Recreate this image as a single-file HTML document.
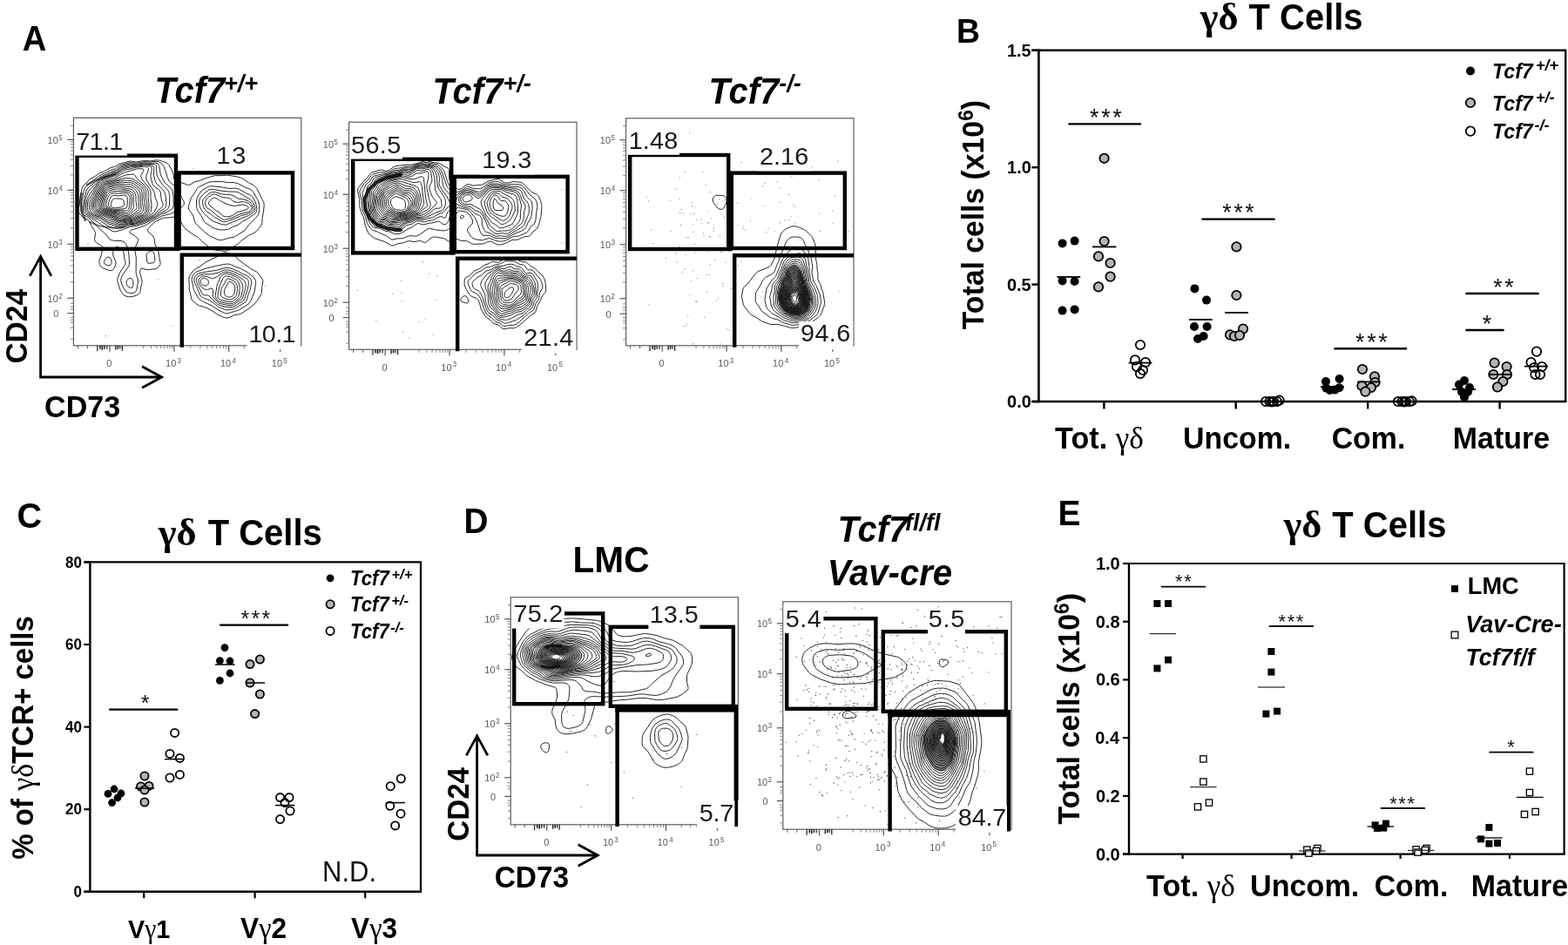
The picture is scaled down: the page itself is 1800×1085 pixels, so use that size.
<!DOCTYPE html>
<html lang="en"><head><meta charset="utf-8"><title>Figure</title>
<style>html,body{margin:0;padding:0;background:#fff}svg{display:block}text{white-space:pre}</style>
</head><body>
<svg width="1800" height="1085" viewBox="0 0 1800 1085" font-family="'Liberation Sans', sans-serif">
<rect width="1800" height="1085" fill="#fff"/>
<clipPath id="clipA1"><rect x="0" y="0" width="261.4" height="261.5"/></clipPath>
<g clip-path="url(#clipA1)" transform="translate(84.4,135.3)" fill="none" stroke="#1c1c1c" stroke-width="0.95" stroke-linejoin="round">
<path d="M78.9,49.5 81.0,49.2 88.1,49.5 96.0,48.5 99.0,49.0 105.4,51.0 108.0,52.5 109.4,54.0 112.5,59.4 114.6,64.5 115.5,70.5 116.6,72.0 132.0,77.2 133.5,76.9 139.5,73.4 145.3,72.0 151.5,69.4 162.0,66.4 171.0,66.3 177.0,65.8 189.0,67.9 192.0,68.7 195.0,70.3 201.0,74.4 207.0,77.5 210.4,81.0 218.5,97.5 218.8,100.5 218.2,106.5 216.7,115.5 216.4,121.5 214.8,124.5 210.0,130.1 207.5,132.0 201.0,135.0 192.9,141.0 189.0,144.5 180.0,150.7 177.0,152.4 174.0,153.1 163.5,152.1 160.5,151.3 157.5,149.9 147.0,141.3 142.5,136.9 136.5,133.5 128.5,127.5 126.1,124.5 121.9,117.0 120.0,114.9 118.5,113.9 115.5,113.7 111.0,114.5 103.5,114.9 101.4,115.5 95.1,118.5 91.1,121.5 85.6,127.5 84.9,129.0 85.4,130.5 90.7,135.0 92.6,138.0 93.6,145.5 96.7,151.5 97.7,154.5 98.4,160.5 99.7,166.5 99.6,168.0 99.0,169.5 97.5,171.4 96.0,172.5 93.0,173.5 85.5,174.4 82.7,174.0 77.9,172.5 76.5,175.2 76.3,178.5 78.5,186.0 78.7,189.0 77.2,195.0 76.6,199.5 75.9,201.0 74.6,202.5 71.8,204.0 67.5,205.2 63.0,205.5 60.0,204.7 58.5,203.9 55.5,201.0 53.8,198.0 50.4,187.5 50.6,184.5 52.9,178.5 54.5,175.5 58.8,169.5 59.5,168.0 59.5,165.0 58.2,160.5 57.8,156.0 57.0,153.0 55.5,150.9 54.0,149.6 51.0,148.3 49.5,148.3 48.0,148.8 46.5,150.5 45.5,153.0 45.2,156.0 45.9,159.0 48.4,165.0 48.6,168.0 46.8,172.5 45.0,174.6 43.5,175.4 40.5,175.1 34.5,172.9 31.6,171.0 29.9,168.0 29.3,165.0 31.9,157.5 33.3,150.0 33.2,148.5 31.5,146.2 27.1,144.0 25.4,142.5 24.4,141.0 24.1,139.5 25.1,133.5 25.1,132.0 23.9,129.0 21.0,124.7 18.0,118.7 16.6,117.0 10.5,113.7 7.7,111.0 6.0,108.0 5.5,105.0 6.9,99.0 7.7,91.5 9.6,81.0 11.4,78.0 18.6,70.5 24.3,67.5 30.0,63.2 35.0,61.5 42.0,57.6 48.0,55.7 52.5,53.0 64.5,49.7 72.0,50.6Z M170.4,156.0 172.5,154.8 174.0,154.7 183.0,156.5 184.5,157.3 188.3,162.0 190.1,163.5 204.0,173.6 210.0,176.7 211.5,177.9 216.5,184.5 217.5,187.5 216.3,195.0 215.9,201.0 215.4,202.5 210.8,210.0 208.4,213.0 202.5,218.2 192.0,225.0 190.5,225.5 184.5,226.4 180.0,228.8 177.0,229.7 174.0,229.5 171.0,228.5 165.0,225.7 159.0,221.5 154.5,219.0 150.0,217.2 144.0,215.5 140.2,213.0 136.6,210.0 135.6,208.5 132.8,196.5 132.9,190.5 132.4,186.0 132.6,183.0 134.1,180.0 137.5,175.5 139.5,173.8 145.5,170.5 151.5,165.8 165.6,159.0Z M77.9,51.0 81.0,50.4 88.5,50.7 94.5,50.0 97.5,50.4 101.2,52.5 103.5,55.5 105.8,61.5 107.9,69.0 110.4,73.5 114.0,76.8 120.0,78.9 121.1,79.5 122.4,81.0 122.7,82.5 122.7,88.5 124.0,91.5 126.8,96.0 127.0,99.0 126.2,100.5 121.2,105.0 116.4,108.0 111.0,110.3 101.9,112.5 90.4,118.5 84.0,122.7 73.5,126.7 66.0,128.9 64.4,130.5 64.5,132.1 70.5,135.5 73.4,138.0 74.3,139.5 74.3,141.0 71.0,148.5 70.4,151.5 71.9,160.5 71.7,177.0 72.2,180.0 74.1,186.0 74.0,189.0 72.3,198.0 71.5,199.5 69.0,201.1 66.0,201.4 63.0,200.8 60.0,199.5 58.5,197.4 55.3,190.5 54.4,187.5 54.6,184.5 55.5,182.0 58.6,177.0 63.1,171.0 64.2,168.0 63.6,157.5 62.2,150.0 60.6,145.5 58.5,142.9 55.5,141.3 46.5,141.0 43.5,140.4 41.4,139.5 37.0,133.5 30.0,127.5 18.4,115.5 16.4,114.0 12.0,111.7 10.5,110.4 9.0,108.0 8.5,105.0 10.1,93.0 11.8,84.0 12.8,81.0 18.0,75.5 28.5,67.2 31.5,65.2 37.3,63.0 42.0,60.2 48.0,58.5 52.5,55.2 55.5,53.8 64.5,51.3 72.0,51.9Z M157.5,73.5 169.5,73.0 177.0,74.3 184.5,74.3 189.0,75.5 196.5,79.4 204.0,82.6 206.6,85.5 212.4,96.0 213.3,100.5 213.3,106.5 212.7,109.5 211.5,112.1 210.0,114.1 201.1,123.0 196.5,129.4 184.5,136.8 177.0,138.2 171.0,140.2 168.0,140.4 165.0,139.7 156.0,135.3 150.0,130.6 140.4,121.5 138.9,118.5 137.9,114.0 136.7,111.0 132.3,105.0 131.8,102.0 135.2,91.5 139.5,85.5 142.0,81.0 144.0,79.3 153.0,74.9Z M88.2,153.0 90.0,152.9 92.0,154.5 92.9,157.5 93.5,163.5 93.0,165.4 91.5,166.4 87.0,167.2 85.5,166.8 84.3,165.0 83.6,157.5 84.0,156.0 85.4,154.5Z M38.0,160.5 39.0,159.9 40.5,159.9 42.0,160.9 43.4,163.5 43.7,165.0 43.5,167.3 42.0,169.5 40.5,169.7 37.5,168.7 36.1,168.0 35.1,166.5 35.1,165.0 35.8,163.5Z M174.2,168.0 177.0,167.7 180.0,168.2 185.9,171.0 192.0,173.1 199.5,177.2 206.8,183.0 208.7,186.0 209.3,189.0 207.8,199.5 203.4,210.0 201.5,213.0 199.5,214.7 190.1,220.5 178.5,224.2 175.5,224.7 174.0,224.4 166.5,220.9 159.0,215.7 148.5,211.0 144.7,208.5 142.4,205.5 138.0,197.3 135.7,186.0 136.1,183.0 136.8,181.5 138.9,178.5 141.0,176.8 153.0,172.6 163.5,170.1Z M76.7,52.5 81.0,51.5 88.5,52.0 94.5,51.7 96.6,52.5 97.9,54.0 98.4,55.5 99.8,64.5 102.4,70.5 105.3,75.0 112.1,81.0 113.7,84.0 114.8,91.5 114.8,100.5 113.9,103.5 112.6,105.0 108.1,108.0 100.5,110.8 94.5,114.5 82.5,120.8 72.0,124.3 64.5,125.2 57.0,128.4 48.0,130.6 46.5,130.6 43.5,129.5 33.0,123.5 28.5,119.9 22.5,116.4 12.5,109.5 11.4,108.0 10.8,106.5 10.8,103.5 12.3,93.0 15.0,82.8 16.5,80.6 22.5,75.8 29.1,69.0 31.5,67.3 37.5,64.9 42.0,62.4 49.2,60.0 54.0,56.1 57.0,54.8 64.5,52.7 72.0,53.1Z M153.9,79.5 156.0,78.5 159.0,78.4 171.0,79.7 178.5,81.1 186.0,80.8 190.5,82.1 198.0,86.4 202.5,88.4 205.5,91.1 208.3,96.0 209.9,100.5 210.5,105.0 209.8,108.0 208.8,109.5 207.0,110.9 199.5,116.1 194.5,118.5 189.0,122.9 183.0,125.0 177.0,128.2 172.5,128.7 168.0,128.6 162.0,127.0 159.0,125.6 151.5,120.5 150.0,118.9 146.6,112.5 142.4,106.5 141.1,102.0 141.1,94.5 142.1,91.5 144.0,88.0 147.0,83.7Z M172.7,172.5 177.0,172.1 180.0,172.6 189.0,176.2 193.5,178.7 198.0,180.7 201.0,182.6 202.8,184.5 203.7,186.0 204.4,189.0 202.6,198.0 200.3,204.0 199.1,208.5 197.4,211.5 186.0,218.5 183.0,219.5 177.0,220.5 174.0,220.3 166.5,217.2 160.5,212.4 156.0,209.6 153.0,208.1 150.0,207.4 147.0,205.7 144.6,202.5 142.4,196.5 138.9,189.0 138.4,186.0 139.0,183.0 139.9,181.5 141.4,180.0 144.0,178.6 148.5,177.4 165.0,174.9Z M63.6,184.5 64.5,184.1 66.0,184.3 67.5,185.4 68.4,187.5 68.5,192.0 67.5,195.0 66.0,195.3 64.5,194.8 62.4,193.5 61.2,192.0 60.7,190.5 60.9,187.5 61.5,186.2Z M81.2,52.5 93.0,53.5 94.2,54.0 95.2,55.5 95.4,64.5 96.3,67.5 101.8,76.5 108.0,82.6 108.9,84.0 110.0,87.0 110.3,91.5 110.1,100.5 109.0,103.5 107.8,105.0 105.9,106.5 99.0,109.8 94.5,113.0 82.5,119.3 72.0,122.8 64.5,123.6 57.0,126.3 51.0,127.0 46.5,126.6 42.0,125.2 39.0,123.8 29.2,117.0 24.0,115.2 21.0,113.5 15.0,109.5 13.4,108.0 12.3,105.0 13.3,96.0 13.9,93.0 16.7,85.5 18.5,82.5 24.0,77.3 30.0,70.0 33.0,68.0 38.2,66.0 42.0,64.0 49.3,61.5 54.0,57.7 57.0,56.1 64.5,54.0 73.5,54.0Z M155.6,82.5 159.0,81.9 169.5,83.8 178.5,84.7 186.0,84.8 189.0,85.4 204.0,94.4 206.3,97.5 207.7,100.5 208.3,103.5 208.0,106.5 207.0,108.0 205.5,109.3 201.0,112.2 192.1,115.5 187.5,117.9 181.5,119.9 175.5,122.8 171.0,122.6 160.5,118.9 157.5,116.9 150.0,110.0 146.3,105.0 145.0,102.0 144.4,99.0 144.4,94.5 145.7,91.5 149.6,87.0Z M171.1,175.5 174.0,174.7 178.5,174.8 187.5,178.2 198.9,184.5 200.2,186.0 200.8,187.5 200.9,190.5 199.9,196.5 196.2,208.5 195.1,210.0 193.5,211.0 189.5,213.0 185.7,216.0 183.0,217.2 175.5,217.4 168.0,215.3 165.0,213.6 159.2,208.5 156.0,204.8 154.5,203.7 150.0,203.6 148.5,202.8 147.0,200.9 141.5,189.0 140.9,186.0 141.2,184.5 142.5,182.5 145.5,180.4 150.0,179.4 156.0,179.6 159.0,179.3 166.5,177.7Z M78.4,54.0 82.5,53.4 86.9,54.0 91.5,55.4 92.5,57.0 92.1,66.0 94.0,73.5 96.0,76.4 99.9,79.5 102.6,82.5 104.5,85.5 105.6,88.5 106.5,97.5 106.4,100.5 105.2,103.5 103.5,105.0 99.0,107.5 93.0,112.4 82.5,117.9 70.5,121.9 63.0,122.6 57.0,124.7 54.0,125.1 51.0,124.8 40.5,122.0 30.7,115.5 28.5,114.5 24.0,113.4 21.0,111.9 15.8,108.0 14.7,106.5 14.2,103.5 14.9,96.0 15.8,93.0 22.2,82.5 28.8,73.5 31.5,70.6 34.2,69.0 42.0,65.6 49.5,62.8 57.0,57.5 66.0,55.1 73.5,54.9Z M157.9,85.5 162.0,85.1 171.0,87.8 180.0,88.2 184.5,89.9 189.0,92.9 193.5,93.2 196.5,93.9 201.0,95.8 204.0,98.1 206.1,102.0 206.3,105.0 205.6,106.5 204.1,108.0 199.5,110.4 192.0,112.5 184.5,115.9 175.5,119.3 172.5,119.5 171.0,119.2 162.0,114.3 156.5,109.5 153.0,107.5 150.5,105.0 149.0,102.0 148.1,97.5 148.5,94.5 149.3,93.0 154.5,87.5Z M174.0,177.0 178.5,177.3 187.5,180.7 194.8,186.0 196.5,187.5 197.3,189.0 197.7,192.0 197.2,196.5 194.1,207.0 192.7,208.5 189.0,210.7 184.5,214.2 183.0,214.9 180.0,215.3 175.5,214.9 169.5,213.5 166.5,212.3 162.4,208.5 160.4,205.5 159.9,204.0 160.2,198.0 159.0,195.7 157.5,195.7 154.5,197.1 153.0,197.4 150.0,196.5 147.0,194.4 145.2,192.0 143.9,189.0 143.7,186.0 144.3,184.5 145.5,183.2 147.0,182.2 148.5,181.8 151.5,181.8 154.5,182.6 159.0,184.6 160.5,184.3 165.0,182.3 171.0,178.0Z M75.4,55.5 81.0,54.5 84.0,54.5 87.6,55.5 89.6,57.0 89.8,60.0 88.7,64.5 88.5,67.5 90.4,75.0 91.5,77.2 93.0,79.1 98.1,82.5 99.9,85.5 100.7,93.0 102.6,99.0 102.6,100.5 102.0,102.1 97.5,106.0 94.4,109.5 91.5,111.7 81.0,117.4 70.5,121.0 63.4,121.5 57.0,123.5 54.0,123.7 51.0,123.2 46.5,121.6 40.5,120.1 30.9,114.0 22.5,111.4 17.9,108.0 16.7,106.5 15.9,103.5 16.2,97.5 17.0,94.5 21.0,88.8 25.1,81.0 29.1,75.0 31.5,72.3 36.0,69.5 49.5,64.0 55.5,59.8 58.0,58.5 66.0,56.4Z M158.5,88.5 160.5,87.8 162.0,87.7 163.5,88.0 171.0,91.2 178.5,92.1 180.0,92.9 183.6,96.0 186.0,96.9 189.0,97.0 195.0,96.3 198.0,97.0 201.0,98.4 203.4,100.5 204.2,102.0 204.5,103.5 204.2,105.0 203.1,106.5 201.0,107.8 190.5,110.7 181.5,115.0 174.0,117.0 171.0,116.6 163.5,111.4 157.5,105.9 153.4,103.5 151.5,100.5 151.1,97.5 151.9,94.5 154.5,91.4Z M171.6,180.0 174.0,179.1 177.0,179.1 180.0,179.9 187.5,183.0 190.8,186.0 192.9,189.0 194.2,192.0 194.4,196.5 192.2,205.5 191.0,207.0 184.5,212.1 183.0,212.9 180.0,213.4 177.0,213.2 168.0,211.1 166.5,210.3 164.5,208.5 163.0,205.5 162.8,204.0 165.1,190.5 168.7,183.0Z M147.6,184.5 150.0,184.0 151.5,184.3 154.1,186.0 154.9,187.5 155.1,189.0 154.8,190.5 153.8,192.0 153.0,192.6 150.0,192.7 148.5,192.2 147.0,191.0 146.0,189.0 145.8,187.5 146.2,186.0Z M71.9,57.0 81.0,55.8 84.0,56.2 85.6,57.0 86.1,58.5 85.9,60.0 83.2,67.5 83.4,70.5 84.9,73.5 92.1,84.0 93.1,87.0 93.7,91.5 96.3,97.5 96.6,99.0 95.9,102.0 92.6,108.0 91.3,109.5 82.5,115.4 72.0,119.4 69.0,120.1 63.0,120.6 55.5,122.4 52.5,122.1 46.5,119.7 40.5,117.9 31.5,112.7 24.0,110.4 22.2,109.5 20.3,108.0 19.2,106.5 18.2,103.5 18.1,99.0 18.6,96.0 22.5,90.0 26.0,82.5 29.8,76.5 32.3,73.5 36.0,71.1 49.5,65.5 58.5,60.1Z M158.9,93.0 160.5,92.0 162.0,91.6 163.5,92.1 168.0,95.1 172.5,97.4 178.5,99.8 183.0,101.0 186.0,101.0 193.5,99.7 196.5,100.0 198.1,100.5 200.2,102.0 200.7,103.5 199.3,105.0 187.5,108.6 181.5,112.6 178.5,113.4 174.0,113.6 171.4,112.5 168.0,109.0 163.5,106.4 156.2,100.5 155.3,99.0 155.1,97.5 156.0,95.6Z M172.3,183.0 174.0,181.9 175.5,181.6 180.0,182.4 187.1,186.0 188.5,187.5 190.1,190.5 191.0,195.0 189.8,204.0 187.7,207.0 183.0,210.6 181.5,211.1 178.5,211.2 169.5,209.2 168.0,208.6 166.5,207.3 165.6,205.5 165.8,202.5 167.5,193.5 171.4,184.5Z M73.1,58.5 79.6,58.5 80.5,60.0 80.2,61.5 77.4,66.0 77.3,67.5 78.7,70.5 80.8,73.5 87.1,81.0 88.4,84.0 88.7,87.0 88.5,91.5 89.5,99.0 89.3,105.0 88.6,108.0 86.1,111.0 81.0,114.7 70.5,118.6 63.0,119.5 55.5,120.9 52.5,120.5 46.5,117.8 42.0,116.3 34.7,112.5 24.0,108.4 22.5,107.4 21.0,105.3 20.4,103.5 20.1,100.5 20.3,97.5 21.6,94.5 24.4,90.0 27.8,82.5 33.0,75.0 36.0,72.9 46.5,69.0 58.5,62.7Z M175.1,186.0 177.0,184.8 178.5,184.8 181.5,185.9 186.0,188.9 187.7,192.0 188.1,196.5 187.6,201.0 186.7,204.0 184.5,206.8 181.5,208.4 178.5,208.7 175.5,208.2 171.0,206.1 170.1,205.5 169.2,204.0 169.1,201.0 169.6,196.5 171.0,193.6 173.2,190.5Z M58.9,66.0 61.5,65.3 69.0,64.7 70.5,65.9 72.4,69.0 73.8,70.5 79.5,75.5 84.4,81.0 85.3,82.5 86.0,85.5 85.6,91.5 86.5,97.5 86.6,105.0 86.0,108.0 85.2,109.5 83.9,111.0 81.0,113.2 69.0,117.8 55.5,119.7 52.5,119.1 24.2,106.5 22.9,105.0 22.3,103.5 21.8,99.0 22.6,96.0 25.5,91.0 28.6,84.0 32.3,78.0 34.5,75.5 37.5,73.7 43.6,72.0Z M177.8,189.0 178.5,188.3 180.0,188.2 183.0,190.0 184.6,192.0 185.4,195.0 185.0,199.5 184.1,202.5 183.1,204.0 181.5,205.2 178.5,205.9 176.2,205.5 174.2,204.0 173.4,202.5 172.9,199.5 173.6,196.5Z M52.5,70.5 60.0,69.1 64.5,69.4 67.5,70.0 70.5,71.5 78.0,76.8 82.0,81.0 83.3,84.0 83.0,91.5 84.3,99.0 84.6,105.0 84.1,108.0 83.3,109.5 81.0,111.7 69.0,116.7 55.4,118.5 52.5,117.8 46.5,114.8 31.5,108.6 25.5,105.4 24.0,103.5 23.2,100.5 23.5,97.5 24.0,96.2 26.8,91.5 30.1,84.0 34.5,77.3 37.5,75.1Z M54.3,72.0 61.5,71.8 67.5,72.5 70.5,74.1 76.5,78.1 79.6,81.0 80.9,84.0 80.8,91.5 82.7,105.0 82.2,108.0 81.3,109.5 79.5,111.0 67.5,116.0 60.0,117.2 55.5,117.4 52.5,116.6 47.4,114.0 32.7,108.0 27.5,105.0 25.9,103.5 24.7,100.5 24.9,97.5 28.3,91.5 30.8,85.5 35.5,78.0 37.4,76.5 39.0,75.8 43.5,74.8 49.5,72.6Z M47.2,75.0 49.5,74.2 52.5,73.8 66.0,74.5 69.0,75.6 76.5,81.0 78.0,83.1 78.6,85.5 79.0,96.0 80.3,105.0 79.6,108.0 78.1,109.5 69.0,114.0 66.0,115.1 60.0,116.1 55.5,116.0 52.5,115.1 33.0,106.9 28.3,103.5 27.1,102.0 26.6,100.5 26.8,97.5 30.0,91.5 32.4,85.5 35.0,81.0 37.5,78.1 39.0,77.3Z M47.2,76.5 49.5,75.7 52.5,75.5 60.0,76.8 66.0,76.8 69.0,78.1 74.4,82.5 76.2,85.5 76.6,88.5 76.9,97.5 77.8,105.0 77.4,106.5 76.3,108.0 65.6,114.0 61.5,114.9 58.5,114.9 54.0,114.1 43.5,110.1 34.5,106.4 32.0,105.0 30.4,103.5 28.7,100.5 28.9,97.5 33.1,87.0 35.6,82.5 37.5,80.0 39.0,78.9Z M47.5,78.0 49.5,77.4 52.5,77.2 60.0,79.0 66.0,79.3 69.0,80.8 70.9,82.5 73.2,85.5 74.4,90.0 74.7,97.5 75.4,103.5 75.2,105.0 74.3,106.5 65.6,112.5 63.0,113.5 60.0,113.8 57.0,113.3 43.5,109.1 34.5,105.2 32.2,103.5 30.5,100.5 30.7,97.5 33.9,88.5 36.0,84.3 39.0,80.7 40.5,80.0Z M48.6,79.5 52.5,79.2 60.0,81.1 66.0,81.9 67.5,82.7 68.9,84.0 70.8,87.0 71.6,90.0 71.6,96.0 72.7,102.0 72.6,103.5 71.8,105.0 69.0,107.1 65.0,111.0 63.0,112.1 61.5,112.5 58.5,112.2 54.0,110.7 45.0,108.7 36.0,104.8 34.0,103.5 32.7,102.0 32.2,100.5 32.3,97.5 35.2,88.5 37.5,84.4 39.0,82.8 40.5,81.8Z M44.7,82.5 49.5,81.6 54.0,81.7 64.5,83.9 66.0,84.6 67.5,86.1 69.0,90.0 68.7,97.5 69.1,102.0 68.7,103.5 66.7,106.5 64.5,109.2 63.0,110.4 61.5,110.9 60.0,110.9 54.0,109.1 45.0,107.8 36.0,103.5 34.4,102.0 33.7,100.5 33.8,97.5 36.1,90.0 37.5,87.0 39.0,85.0 40.5,83.8Z M41.5,85.5 46.5,84.2 57.0,84.1 63.0,85.5 65.4,87.0 66.3,88.5 66.9,91.5 66.4,102.0 65.3,105.0 63.0,108.2 61.5,109.0 60.0,109.1 54.0,107.5 48.0,107.4 45.0,106.9 40.8,105.0 36.4,102.0 35.5,100.5 35.3,99.0 37.2,91.5 39.0,87.7Z M43.4,87.0 46.5,86.4 51.0,86.8 57.0,86.1 61.3,87.0 63.6,88.5 64.5,90.0 64.8,91.5 64.3,100.5 63.7,103.5 63.0,105.0 61.5,106.5 60.0,106.9 54.0,106.0 46.5,106.2 42.7,105.0 38.6,102.0 37.6,100.5 37.3,99.0 39.0,92.4 40.5,89.3 42.0,87.8Z M43.5,90.0 45.0,89.2 46.5,89.0 52.5,89.6 57.0,88.6 58.5,88.7 61.0,90.0 61.9,91.5 62.0,93.0 61.8,100.5 61.5,102.0 60.5,103.5 58.5,104.4 48.0,105.1 45.0,104.7 42.5,103.5 40.8,102.0 40.1,100.5 39.9,99.0 41.6,93.0Z M45.8,93.0 48.0,92.5 55.5,93.0 57.3,94.5 58.0,97.5 57.9,100.5 56.3,102.0 54.0,102.6 48.0,103.6 45.0,103.1 43.4,102.0 42.8,100.5 42.8,99.0 44.5,94.5Z"/>
<path d="M9.1,86.7 8.1,96.7 9.6,108.7 13.6,117.7" stroke="#000" stroke-opacity="0.6" stroke-width="2.6" stroke-linecap="round" stroke-linejoin="round"/>
<path d="M15.6,76.7 25.6,71.7 37.6,67.7 47.6,64.7" stroke="#000" stroke-opacity="0.55" stroke-width="2.6" stroke-linecap="round" stroke-linejoin="round"/>
<path d="M18.6,119.7 29.6,124.2 43.6,126.2 57.6,125.7" stroke="#000" stroke-opacity="0.5" stroke-width="2.2" stroke-linecap="round" stroke-linejoin="round"/>
<path d="M44.1,158.7h1.1 M15.9,144.8h1.1 M112.0,239.0h1.1 M219.6,193.0h1.1 M154.4,179.9h1.1 M145.7,150.6h1.1 M36.6,250.3h1.1 M136.2,58.0h1.1 M75.2,187.2h1.1 M65.9,107.5h1.1 M122.1,168.5h1.1 M96.9,185.4h1.1 M144.1,163.1h1.1 M158.3,204.0h1.1 M89.6,103.1h1.1 M77.4,81.4h1.1 M126.1,155.2h1.1 M154.3,109.3h1.1 M181.0,121.8h1.1 M50.2,123.9h1.1 M63.9,162.3h1.1 M168.0,187.5h1.1" stroke="#8a8a8a" stroke-width="1.1"/>
</g>
<rect x="84.40" y="135.30" width="261.40" height="261.50" fill="none" stroke="#555" stroke-width="1.15"/>
<line x1="77.40" y1="160.30" x2="84.40" y2="160.30" stroke="#444" stroke-width="1.1"/>
<line x1="77.40" y1="218.30" x2="84.40" y2="218.30" stroke="#444" stroke-width="1.1"/>
<line x1="77.40" y1="280.30" x2="84.40" y2="280.30" stroke="#444" stroke-width="1.1"/>
<line x1="77.40" y1="342.30" x2="84.40" y2="342.30" stroke="#444" stroke-width="1.1"/>
<line x1="77.40" y1="359.70" x2="84.40" y2="359.70" stroke="#444" stroke-width="1.1"/>
<line x1="80.90" y1="200.84" x2="84.40" y2="200.84" stroke="#777" stroke-width="0.9"/>
<line x1="80.90" y1="190.63" x2="84.40" y2="190.63" stroke="#777" stroke-width="0.9"/>
<line x1="80.90" y1="183.38" x2="84.40" y2="183.38" stroke="#777" stroke-width="0.9"/>
<line x1="80.90" y1="177.76" x2="84.40" y2="177.76" stroke="#777" stroke-width="0.9"/>
<line x1="80.90" y1="173.17" x2="84.40" y2="173.17" stroke="#777" stroke-width="0.9"/>
<line x1="80.90" y1="169.28" x2="84.40" y2="169.28" stroke="#777" stroke-width="0.9"/>
<line x1="80.90" y1="165.92" x2="84.40" y2="165.92" stroke="#777" stroke-width="0.9"/>
<line x1="80.90" y1="162.95" x2="84.40" y2="162.95" stroke="#777" stroke-width="0.9"/>
<line x1="80.90" y1="261.64" x2="84.40" y2="261.64" stroke="#777" stroke-width="0.9"/>
<line x1="80.90" y1="250.72" x2="84.40" y2="250.72" stroke="#777" stroke-width="0.9"/>
<line x1="80.90" y1="242.97" x2="84.40" y2="242.97" stroke="#777" stroke-width="0.9"/>
<line x1="80.90" y1="236.96" x2="84.40" y2="236.96" stroke="#777" stroke-width="0.9"/>
<line x1="80.90" y1="232.05" x2="84.40" y2="232.05" stroke="#777" stroke-width="0.9"/>
<line x1="80.90" y1="227.90" x2="84.40" y2="227.90" stroke="#777" stroke-width="0.9"/>
<line x1="80.90" y1="224.31" x2="84.40" y2="224.31" stroke="#777" stroke-width="0.9"/>
<line x1="80.90" y1="221.14" x2="84.40" y2="221.14" stroke="#777" stroke-width="0.9"/>
<line x1="80.90" y1="323.64" x2="84.40" y2="323.64" stroke="#777" stroke-width="0.9"/>
<line x1="80.90" y1="312.72" x2="84.40" y2="312.72" stroke="#777" stroke-width="0.9"/>
<line x1="80.90" y1="304.97" x2="84.40" y2="304.97" stroke="#777" stroke-width="0.9"/>
<line x1="80.90" y1="298.96" x2="84.40" y2="298.96" stroke="#777" stroke-width="0.9"/>
<line x1="80.90" y1="294.05" x2="84.40" y2="294.05" stroke="#777" stroke-width="0.9"/>
<line x1="80.90" y1="289.90" x2="84.40" y2="289.90" stroke="#777" stroke-width="0.9"/>
<line x1="80.90" y1="286.31" x2="84.40" y2="286.31" stroke="#777" stroke-width="0.9"/>
<line x1="80.90" y1="283.14" x2="84.40" y2="283.14" stroke="#777" stroke-width="0.9"/>
<line x1="80.90" y1="144.30" x2="84.40" y2="144.30" stroke="#777" stroke-width="0.9"/>
<line x1="80.90" y1="348.30" x2="84.40" y2="348.30" stroke="#777" stroke-width="0.9"/>
<line x1="80.90" y1="352.30" x2="84.40" y2="352.30" stroke="#777" stroke-width="0.9"/>
<line x1="80.90" y1="355.30" x2="84.40" y2="355.30" stroke="#777" stroke-width="0.9"/>
<line x1="80.90" y1="364.30" x2="84.40" y2="364.30" stroke="#777" stroke-width="0.9"/>
<line x1="80.90" y1="367.30" x2="84.40" y2="367.30" stroke="#777" stroke-width="0.9"/>
<line x1="80.90" y1="370.30" x2="84.40" y2="370.30" stroke="#777" stroke-width="0.9"/>
<line x1="80.90" y1="376.30" x2="84.40" y2="376.30" stroke="#777" stroke-width="0.9"/>
<line x1="80.90" y1="389.30" x2="84.40" y2="389.30" stroke="#777" stroke-width="0.9"/>
<line x1="126.00" y1="396.80" x2="126.00" y2="403.80" stroke="#444" stroke-width="1.1"/>
<line x1="199.90" y1="396.80" x2="199.90" y2="403.80" stroke="#444" stroke-width="1.1"/>
<line x1="262.70" y1="396.80" x2="262.70" y2="403.80" stroke="#444" stroke-width="1.1"/>
<line x1="321.60" y1="396.80" x2="321.60" y2="403.80" stroke="#444" stroke-width="1.1"/>
<line x1="218.80" y1="396.80" x2="218.80" y2="400.30" stroke="#777" stroke-width="0.9"/>
<line x1="229.86" y1="396.80" x2="229.86" y2="400.30" stroke="#777" stroke-width="0.9"/>
<line x1="237.71" y1="396.80" x2="237.71" y2="400.30" stroke="#777" stroke-width="0.9"/>
<line x1="243.80" y1="396.80" x2="243.80" y2="400.30" stroke="#777" stroke-width="0.9"/>
<line x1="248.77" y1="396.80" x2="248.77" y2="400.30" stroke="#777" stroke-width="0.9"/>
<line x1="252.97" y1="396.80" x2="252.97" y2="400.30" stroke="#777" stroke-width="0.9"/>
<line x1="256.61" y1="396.80" x2="256.61" y2="400.30" stroke="#777" stroke-width="0.9"/>
<line x1="259.83" y1="396.80" x2="259.83" y2="400.30" stroke="#777" stroke-width="0.9"/>
<line x1="280.43" y1="396.80" x2="280.43" y2="400.30" stroke="#777" stroke-width="0.9"/>
<line x1="290.80" y1="396.80" x2="290.80" y2="400.30" stroke="#777" stroke-width="0.9"/>
<line x1="298.16" y1="396.80" x2="298.16" y2="400.30" stroke="#777" stroke-width="0.9"/>
<line x1="303.87" y1="396.80" x2="303.87" y2="400.30" stroke="#777" stroke-width="0.9"/>
<line x1="308.53" y1="396.80" x2="308.53" y2="400.30" stroke="#777" stroke-width="0.9"/>
<line x1="312.48" y1="396.80" x2="312.48" y2="400.30" stroke="#777" stroke-width="0.9"/>
<line x1="315.89" y1="396.80" x2="315.89" y2="400.30" stroke="#777" stroke-width="0.9"/>
<line x1="318.90" y1="396.80" x2="318.90" y2="400.30" stroke="#777" stroke-width="0.9"/>
<line x1="164.78" y1="396.80" x2="164.78" y2="400.30" stroke="#777" stroke-width="0.9"/>
<line x1="173.62" y1="396.80" x2="173.62" y2="400.30" stroke="#777" stroke-width="0.9"/>
<line x1="179.90" y1="396.80" x2="179.90" y2="400.30" stroke="#777" stroke-width="0.9"/>
<line x1="184.77" y1="396.80" x2="184.77" y2="400.30" stroke="#777" stroke-width="0.9"/>
<line x1="188.75" y1="396.80" x2="188.75" y2="400.30" stroke="#777" stroke-width="0.9"/>
<line x1="192.12" y1="396.80" x2="192.12" y2="400.30" stroke="#777" stroke-width="0.9"/>
<line x1="195.03" y1="396.80" x2="195.03" y2="400.30" stroke="#777" stroke-width="0.9"/>
<line x1="197.60" y1="396.80" x2="197.60" y2="400.30" stroke="#777" stroke-width="0.9"/>
<line x1="89.40" y1="396.80" x2="89.40" y2="400.30" stroke="#555" stroke-width="1.0"/>
<line x1="100.40" y1="396.80" x2="100.40" y2="400.30" stroke="#555" stroke-width="1.0"/>
<line x1="336.40" y1="396.80" x2="336.40" y2="400.30" stroke="#555" stroke-width="1.0"/>
<line x1="111.80" y1="396.80" x2="111.80" y2="403.30" stroke="#222" stroke-width="1.2"/>
<line x1="114.90" y1="396.80" x2="114.90" y2="400.80" stroke="#222" stroke-width="1.6"/>
<line x1="117.40" y1="396.80" x2="117.40" y2="401.80" stroke="#222" stroke-width="1.6"/>
<line x1="120.00" y1="396.80" x2="120.00" y2="400.80" stroke="#222" stroke-width="1.4"/>
<line x1="122.80" y1="396.80" x2="122.80" y2="400.80" stroke="#222" stroke-width="1.2"/>
<line x1="132.90" y1="396.80" x2="132.90" y2="401.80" stroke="#222" stroke-width="1.4"/>
<line x1="135.40" y1="396.80" x2="135.40" y2="400.80" stroke="#222" stroke-width="1.6"/>
<line x1="137.80" y1="396.80" x2="137.80" y2="400.80" stroke="#222" stroke-width="1.2"/>
<line x1="140.40" y1="396.80" x2="140.40" y2="402.80" stroke="#222" stroke-width="1.3"/>
<clipPath id="clipA2"><rect x="0" y="0" width="261.4" height="261.1"/></clipPath>
<g clip-path="url(#clipA2)" transform="translate(400.6,140.2)" fill="none" stroke="#1c1c1c" stroke-width="0.95" stroke-linejoin="round">
<path d="M85.6,45.0 88.5,44.4 90.0,44.5 96.0,46.3 103.5,47.1 109.5,51.0 113.3,52.5 114.5,54.0 115.0,55.5 115.0,64.5 115.6,67.5 116.9,70.5 124.0,76.5 126.0,77.3 129.0,76.6 133.5,72.8 136.5,71.3 138.0,71.3 142.5,73.0 153.0,71.8 160.5,67.6 169.5,65.5 172.5,65.6 177.5,69.0 180.0,69.8 183.0,69.7 189.0,68.3 196.5,69.0 199.5,70.1 210.0,80.6 216.0,83.1 217.0,84.0 219.9,90.0 221.1,94.5 221.3,97.5 220.5,108.0 217.7,118.5 216.4,121.5 215.0,123.0 211.5,125.6 209.1,129.0 207.0,130.8 201.0,131.7 193.5,135.1 187.5,135.2 180.0,139.0 175.5,140.4 172.5,140.9 169.5,140.4 165.0,137.9 162.0,136.9 159.0,137.5 154.5,139.7 144.0,140.2 141.0,139.6 136.5,136.9 135.0,136.5 129.0,136.3 124.5,134.4 121.5,134.5 115.5,136.9 114.0,136.7 109.5,133.7 99.0,131.7 96.0,132.1 94.5,132.8 90.0,136.7 88.5,137.8 87.0,138.3 85.5,138.0 82.5,136.3 81.0,136.2 75.0,137.5 69.0,136.4 67.5,136.6 61.5,138.9 56.4,139.5 51.0,141.7 49.5,141.8 48.0,141.4 40.5,137.1 29.5,133.5 24.0,129.3 22.5,127.7 21.0,124.8 18.7,118.5 16.8,109.5 14.1,103.5 12.3,97.5 12.1,88.5 10.0,79.5 10.2,76.5 11.0,75.0 17.2,67.5 21.0,64.1 24.0,59.9 25.5,58.4 27.0,57.5 36.0,54.9 37.5,54.9 42.0,56.2 43.5,56.2 45.8,55.5 51.0,51.7 54.0,50.4 64.5,49.1 72.0,48.9 81.3,46.5Z M129.0,107.3 128.2,108.0 127.8,109.5 129.0,111.1 131.4,109.5 131.8,108.0 130.5,107.1Z M177.3,157.5 180.0,156.4 186.0,156.7 190.5,156.5 193.3,157.5 196.5,159.7 198.0,160.2 202.5,160.6 204.0,161.2 208.0,165.0 213.4,168.0 217.5,172.3 221.8,175.5 224.3,180.0 225.6,184.5 226.1,192.0 225.7,195.0 225.0,196.4 221.7,199.5 219.5,205.5 216.0,211.2 214.5,217.0 213.4,219.0 208.5,222.0 199.5,230.1 195.0,233.5 192.0,235.6 189.0,236.7 184.5,236.4 178.5,237.5 177.0,237.3 175.5,236.5 172.5,233.6 171.0,232.7 165.7,231.0 162.0,227.0 157.5,224.0 155.8,222.0 151.6,214.5 150.0,208.2 148.5,204.5 146.7,202.5 145.5,201.8 141.0,200.3 138.0,197.8 133.2,189.0 132.4,186.0 132.6,181.5 133.5,179.0 135.0,177.8 138.0,176.6 139.5,175.5 142.5,172.0 144.0,170.8 150.0,168.3 154.5,164.6 160.5,162.4 163.5,160.6 165.0,160.2 171.0,161.0 172.8,160.5Z M86.1,46.5 90.0,46.3 100.5,48.4 103.2,49.5 105.0,51.0 107.7,54.0 109.5,57.0 112.8,67.5 114.7,72.0 115.7,73.5 119.2,76.5 121.5,79.2 123.0,80.1 124.5,80.2 127.5,79.3 130.0,78.0 135.0,74.2 136.5,73.9 142.5,76.1 148.5,76.6 151.5,76.2 154.5,74.5 160.5,69.9 163.5,69.0 168.0,68.4 171.0,68.3 172.5,68.7 176.2,70.5 180.0,71.7 187.5,71.4 195.0,71.7 198.0,72.4 199.5,73.5 202.3,76.5 207.0,82.8 213.0,87.6 214.7,90.0 215.9,93.0 216.2,97.5 215.2,103.5 214.3,112.5 213.0,116.6 208.5,120.1 205.5,125.4 204.0,126.7 195.0,130.8 189.0,131.3 187.5,131.8 180.0,135.9 177.0,136.7 174.0,137.0 169.5,136.5 162.0,133.5 160.5,133.3 153.0,135.7 145.5,134.7 142.5,133.4 139.4,130.5 136.0,124.5 136.0,123.0 136.7,121.5 141.5,117.0 142.1,114.0 141.3,111.0 137.3,105.0 135.6,103.5 133.5,102.8 127.5,101.8 126.0,102.0 124.5,103.2 123.4,105.0 120.0,111.7 117.9,118.5 116.4,121.5 114.0,123.4 111.0,124.4 108.0,124.7 99.0,123.6 93.0,122.1 91.5,122.3 88.5,123.8 81.5,129.0 78.0,130.7 75.0,130.9 70.5,130.4 67.5,131.1 61.5,133.6 55.5,133.7 49.5,135.0 48.0,134.5 43.1,130.5 37.5,128.4 33.0,126.1 27.0,123.8 24.0,121.1 21.0,116.3 18.6,108.0 15.9,102.0 15.1,99.0 14.6,90.0 12.7,82.5 12.3,79.5 13.5,76.5 17.4,70.5 22.5,65.8 25.5,61.4 27.0,60.1 28.5,59.5 36.0,57.5 43.5,57.9 46.4,57.0 52.5,53.3 58.5,52.7 64.5,51.0 70.5,51.0 76.5,48.9Z M177.7,160.5 180.0,159.6 190.5,159.9 195.0,162.8 201.0,164.3 202.5,165.6 204.0,168.6 205.5,169.5 210.0,169.8 211.5,170.6 216.0,176.5 219.4,180.0 221.4,184.5 222.3,189.0 222.0,190.9 219.0,195.8 218.0,202.5 217.4,204.0 214.3,208.5 212.5,214.5 211.5,216.1 206.9,219.0 195.5,229.5 192.0,232.1 189.0,233.1 184.5,233.2 178.5,234.5 177.0,233.9 173.4,231.0 168.0,228.9 163.5,224.3 159.6,222.0 158.0,220.5 155.1,214.5 151.7,204.0 150.0,200.6 147.0,197.1 141.0,194.3 139.5,192.0 136.8,186.0 136.5,184.5 136.6,183.0 137.5,181.5 145.5,173.5 151.5,170.9 156.0,167.4 157.5,166.8 162.0,166.4 166.5,164.2 174.0,162.6Z M86.4,48.0 90.0,47.8 97.8,49.5 100.5,50.4 103.4,52.5 105.7,55.5 107.1,58.5 112.5,74.1 117.6,79.5 120.0,84.0 121.5,84.8 123.0,84.2 125.1,82.5 135.0,76.4 136.5,76.3 148.5,80.2 150.0,80.2 153.0,78.6 159.0,72.9 162.0,71.2 163.5,70.8 171.0,70.8 180.0,73.3 195.0,74.5 198.0,75.7 201.2,79.5 204.1,85.5 208.8,90.0 209.6,91.5 210.4,94.5 210.5,100.5 209.3,108.0 208.3,111.0 205.5,115.5 202.8,121.5 201.6,123.0 199.5,124.4 189.0,128.7 181.5,132.9 178.5,133.7 169.5,133.4 166.5,132.7 162.0,130.4 160.5,130.1 154.5,130.2 152.6,129.0 150.7,126.0 147.9,117.0 145.5,111.0 139.5,103.2 138.0,101.7 136.5,100.9 126.0,98.2 124.5,98.4 123.0,99.5 120.0,103.1 117.0,105.8 115.9,108.0 114.0,114.2 112.5,116.4 111.0,117.3 109.5,117.6 108.0,117.3 103.5,114.0 102.0,113.9 97.5,115.4 91.5,116.2 85.5,117.8 79.5,116.3 77.4,117.0 72.0,120.8 67.5,122.7 61.5,126.7 58.5,128.0 55.5,128.6 52.5,128.5 47.4,126.0 42.0,125.2 36.0,122.2 28.5,120.9 25.7,118.5 22.5,113.7 18.3,100.5 17.7,94.5 15.6,84.0 15.4,81.0 19.5,71.6 24.0,68.1 27.0,63.0 28.5,61.9 37.5,59.8 43.5,59.3 46.3,58.5 52.5,55.4 57.0,55.1 64.5,52.5 70.5,52.8 78.0,49.5Z M181.8,163.5 186.0,163.0 189.0,163.5 192.0,165.4 198.0,167.1 199.5,168.7 201.0,171.8 202.5,173.3 204.0,173.7 208.5,173.1 210.0,173.7 211.5,175.4 216.2,183.0 217.0,187.5 215.9,201.0 215.2,202.5 212.8,205.5 211.0,211.5 210.0,213.6 205.5,216.6 201.0,221.2 192.0,227.3 180.0,231.1 178.5,230.9 175.5,229.1 169.5,226.8 165.0,221.5 160.2,219.0 159.0,217.5 157.0,213.0 153.3,201.0 151.5,197.4 150.0,194.9 148.5,193.5 145.0,192.0 143.2,190.5 142.3,189.0 141.5,186.0 141.5,184.5 142.3,183.0 147.0,178.5 151.5,176.3 157.5,170.9 163.5,169.3 167.4,166.5 169.5,165.6 177.0,165.1Z M85.0,49.5 90.0,48.9 94.5,49.8 99.0,51.5 102.1,54.0 104.2,57.0 106.0,61.5 107.2,66.0 107.7,72.0 108.9,75.0 110.8,78.0 114.2,81.0 115.2,82.5 117.0,87.1 121.4,93.0 121.0,96.0 120.0,98.2 118.5,99.9 114.0,102.5 112.5,105.0 111.0,109.7 109.5,110.2 106.5,108.4 105.0,108.4 102.0,109.4 96.0,112.7 91.5,113.3 87.0,114.5 85.5,114.7 81.0,113.7 78.0,113.6 76.5,114.1 72.0,117.1 66.0,118.5 60.0,124.1 57.0,125.6 55.5,125.8 52.5,125.2 49.5,123.5 42.0,122.7 37.5,120.4 31.5,119.9 30.0,119.5 28.5,118.6 25.1,114.0 22.8,109.5 20.4,99.0 18.5,87.0 18.8,84.0 19.8,81.0 21.0,74.4 22.5,72.6 25.6,70.5 28.5,64.6 30.0,63.6 31.5,63.2 39.0,61.1 45.1,60.0 51.0,57.4 57.0,56.5 63.0,54.1 64.5,53.8 69.0,54.4 70.5,54.2 78.0,50.3Z M160.4,73.5 163.5,72.4 172.5,72.7 181.5,75.0 189.0,75.9 195.0,77.3 196.5,78.1 198.0,79.8 201.0,87.9 204.5,91.5 206.1,94.5 206.8,99.0 206.7,103.5 205.8,106.5 200.8,118.5 199.5,120.0 198.0,121.1 181.5,130.8 178.5,131.2 174.0,130.5 169.5,131.1 168.0,130.9 162.0,127.6 157.0,126.0 155.6,124.5 153.5,120.0 152.7,117.0 152.7,112.5 152.3,111.0 151.5,109.0 150.0,107.3 144.0,104.7 140.0,100.5 138.0,99.2 132.0,98.0 124.3,94.5 123.0,93.3 122.1,93.0 124.0,87.0 125.9,84.0 127.6,82.5 133.5,78.7 135.0,78.1 136.5,78.1 144.0,80.4 148.1,82.5 150.0,82.5 153.0,80.7Z M182.8,166.5 184.5,166.1 186.0,166.3 190.5,168.6 195.0,168.8 196.5,169.3 201.0,174.9 202.5,175.7 207.0,176.0 209.2,177.0 212.1,181.5 213.5,184.5 214.1,187.5 214.7,196.5 214.2,199.5 211.5,203.3 210.4,205.5 209.4,210.0 208.5,211.7 207.0,213.0 204.0,215.0 199.5,219.4 193.5,221.2 187.5,224.8 183.0,226.7 180.0,227.3 174.0,226.3 171.0,225.3 169.5,223.9 166.5,219.3 162.0,217.1 160.5,215.6 157.1,207.0 156.6,204.0 156.3,198.0 151.8,189.0 151.2,187.5 151.1,186.0 152.8,181.5 157.5,175.5 159.2,174.0 163.5,171.7 168.0,168.0 169.5,167.3 172.5,167.0 177.0,168.4 178.5,168.4Z M79.4,51.0 85.5,50.8 90.0,50.1 93.0,50.4 97.5,52.5 100.4,55.5 102.4,58.5 103.4,61.5 103.9,64.5 103.4,70.5 104.2,73.5 106.9,78.0 112.5,85.5 116.1,93.0 116.3,94.5 115.8,96.0 112.5,98.6 109.5,102.4 108.0,103.6 102.0,106.1 96.0,109.5 91.5,110.4 85.5,112.3 79.5,111.7 76.5,112.1 72.0,114.7 67.5,115.7 64.6,117.0 60.0,121.8 57.0,123.5 55.5,123.7 54.0,123.3 49.5,121.3 43.5,121.1 39.0,118.8 37.7,118.5 33.0,118.6 30.0,117.5 28.2,115.5 24.2,108.0 22.0,97.5 21.1,90.0 21.3,87.0 23.2,76.5 27.4,72.0 30.0,66.6 31.5,65.4 39.0,62.7 51.0,58.9 57.0,57.7 63.0,55.4 64.5,55.1 69.0,56.0 70.5,55.7 76.5,51.9Z M160.8,75.0 163.5,74.0 174.0,74.5 181.5,76.7 189.0,77.9 192.0,78.8 195.0,81.0 196.1,82.5 198.9,90.0 202.1,94.5 202.5,97.5 200.9,103.5 200.7,109.5 200.1,112.5 198.7,115.5 197.5,117.0 190.3,123.0 183.0,127.6 180.0,128.2 175.5,127.5 169.5,128.4 167.2,127.5 161.1,123.0 159.9,121.5 156.4,112.5 153.0,106.1 151.5,104.2 150.0,103.2 145.5,101.7 139.5,97.2 133.5,96.3 130.5,95.2 127.4,93.0 126.4,91.5 126.0,88.5 126.9,85.5 129.0,83.2 133.5,80.4 135.0,79.8 138.0,80.1 142.5,81.6 147.0,84.5 148.5,84.9 150.0,84.6 151.5,83.9 154.5,81.4Z M168.8,169.5 171.0,168.7 172.5,168.9 177.0,170.9 178.5,171.1 183.0,169.5 184.5,169.3 189.0,171.0 195.0,171.4 196.5,172.5 198.9,175.5 201.0,177.0 206.0,178.5 207.0,179.0 208.5,180.5 210.6,184.5 211.7,187.5 212.7,192.0 212.9,196.5 212.5,198.0 209.5,202.5 207.8,208.5 207.0,209.9 199.5,216.5 198.0,217.3 192.0,218.3 186.0,221.7 177.0,224.2 174.0,224.2 172.5,223.8 171.0,222.6 168.0,217.8 162.4,213.0 160.9,210.0 159.9,207.0 159.6,198.0 159.0,195.5 156.7,190.5 156.2,186.0 157.2,183.0 161.2,177.0 163.9,174.0Z M77.2,52.5 79.5,51.9 84.0,52.2 91.5,51.2 95.3,52.5 98.0,55.5 99.7,58.5 100.8,61.5 101.3,70.5 102.2,75.0 103.9,78.0 109.1,85.5 110.3,88.5 110.9,91.5 110.9,94.5 109.1,99.0 108.0,100.5 106.5,101.7 99.0,104.0 94.5,106.6 85.5,110.5 76.5,110.7 72.0,113.2 66.0,114.8 63.0,116.8 58.5,121.2 57.0,121.8 55.5,121.9 51.0,120.1 45.0,120.0 43.5,119.6 39.0,117.2 34.5,117.5 31.5,116.9 30.0,115.7 28.9,114.0 25.2,106.5 23.5,99.0 22.9,93.0 24.0,81.0 24.6,78.0 28.5,73.3 30.5,69.0 31.5,67.7 33.0,66.6 40.5,63.4 51.0,60.1 57.0,58.8 63.0,56.5 64.5,56.4 69.0,57.4 70.5,57.0Z M161.0,76.5 163.5,75.6 172.5,75.7 175.5,76.1 181.5,78.4 187.5,79.4 190.5,80.4 193.3,82.5 194.4,84.0 195.6,87.0 198.0,96.0 196.9,103.5 196.7,111.0 195.4,114.0 191.6,118.5 189.0,121.1 186.0,123.2 183.0,124.5 181.5,124.7 177.0,124.7 171.0,125.4 169.5,125.1 163.5,120.5 162.0,118.8 154.5,105.3 151.5,101.1 150.0,99.9 141.0,94.9 138.0,94.3 133.5,94.4 130.5,93.1 128.9,91.5 128.0,88.5 128.7,85.5 130.1,84.0 133.5,81.9 136.5,81.3 139.5,81.9 142.5,83.5 145.5,86.3 147.0,87.1 148.5,87.3 150.0,86.8 153.0,84.8Z M169.4,171.0 171.0,170.5 172.5,170.7 177.0,172.7 178.5,172.9 184.5,171.7 189.0,172.8 193.5,173.1 195.0,173.7 199.5,177.6 205.5,180.6 207.0,182.1 209.2,186.0 210.7,190.5 211.2,193.5 210.9,196.5 208.5,200.7 206.7,207.0 205.9,208.5 199.5,214.0 196.5,215.4 192.0,216.0 186.0,219.3 181.5,220.2 177.0,222.1 174.0,222.4 172.5,221.6 169.5,217.4 164.4,211.5 162.5,207.0 161.3,198.0 159.7,192.0 159.4,189.0 159.7,187.5 162.1,183.0 164.2,177.0 166.3,174.0Z M89.3,52.5 91.5,52.4 93.0,52.9 94.6,54.0 96.4,57.0 98.4,64.5 98.7,75.0 99.1,78.0 101.0,82.5 105.5,88.5 106.6,94.5 106.0,97.5 105.0,98.5 103.5,99.0 100.5,99.0 99.0,99.5 97.5,100.3 93.0,104.3 85.5,108.5 82.5,109.2 76.5,109.4 70.5,112.3 64.6,114.0 58.5,119.3 57.0,119.9 55.5,119.7 51.8,118.5 45.0,118.4 40.5,115.8 39.0,115.5 34.5,116.1 33.0,115.9 31.5,115.1 29.7,112.5 26.3,105.0 24.9,99.0 24.5,94.5 26.0,79.5 26.8,78.0 29.4,75.0 31.7,70.5 32.8,69.0 43.5,63.6 55.5,60.4 61.5,58.3 64.5,58.1 69.0,59.1 70.5,58.7 76.5,54.1 78.0,53.4 79.5,53.2 84.0,53.8Z M162.4,78.0 163.5,77.7 172.5,77.3 175.5,77.8 181.5,80.8 189.0,82.8 190.5,83.8 192.0,85.5 193.3,90.0 194.0,99.0 193.8,103.5 193.0,106.5 189.4,114.0 187.5,116.7 186.0,117.8 177.0,121.4 174.0,121.6 172.5,121.3 168.0,117.5 165.0,116.1 163.5,114.8 157.5,106.9 152.3,96.0 151.6,91.5 152.0,90.0 153.9,87.0 160.5,79.3Z M133.6,84.0 136.5,83.3 139.1,84.0 140.9,85.5 141.5,87.0 141.5,88.5 139.7,90.0 136.0,91.5 133.5,91.7 132.0,91.0 131.1,90.0 130.5,88.6 130.6,87.0 131.6,85.5Z M169.2,174.0 171.0,173.0 172.5,173.1 177.0,174.7 178.5,174.8 184.5,173.9 192.0,174.8 195.0,176.0 198.3,178.5 204.0,182.0 206.1,184.5 207.6,187.5 208.6,190.5 208.9,193.5 207.0,199.1 205.5,205.5 204.0,207.9 198.0,212.1 192.0,213.8 186.0,217.0 181.5,218.0 175.5,220.2 174.0,220.0 172.5,218.8 166.9,211.5 165.4,208.5 164.1,204.0 162.0,192.0 162.4,189.0 164.3,184.5 166.0,178.5 167.8,175.5Z M77.6,55.5 79.5,55.3 82.5,56.1 84.0,56.0 90.0,54.1 91.5,54.3 93.1,55.5 94.3,58.5 95.3,66.0 94.9,69.0 92.5,73.5 92.5,76.5 93.7,81.0 96.0,86.4 100.5,91.5 100.6,93.0 99.6,94.5 92.3,102.0 84.6,106.5 82.5,107.3 76.5,108.0 70.5,110.9 64.5,112.7 62.1,114.0 58.5,117.0 57.0,117.5 52.5,116.8 46.5,117.1 45.0,116.6 42.0,114.4 40.5,113.9 34.5,114.5 32.9,114.0 31.5,112.3 27.9,105.0 26.6,100.5 26.1,96.0 27.2,88.5 27.7,81.0 28.4,79.5 30.8,76.5 33.0,72.0 34.5,70.3 45.0,64.5 54.0,62.3 61.5,59.9 63.0,59.8 67.5,61.1 70.5,60.7Z M169.0,79.5 172.5,79.4 174.0,79.8 178.5,82.8 184.4,85.5 187.9,88.5 189.0,90.1 189.9,93.0 190.7,99.0 190.5,102.0 186.9,109.5 184.8,112.5 183.0,114.0 180.0,116.0 177.0,117.4 175.5,117.4 174.0,116.8 169.5,112.8 163.5,108.9 160.7,106.5 158.1,102.0 155.8,94.5 155.8,91.5 156.2,90.0 162.0,81.5 163.5,80.4 165.0,80.0Z M170.0,177.0 171.0,176.3 172.5,176.1 177.0,176.9 184.5,175.9 190.5,176.5 193.5,177.3 202.3,183.0 203.6,184.5 205.2,187.5 206.2,192.0 204.5,202.5 203.4,205.5 201.0,207.5 192.0,211.6 186.0,214.9 175.5,217.3 174.0,216.8 169.5,211.9 167.6,208.5 165.5,201.0 164.6,195.0 164.6,192.0 167.2,181.5 168.6,178.5Z M87.4,57.0 88.5,56.7 90.2,57.0 91.1,58.5 91.4,60.0 91.1,64.5 89.3,72.0 89.3,75.0 91.7,87.0 93.8,94.5 93.0,97.5 91.5,99.6 90.0,100.8 85.5,103.1 82.5,105.4 75.0,107.3 69.0,110.4 63.0,112.1 58.5,114.9 57.0,115.4 52.5,115.3 48.0,115.9 46.5,115.6 42.0,112.6 40.5,112.3 34.5,112.7 33.0,111.6 28.3,102.0 27.6,99.0 27.5,96.0 28.6,90.0 29.3,82.5 30.0,81.0 32.3,78.0 34.5,73.5 35.8,72.0 39.0,70.2 43.5,66.8 46.5,65.4 61.5,61.6 67.5,63.0 70.5,62.9 72.0,62.4 76.5,59.3 78.0,58.7 82.5,58.8Z M164.6,82.5 166.5,81.8 169.5,81.5 172.5,82.3 175.5,85.5 181.5,87.6 184.1,90.0 186.5,93.0 187.4,96.0 187.3,99.0 184.6,106.5 182.9,109.5 181.3,111.0 178.5,112.7 177.0,113.0 175.5,112.8 174.0,112.1 165.0,106.2 162.1,103.5 161.2,102.0 159.0,96.0 158.5,93.0 158.8,91.5 161.9,85.5 163.5,83.4Z M180.3,178.5 184.5,177.6 190.5,178.1 193.5,179.1 199.9,183.0 202.3,186.0 203.5,189.0 203.8,192.0 203.1,201.0 202.5,203.1 201.0,204.9 196.5,206.9 186.0,213.1 183.0,213.9 175.5,214.2 172.5,212.5 171.0,210.9 169.5,208.5 167.2,199.5 166.9,193.5 168.7,183.0 169.5,181.2 170.5,180.0 172.5,179.0 177.0,179.1Z M80.9,63.0 84.0,62.6 85.0,63.0 85.9,64.5 88.0,87.0 89.8,94.5 89.8,96.0 89.0,97.5 85.5,99.7 81.0,104.3 75.0,106.2 69.0,109.4 63.2,111.0 57.0,113.7 48.0,114.5 46.5,114.1 42.0,111.1 36.0,111.1 34.5,110.4 29.7,102.0 28.9,99.0 29.0,96.0 30.9,84.0 36.0,75.2 37.5,73.5 43.5,68.7 46.5,66.9 58.5,63.7 61.5,63.4 67.5,64.9 73.5,65.7 76.5,65.0Z M166.6,84.0 169.5,84.0 171.2,85.5 172.7,88.5 174.0,90.0 178.5,90.5 180.0,91.2 182.6,94.5 183.3,97.5 182.0,103.5 180.5,106.5 178.5,108.0 175.5,108.1 168.0,105.3 165.0,103.0 163.2,100.5 161.7,96.0 161.6,91.5 163.5,87.0 165.0,85.0Z M181.1,180.0 184.5,179.1 189.0,179.4 192.0,180.1 196.5,182.2 199.3,184.5 200.4,186.0 201.5,189.0 201.9,192.0 201.6,199.5 201.0,201.5 200.2,202.5 195.0,205.5 191.1,208.5 187.5,210.7 184.5,212.0 183.0,212.2 175.5,211.2 174.0,210.7 172.5,209.5 171.0,207.1 170.5,205.5 169.1,196.5 169.8,187.5 171.0,183.3 172.5,182.0 177.0,181.3Z M55.2,66.0 58.5,65.4 61.5,65.6 73.5,69.3 76.5,69.3 81.0,68.4 81.9,69.0 82.8,70.5 83.9,75.0 84.9,85.5 86.2,93.0 85.9,94.5 85.1,96.0 81.2,102.0 79.5,103.6 73.5,105.7 69.0,108.5 58.5,111.9 54.0,112.7 48.0,113.0 43.5,110.3 37.5,109.3 36.0,108.7 31.5,102.3 30.7,100.5 30.3,97.5 31.7,87.0 32.7,84.0 37.3,76.5 39.0,74.5 46.5,68.4 49.5,67.3Z M166.5,88.5 168.0,88.1 171.0,93.2 176.0,96.0 176.8,97.5 177.1,99.0 176.7,100.5 175.5,101.4 169.5,101.4 168.0,101.1 166.5,99.9 165.4,96.0 165.7,91.5Z M181.7,181.5 184.5,180.7 187.5,180.7 192.0,181.7 196.5,183.9 198.5,186.0 199.3,187.5 200.2,193.5 200.0,198.0 199.5,199.6 198.3,201.0 195.0,203.0 189.0,208.1 186.0,209.7 183.0,210.3 177.0,209.1 175.4,208.5 173.6,207.0 172.3,204.0 171.1,195.0 171.4,189.0 172.5,185.8 174.0,184.5Z M49.7,69.0 55.5,67.8 60.0,68.1 76.5,73.4 78.8,75.0 80.3,78.0 81.7,82.5 82.8,88.5 83.0,91.5 80.6,99.0 78.8,102.0 73.5,104.4 67.5,108.0 57.0,111.0 54.0,111.5 49.5,111.5 45.0,109.2 39.0,107.6 37.1,106.5 33.7,102.0 32.3,99.0 32.2,96.0 33.3,87.0 37.5,79.2 39.4,76.5 46.5,70.6Z M183.7,183.0 186.0,182.7 188.8,183.0 193.5,184.3 195.0,185.1 196.5,186.7 197.5,189.0 197.9,195.0 196.8,198.0 193.5,200.6 189.0,205.5 186.0,207.1 181.5,207.6 177.0,206.3 175.9,205.5 174.9,204.0 173.9,199.5 173.2,192.0 173.9,189.0 175.1,187.5Z M51.1,70.5 55.5,69.8 58.5,70.3 64.5,72.9 73.1,75.0 75.0,76.1 76.5,77.5 79.5,82.8 80.3,85.5 80.7,88.5 80.5,91.5 79.1,97.5 77.9,100.5 76.5,101.6 72.0,103.9 67.5,107.0 55.5,110.1 51.0,110.1 46.5,107.9 40.5,106.2 38.6,105.0 35.3,100.5 34.2,97.5 34.1,91.5 35.0,87.0 38.9,79.5 40.5,77.5 47.9,72.0Z M183.7,186.0 186.0,185.4 187.5,185.5 192.0,186.4 193.6,187.5 194.4,189.0 194.4,192.0 193.7,193.5 190.5,197.4 187.3,202.5 184.5,204.2 181.5,204.9 180.0,204.9 178.0,204.0 176.7,202.5 176.0,199.5 175.6,193.5 175.9,192.0 177.0,190.2Z M53.5,72.0 57.0,72.1 58.5,72.6 63.0,75.5 64.5,76.0 70.5,76.5 73.5,77.9 75.1,79.5 77.2,82.5 78.7,87.0 78.7,90.0 77.2,97.5 76.6,99.0 75.1,100.5 66.4,106.5 55.5,109.1 52.5,109.0 51.0,108.5 46.5,106.1 42.0,105.0 40.5,104.2 38.6,102.0 36.8,99.0 36.0,96.0 35.7,93.0 35.8,90.0 36.6,87.0 40.5,79.6 42.0,78.2 49.8,73.5Z M184.3,190.5 186.0,189.6 187.5,189.5 189.0,190.5 189.0,192.0 188.5,193.5 186.3,198.0 184.5,200.1 181.5,201.8 180.0,201.6 178.5,199.5 178.6,196.5 180.0,194.1Z M51.5,75.0 54.0,73.9 57.0,74.1 63.0,78.1 70.5,78.8 73.5,81.0 76.5,85.5 76.9,90.0 75.2,97.5 74.1,99.0 69.0,103.7 66.0,105.7 57.0,107.8 54.0,108.0 52.5,107.6 48.0,105.1 42.0,103.0 40.5,101.6 38.9,99.0 37.8,96.0 37.3,91.5 37.8,88.5 40.3,82.5 42.0,80.4 48.0,77.5Z M52.6,76.5 55.5,75.7 57.0,76.1 61.5,79.5 63.0,80.1 69.5,81.0 72.0,82.9 74.7,87.0 75.0,88.5 75.0,91.5 74.0,96.0 73.2,97.5 69.2,102.0 66.0,104.7 58.5,106.6 54.0,106.8 52.5,106.3 48.0,103.6 43.5,101.7 42.0,100.5 40.1,97.5 39.2,94.5 39.1,91.5 39.6,88.5 41.5,84.0 43.5,81.8 48.0,79.8Z M53.6,78.0 55.5,77.7 56.6,78.0 61.5,81.5 67.5,82.7 69.0,83.6 70.5,85.1 72.7,88.5 73.3,91.5 72.3,96.0 67.8,102.0 66.2,103.5 64.5,104.4 57.0,105.8 54.0,105.5 45.0,100.4 43.3,99.0 41.5,96.0 40.9,91.5 41.5,88.5 42.9,85.5 44.3,84.0Z M51.7,81.0 54.0,79.8 55.5,79.7 57.0,80.4 60.0,82.7 66.0,84.5 67.5,85.4 70.5,89.4 71.3,91.5 71.4,93.0 70.6,96.0 67.5,100.7 64.5,103.3 58.5,104.5 55.5,104.5 54.0,104.1 46.1,99.0 43.6,96.0 43.0,94.5 42.8,91.5 43.5,88.5 44.3,87.0 45.6,85.5Z M52.9,82.5 54.0,82.1 55.5,82.2 60.0,84.8 64.5,86.3 66.0,87.5 67.7,90.0 68.8,93.0 68.9,94.5 66.9,99.0 66.0,100.5 64.2,102.0 61.5,102.9 58.5,103.2 54.0,102.5 48.7,99.0 46.2,96.0 45.0,93.1 44.9,91.5 45.7,88.5 48.5,85.5Z M54.0,85.5 61.5,88.0 62.5,88.5 63.8,90.0 64.8,93.0 65.0,96.0 64.4,99.0 63.0,100.5 60.0,101.2 54.1,100.5 51.0,98.6 48.9,96.0 47.9,93.0 48.0,90.0 48.9,88.5 50.5,87.0 52.5,85.8Z"/>
<path d="M137.1,203.8 137.5,205.8 136.2,207.5 133.9,207.7 132.1,207.1 130.4,206.6 128.6,205.6 128.1,203.8 128.9,202.1 130.2,200.7 131.8,199.6 134.0,199.6 135.5,200.9 136.2,202.4Z"/>
<path d="M59.3,60.3 43.8,63.8 32.2,68.7 22.5,77.4 17.7,89.0 18.6,100.6 24.4,111.2 34.1,119.0 45.7,122.9 59.3,123.8" stroke="#000" stroke-opacity="0.82" stroke-width="4.0" stroke-linecap="round" stroke-linejoin="round"/>
<path d="M59.6,196.5h1.1 M9.0,193.3h1.1 M158.0,197.6h1.1 M69.0,248.2h1.1 M174.0,191.4h1.1 M61.4,240.5h1.1 M87.3,148.0h1.1 M49.7,197.3h1.1 M87.3,225.8h1.1 M80.2,229.5h1.1 M84.2,160.9h1.1 M91.8,174.0h1.1 M100.1,176.4h1.1 M59.1,182.0h1.1 M166.5,217.6h1.1 M68.1,144.1h1.1 M59.9,205.5h1.1 M30.6,227.7h1.1 M99.8,204.0h1.1 M96.3,244.3h1.1 M184.0,135.7h1.1 M188.1,117.3h1.1 M134.8,105.7h1.1 M243.4,138.5h1.1 M214.1,120.4h1.1 M243.8,77.5h1.1 M210.2,92.7h1.1 M249.0,108.1h1.1 M184.3,121.6h1.1" stroke="#8a8a8a" stroke-width="1.1"/>
</g>
<rect x="400.60" y="140.20" width="261.40" height="261.10" fill="none" stroke="#555" stroke-width="1.15"/>
<line x1="393.60" y1="165.20" x2="400.60" y2="165.20" stroke="#444" stroke-width="1.1"/>
<line x1="393.60" y1="223.20" x2="400.60" y2="223.20" stroke="#444" stroke-width="1.1"/>
<line x1="393.60" y1="285.20" x2="400.60" y2="285.20" stroke="#444" stroke-width="1.1"/>
<line x1="393.60" y1="347.20" x2="400.60" y2="347.20" stroke="#444" stroke-width="1.1"/>
<line x1="393.60" y1="364.60" x2="400.60" y2="364.60" stroke="#444" stroke-width="1.1"/>
<line x1="397.10" y1="205.74" x2="400.60" y2="205.74" stroke="#777" stroke-width="0.9"/>
<line x1="397.10" y1="195.53" x2="400.60" y2="195.53" stroke="#777" stroke-width="0.9"/>
<line x1="397.10" y1="188.28" x2="400.60" y2="188.28" stroke="#777" stroke-width="0.9"/>
<line x1="397.10" y1="182.66" x2="400.60" y2="182.66" stroke="#777" stroke-width="0.9"/>
<line x1="397.10" y1="178.07" x2="400.60" y2="178.07" stroke="#777" stroke-width="0.9"/>
<line x1="397.10" y1="174.18" x2="400.60" y2="174.18" stroke="#777" stroke-width="0.9"/>
<line x1="397.10" y1="170.82" x2="400.60" y2="170.82" stroke="#777" stroke-width="0.9"/>
<line x1="397.10" y1="167.85" x2="400.60" y2="167.85" stroke="#777" stroke-width="0.9"/>
<line x1="397.10" y1="266.54" x2="400.60" y2="266.54" stroke="#777" stroke-width="0.9"/>
<line x1="397.10" y1="255.62" x2="400.60" y2="255.62" stroke="#777" stroke-width="0.9"/>
<line x1="397.10" y1="247.87" x2="400.60" y2="247.87" stroke="#777" stroke-width="0.9"/>
<line x1="397.10" y1="241.86" x2="400.60" y2="241.86" stroke="#777" stroke-width="0.9"/>
<line x1="397.10" y1="236.95" x2="400.60" y2="236.95" stroke="#777" stroke-width="0.9"/>
<line x1="397.10" y1="232.80" x2="400.60" y2="232.80" stroke="#777" stroke-width="0.9"/>
<line x1="397.10" y1="229.21" x2="400.60" y2="229.21" stroke="#777" stroke-width="0.9"/>
<line x1="397.10" y1="226.04" x2="400.60" y2="226.04" stroke="#777" stroke-width="0.9"/>
<line x1="397.10" y1="328.54" x2="400.60" y2="328.54" stroke="#777" stroke-width="0.9"/>
<line x1="397.10" y1="317.62" x2="400.60" y2="317.62" stroke="#777" stroke-width="0.9"/>
<line x1="397.10" y1="309.87" x2="400.60" y2="309.87" stroke="#777" stroke-width="0.9"/>
<line x1="397.10" y1="303.86" x2="400.60" y2="303.86" stroke="#777" stroke-width="0.9"/>
<line x1="397.10" y1="298.95" x2="400.60" y2="298.95" stroke="#777" stroke-width="0.9"/>
<line x1="397.10" y1="294.80" x2="400.60" y2="294.80" stroke="#777" stroke-width="0.9"/>
<line x1="397.10" y1="291.21" x2="400.60" y2="291.21" stroke="#777" stroke-width="0.9"/>
<line x1="397.10" y1="288.04" x2="400.60" y2="288.04" stroke="#777" stroke-width="0.9"/>
<line x1="397.10" y1="149.20" x2="400.60" y2="149.20" stroke="#777" stroke-width="0.9"/>
<line x1="397.10" y1="353.20" x2="400.60" y2="353.20" stroke="#777" stroke-width="0.9"/>
<line x1="397.10" y1="357.20" x2="400.60" y2="357.20" stroke="#777" stroke-width="0.9"/>
<line x1="397.10" y1="360.20" x2="400.60" y2="360.20" stroke="#777" stroke-width="0.9"/>
<line x1="397.10" y1="369.20" x2="400.60" y2="369.20" stroke="#777" stroke-width="0.9"/>
<line x1="397.10" y1="372.20" x2="400.60" y2="372.20" stroke="#777" stroke-width="0.9"/>
<line x1="397.10" y1="375.20" x2="400.60" y2="375.20" stroke="#777" stroke-width="0.9"/>
<line x1="397.10" y1="381.20" x2="400.60" y2="381.20" stroke="#777" stroke-width="0.9"/>
<line x1="397.10" y1="394.20" x2="400.60" y2="394.20" stroke="#777" stroke-width="0.9"/>
<line x1="442.20" y1="401.30" x2="442.20" y2="408.30" stroke="#444" stroke-width="1.1"/>
<line x1="516.10" y1="401.30" x2="516.10" y2="408.30" stroke="#444" stroke-width="1.1"/>
<line x1="578.90" y1="401.30" x2="578.90" y2="408.30" stroke="#444" stroke-width="1.1"/>
<line x1="637.80" y1="401.30" x2="637.80" y2="408.30" stroke="#444" stroke-width="1.1"/>
<line x1="535.00" y1="401.30" x2="535.00" y2="404.80" stroke="#777" stroke-width="0.9"/>
<line x1="546.06" y1="401.30" x2="546.06" y2="404.80" stroke="#777" stroke-width="0.9"/>
<line x1="553.91" y1="401.30" x2="553.91" y2="404.80" stroke="#777" stroke-width="0.9"/>
<line x1="560.00" y1="401.30" x2="560.00" y2="404.80" stroke="#777" stroke-width="0.9"/>
<line x1="564.97" y1="401.30" x2="564.97" y2="404.80" stroke="#777" stroke-width="0.9"/>
<line x1="569.17" y1="401.30" x2="569.17" y2="404.80" stroke="#777" stroke-width="0.9"/>
<line x1="572.81" y1="401.30" x2="572.81" y2="404.80" stroke="#777" stroke-width="0.9"/>
<line x1="576.03" y1="401.30" x2="576.03" y2="404.80" stroke="#777" stroke-width="0.9"/>
<line x1="596.63" y1="401.30" x2="596.63" y2="404.80" stroke="#777" stroke-width="0.9"/>
<line x1="607.00" y1="401.30" x2="607.00" y2="404.80" stroke="#777" stroke-width="0.9"/>
<line x1="614.36" y1="401.30" x2="614.36" y2="404.80" stroke="#777" stroke-width="0.9"/>
<line x1="620.07" y1="401.30" x2="620.07" y2="404.80" stroke="#777" stroke-width="0.9"/>
<line x1="624.73" y1="401.30" x2="624.73" y2="404.80" stroke="#777" stroke-width="0.9"/>
<line x1="628.68" y1="401.30" x2="628.68" y2="404.80" stroke="#777" stroke-width="0.9"/>
<line x1="632.09" y1="401.30" x2="632.09" y2="404.80" stroke="#777" stroke-width="0.9"/>
<line x1="635.10" y1="401.30" x2="635.10" y2="404.80" stroke="#777" stroke-width="0.9"/>
<line x1="480.98" y1="401.30" x2="480.98" y2="404.80" stroke="#777" stroke-width="0.9"/>
<line x1="489.82" y1="401.30" x2="489.82" y2="404.80" stroke="#777" stroke-width="0.9"/>
<line x1="496.10" y1="401.30" x2="496.10" y2="404.80" stroke="#777" stroke-width="0.9"/>
<line x1="500.97" y1="401.30" x2="500.97" y2="404.80" stroke="#777" stroke-width="0.9"/>
<line x1="504.95" y1="401.30" x2="504.95" y2="404.80" stroke="#777" stroke-width="0.9"/>
<line x1="508.32" y1="401.30" x2="508.32" y2="404.80" stroke="#777" stroke-width="0.9"/>
<line x1="511.23" y1="401.30" x2="511.23" y2="404.80" stroke="#777" stroke-width="0.9"/>
<line x1="513.80" y1="401.30" x2="513.80" y2="404.80" stroke="#777" stroke-width="0.9"/>
<line x1="405.60" y1="401.30" x2="405.60" y2="404.80" stroke="#555" stroke-width="1.0"/>
<line x1="416.60" y1="401.30" x2="416.60" y2="404.80" stroke="#555" stroke-width="1.0"/>
<line x1="652.60" y1="401.30" x2="652.60" y2="404.80" stroke="#555" stroke-width="1.0"/>
<line x1="428.00" y1="401.30" x2="428.00" y2="407.80" stroke="#222" stroke-width="1.2"/>
<line x1="431.10" y1="401.30" x2="431.10" y2="405.30" stroke="#222" stroke-width="1.6"/>
<line x1="433.60" y1="401.30" x2="433.60" y2="406.30" stroke="#222" stroke-width="1.6"/>
<line x1="436.20" y1="401.30" x2="436.20" y2="405.30" stroke="#222" stroke-width="1.4"/>
<line x1="439.00" y1="401.30" x2="439.00" y2="405.30" stroke="#222" stroke-width="1.2"/>
<line x1="449.10" y1="401.30" x2="449.10" y2="406.30" stroke="#222" stroke-width="1.4"/>
<line x1="451.60" y1="401.30" x2="451.60" y2="405.30" stroke="#222" stroke-width="1.6"/>
<line x1="454.00" y1="401.30" x2="454.00" y2="405.30" stroke="#222" stroke-width="1.2"/>
<line x1="456.60" y1="401.30" x2="456.60" y2="407.30" stroke="#222" stroke-width="1.3"/>
<clipPath id="clipA3"><rect x="0" y="0" width="261.4" height="261.0"/></clipPath>
<g clip-path="url(#clipA3)" transform="translate(718.6,135.8)" fill="none" stroke="#1c1c1c" stroke-width="0.95" stroke-linejoin="round">
<path d="M188.9,124.5 192.0,123.8 195.0,124.0 204.0,127.5 207.0,129.5 211.2,133.5 213.0,135.5 214.5,138.0 216.9,144.0 217.5,147.0 217.5,151.5 218.3,157.5 218.0,162.0 219.3,168.0 219.5,174.0 220.4,178.5 220.2,184.5 220.6,186.0 223.1,190.5 224.3,195.0 226.1,199.5 228.1,211.5 227.3,216.0 224.5,223.5 222.8,226.5 220.5,228.8 213.0,234.4 205.5,238.1 201.0,239.5 192.0,240.8 189.0,240.6 183.0,238.7 174.0,236.6 166.5,236.8 156.0,233.2 150.0,229.0 144.0,225.8 141.6,223.5 135.8,216.0 135.0,214.5 132.8,205.5 133.0,202.5 134.6,195.0 135.7,193.5 139.5,190.5 148.6,178.5 151.5,175.9 163.5,170.9 165.0,170.1 166.5,168.6 169.3,163.5 170.5,160.5 174.0,145.5 177.6,133.5 179.6,130.5 183.0,127.3Z M190.0,136.5 193.5,136.1 198.0,136.5 201.0,137.3 202.0,138.0 203.3,139.5 205.8,145.5 208.4,150.0 212.5,160.5 213.1,165.0 214.2,169.5 213.3,177.0 215.0,186.0 216.0,188.3 218.4,192.0 222.7,202.5 224.0,211.5 220.4,223.5 218.1,226.5 214.5,229.5 211.5,231.7 204.0,235.8 201.0,236.6 192.0,237.6 189.0,237.2 180.0,234.5 174.0,231.1 168.0,229.7 165.0,228.1 156.6,222.0 155.1,220.5 152.6,216.0 149.1,211.5 148.5,208.5 148.8,202.5 149.4,199.5 154.2,192.0 157.0,186.0 160.5,182.5 168.0,178.6 169.5,177.2 170.7,175.5 173.4,168.0 175.5,163.5 177.6,156.0 180.9,150.0 183.5,142.5 184.5,140.8 187.2,138.0Z M194.7,150.0 199.5,150.0 202.5,151.1 204.4,153.0 209.1,160.5 210.4,171.0 210.4,177.0 212.4,187.5 213.0,189.1 215.9,193.5 219.6,202.5 220.1,205.5 220.4,213.0 219.3,217.5 217.5,222.0 214.0,226.5 210.7,229.5 205.5,232.8 202.5,234.0 192.0,234.9 189.0,234.4 180.0,231.3 175.2,228.0 168.0,224.3 162.5,219.0 161.5,217.5 159.3,208.5 161.6,195.0 167.4,186.0 171.0,182.5 172.5,180.4 176.9,169.5 178.3,165.0 179.8,162.0 183.4,157.5 186.0,153.6 187.5,152.0 190.5,150.6Z M193.4,156.0 198.0,155.1 199.5,155.2 201.0,155.9 204.1,159.0 206.0,162.0 206.9,168.0 208.2,172.5 208.5,177.2 209.8,183.0 210.1,187.5 211.2,190.5 213.9,195.0 216.8,202.5 217.5,205.5 217.9,213.0 217.5,216.0 216.3,219.0 211.0,226.5 208.5,228.8 205.5,230.8 202.5,232.2 192.0,232.8 189.0,232.1 180.0,228.5 171.3,222.0 168.6,219.0 166.9,216.0 165.1,205.5 165.6,202.5 167.2,198.0 167.6,193.5 168.5,190.5 170.7,187.5 173.7,184.5 174.5,183.0 176.3,177.0 178.5,172.5 181.0,165.0 183.0,162.4 187.5,157.9 190.5,156.5Z M188.8,160.5 192.0,159.6 198.0,159.2 199.5,159.5 201.0,160.4 202.6,162.0 203.4,163.5 206.4,172.5 206.9,178.5 208.0,183.0 208.7,189.0 211.7,195.0 215.5,205.5 215.7,214.5 214.7,217.5 211.0,223.5 208.6,226.5 205.5,228.9 202.5,230.4 192.0,230.9 190.5,230.6 180.0,226.1 175.0,222.0 171.3,217.5 169.9,214.5 169.2,205.5 170.7,198.0 170.9,192.0 171.5,190.5 176.1,184.5 178.4,177.0 182.9,166.5 185.3,163.5Z M188.6,163.5 190.5,162.5 192.0,162.2 196.5,162.1 199.5,162.8 201.0,164.2 205.1,174.0 205.4,178.5 206.8,184.5 207.4,189.0 210.9,196.5 214.0,205.5 213.9,214.5 212.0,219.0 209.3,223.5 207.0,226.1 204.0,228.2 201.0,229.1 192.0,229.4 180.0,224.1 177.5,222.0 174.1,217.5 172.5,214.7 172.0,213.0 172.0,202.5 173.3,192.0 177.6,184.5 180.7,175.5 183.4,169.5 185.5,166.5Z M190.4,165.0 193.5,164.3 196.5,164.5 198.0,165.0 199.7,166.5 203.5,174.0 204.2,180.0 205.6,184.5 206.4,189.0 209.2,195.0 212.8,205.5 213.0,208.5 212.3,214.5 209.9,220.5 207.9,223.5 205.5,225.8 202.5,227.4 201.0,227.8 195.0,228.4 192.0,228.1 181.5,223.5 178.2,220.5 175.3,216.0 174.0,213.0 173.5,202.5 175.3,192.0 180.2,181.5 182.7,174.0 184.2,171.0 187.5,167.1Z M192.5,166.5 195.1,166.5 196.5,167.0 197.8,168.0 201.8,174.0 202.9,180.0 204.5,184.5 205.5,189.1 208.9,196.5 211.4,204.0 212.0,207.0 210.7,216.0 208.9,220.5 207.0,223.1 205.5,224.4 202.5,226.1 199.5,226.8 195.0,227.3 192.0,227.1 190.5,226.5 183.0,223.0 179.7,220.5 176.1,214.5 175.6,213.0 174.7,204.0 174.9,199.5 176.9,192.0 178.6,187.5 182.3,180.0 184.0,174.0 185.8,171.0 187.5,169.4 190.5,167.2Z M190.0,169.5 192.0,168.5 193.5,168.3 195.0,168.6 196.5,169.6 200.0,174.0 205.2,190.5 208.2,196.5 210.9,205.5 211.0,208.5 209.6,216.0 207.9,220.5 206.8,222.0 204.0,224.2 201.0,225.4 196.5,226.2 192.0,226.1 184.5,222.7 181.5,220.9 179.9,219.0 177.3,214.5 176.1,210.0 175.7,201.0 179.0,189.0 180.3,186.0 183.0,181.5 185.3,174.0 187.5,171.2Z M190.6,171.0 193.5,170.3 195.0,170.7 198.0,173.5 199.4,175.5 203.2,186.0 204.4,190.5 207.5,196.5 210.0,205.5 210.0,208.5 208.8,216.0 207.0,220.4 205.5,222.1 202.5,223.8 196.5,225.3 192.0,225.1 184.5,221.8 182.4,220.5 181.0,219.0 178.4,214.5 177.1,210.0 176.6,201.0 180.1,189.0 181.4,186.0 184.3,181.5 186.0,175.5 186.8,174.0 188.3,172.5Z M191.6,172.5 193.5,172.2 195.0,172.7 196.7,174.0 198.8,177.0 202.4,186.0 203.7,190.5 206.8,196.5 209.3,207.0 207.6,217.5 205.9,220.5 202.5,222.8 198.0,224.2 195.0,224.6 190.5,223.8 184.5,221.0 182.0,219.0 179.2,214.5 178.1,211.5 177.4,204.0 177.8,199.5 180.1,193.5 181.7,187.5 185.5,181.5 187.6,175.5 189.0,173.9Z M189.9,175.5 192.0,174.3 193.5,174.1 195.0,174.5 196.5,175.6 197.5,177.0 201.6,186.0 203.0,190.5 206.2,196.5 208.3,205.5 208.3,208.5 207.2,216.0 206.1,219.0 204.7,220.5 202.5,221.8 196.5,223.7 193.5,223.8 192.0,223.5 184.5,220.2 183.0,219.0 180.8,216.0 179.3,213.0 178.6,210.0 178.2,202.5 178.8,199.5 180.6,195.0 183.0,187.5 185.9,183.0 188.5,177.0Z M190.9,177.0 193.5,176.0 195.0,176.3 197.0,178.5 200.7,186.0 202.9,192.0 205.5,196.5 207.6,207.0 206.5,216.0 205.1,219.0 202.5,220.8 198.0,222.5 195.0,223.1 190.5,222.3 184.1,219.0 182.6,217.5 180.8,214.5 179.2,210.0 179.1,202.5 179.7,199.5 184.5,187.5 189.0,179.0Z M191.8,178.5 193.5,178.0 195.0,178.4 196.5,180.0 199.5,185.4 202.1,192.0 204.0,195.0 205.4,198.0 206.8,207.0 206.0,214.5 205.1,217.5 204.0,218.9 202.5,219.9 198.0,221.7 195.0,222.4 190.5,221.6 184.5,218.5 182.4,216.0 180.8,213.0 179.8,208.5 179.9,202.5 180.6,199.5 189.0,181.5 190.5,179.5Z M190.6,181.5 192.0,180.5 193.5,180.1 195.0,180.8 198.0,184.7 201.2,192.0 204.0,196.2 204.7,198.0 206.1,207.0 205.3,214.5 204.1,217.5 201.0,219.6 198.0,220.9 195.0,221.7 190.5,220.9 186.4,219.0 184.5,217.5 181.5,213.0 180.6,210.0 180.7,204.0 181.6,199.5 186.5,190.5 189.0,183.9Z M191.5,183.0 193.5,182.4 195.0,183.2 198.0,187.0 200.2,192.0 204.0,198.0 205.3,207.0 205.2,211.5 204.0,216.2 202.9,217.5 201.0,218.7 198.0,220.1 195.0,221.0 193.5,221.0 190.5,220.2 185.5,217.5 183.0,214.4 181.3,210.0 181.6,204.0 182.5,199.5 184.5,195.6 188.1,190.5 190.2,184.5Z M191.2,186.0 192.0,185.1 193.5,184.8 195.0,185.6 196.5,187.1 199.0,192.0 202.5,196.5 203.6,199.5 204.6,207.0 204.6,211.5 204.0,214.1 203.1,216.0 201.4,217.5 198.7,219.0 195.0,220.3 192.0,220.0 186.7,217.5 184.0,214.5 183.0,212.9 182.1,210.0 182.3,205.5 183.5,199.5 185.0,196.5 188.6,192.0Z M193.4,187.5 195.0,188.1 195.8,189.0 202.4,198.0 204.1,208.5 203.6,213.0 202.5,215.4 199.5,217.7 195.0,219.6 192.0,219.3 187.5,217.1 184.5,213.9 182.9,210.0 183.1,205.5 184.5,199.3 186.0,196.7 190.0,192.0 192.0,188.4Z M193.2,190.5 193.5,190.3 195.0,190.7 201.5,198.0 202.0,199.5 203.4,208.5 203.3,211.5 202.1,214.5 198.4,217.5 195.0,218.9 192.0,218.6 189.5,217.5 187.4,216.0 184.5,212.2 183.7,208.5 184.8,201.0 186.0,198.3 192.0,191.4Z M192.1,193.5 193.5,192.6 195.0,192.9 200.5,198.0 201.2,199.5 202.8,208.5 202.6,211.5 201.1,214.5 198.0,216.9 195.0,218.1 192.0,217.9 188.8,216.0 186.1,213.0 184.7,210.0 184.8,205.5 186.0,200.3 187.5,197.8Z M192.5,195.0 193.5,194.5 195.0,194.7 198.0,196.6 199.5,198.1 200.7,201.0 202.0,208.5 201.8,211.5 201.0,213.3 198.0,216.0 195.0,217.4 192.0,217.0 189.0,214.9 186.4,211.5 185.5,208.5 186.0,203.5 187.4,199.5 189.0,197.7Z M192.7,196.5 195.0,196.2 196.5,196.8 198.0,197.9 199.3,199.5 201.3,208.5 201.0,211.5 200.1,213.0 198.0,215.0 195.0,216.5 192.0,216.1 189.9,214.5 187.6,211.5 186.5,208.5 186.7,204.0 187.7,201.0 189.0,199.1Z M192.7,198.0 195.0,197.6 196.5,198.2 198.1,199.5 199.2,202.5 200.4,208.5 200.4,210.0 199.5,212.2 197.2,214.5 195.0,215.6 193.5,215.6 191.4,214.5 188.9,211.5 187.5,208.5 187.6,204.0 188.8,201.0 190.5,199.3Z M192.8,199.5 195.0,199.1 196.5,199.7 197.6,201.0 199.3,208.5 199.3,210.0 198.7,211.5 197.4,213.0 195.0,214.5 193.5,214.4 191.5,213.0 189.3,210.0 188.4,207.0 188.7,204.0 189.2,202.5 190.5,200.9Z M193.4,201.0 195.0,201.0 196.5,202.2 197.9,208.5 197.7,210.0 196.9,211.5 195.0,212.9 193.5,212.8 192.0,211.7 190.5,209.6 189.6,207.0 189.6,205.5 190.5,203.0 192.0,201.6Z M191.6,204.0 193.5,202.9 195.0,203.4 195.4,204.0 196.1,208.5 195.7,210.0 195.0,210.8 193.5,210.8 191.5,208.5 191.0,207.0 191.0,205.5Z"/>
<path d="M192.3,168.0 195.0,168.1 196.5,168.9 200.5,174.0 205.4,190.5 208.3,196.5 211.3,207.0 209.5,217.5 207.0,222.1 202.5,225.2 195.0,226.6 190.5,225.8 183.0,222.2 180.8,220.5 176.4,213.0 175.4,202.5 176.1,198.0 178.8,189.0 183.0,180.8 184.9,174.0 187.5,170.8Z M192.0,200.7 190.5,201.8 189.2,204.0 189.0,207.4 190.0,210.0 192.0,212.7 193.5,213.6 195.0,213.7 198.0,211.5 198.6,210.0 198.0,204.6 196.5,200.7 195.0,200.0Z" fill="#000" fill-opacity="0.5" fill-rule="evenodd" stroke="none"/>
<path d="M115.5,95.7 114.4,99.2 112.7,102.6 109.7,104.8 106.2,104.0 103.9,101.3 102.0,98.9 99.8,95.7 99.8,91.3 102.9,88.5 106.4,88.4 109.3,88.6 112.6,89.0 115.2,91.7Z"/>
<path d="M61.5,108.8h1.1 M65.2,109.5h1.1 M110.0,95.4h1.1 M66.8,173.1h1.1 M25.2,95.1h1.1 M104.6,98.7h1.1 M67.7,61.6h1.1 M27.8,148.5h1.1 M127.6,122.9h1.1 M61.2,68.0h1.1 M76.1,121.9h1.1 M28.2,127.9h1.1 M68.5,156.4h1.1 M96.1,135.8h1.1 M75.3,96.9h1.1 M57.2,154.3h1.1 M97.7,115.0h1.1 M77.5,109.3h1.1 M109.8,153.9h1.1 M124.0,62.0h1.1 M87.7,61.4h1.1 M76.9,130.6h1.1 M73.6,109.8h1.1 M93.8,153.4h1.1 M71.1,136.8h1.1 M50.6,94.2h1.1 M107.5,135.3h1.1 M68.9,136.7h1.1 M60.9,93.0h1.1 M112.8,90.0h1.1 M63.2,104.8h1.1 M93.3,120.1h1.1 M100.0,129.3h1.1 M112.7,93.7h1.1 M75.3,101.1h1.1 M96.0,84.8h1.1 M86.7,120.9h1.1 M72.5,16.3h1.1 M58.2,164.9h1.1 M91.3,76.4h1.1 M56.7,81.5h1.1 M30.8,143.7h1.1 M80.6,116.9h1.1 M79.7,103.0h1.1 M62.5,122.6h1.1 M51.1,129.7h1.1 M23.0,90.2h1.1 M106.6,93.1h1.1 M93.2,107.0h1.1 M85.9,116.0h1.1 M89.0,135.2h1.1 M94.7,119.7h1.1 M112.7,113.1h1.1 M60.9,147.8h1.1 M52.3,150.0h1.1 M221.1,109.2h1.1 M142.4,92.2h1.1 M170.1,129.4h1.1 M145.0,60.8h1.1 M236.4,106.4h1.1 M100.3,126.1h1.1 M160.9,130.9h1.1 M157.8,100.9h1.1 M191.7,99.4h1.1 M136.1,128.0h1.1 M176.2,120.1h1.1 M186.4,116.7h1.1 M242.6,49.3h1.1 M186.4,87.6h1.1 M175.8,79.8h1.1 M193.9,120.2h1.1 M159.1,74.4h1.1 M188.9,112.4h1.1 M134.0,126.8h1.1 M134.5,124.0h1.1 M131.9,50.8h1.1 M193.3,101.5h1.1 M194.6,149.0h1.1 M142.3,117.7h1.1 M221.1,71.3h1.1 M189.8,66.7h1.1 M199.2,139.9h1.1 M172.9,72.9h1.1 M176.8,96.5h1.1 M182.0,117.1h1.1 M175.7,43.2h1.1 M163.0,126.4h1.1 M222.1,129.8h1.1 M156.3,77.8h1.1 M237.2,120.9h1.1 M239.4,89.0h1.1 M198.5,125.5h1.1 M208.9,164.0h1.1 M127.5,97.6h1.1 M213.3,55.5h1.1 M95.2,135.8h1.1 M119.9,196.0h1.1 M115.0,241.9h1.1 M141.6,148.1h1.1 M76.3,175.2h1.1 M92.1,179.7h1.1 M88.4,131.4h1.1 M25.7,213.9h1.1 M107.6,258.9h1.1 M95.6,179.6h1.1 M101.5,163.1h1.1 M70.5,227.5h1.1 M128.1,169.1h1.1 M110.8,193.0h1.1 M68.2,238.9h1.1 M114.2,165.5h1.1 M45.4,160.7h1.1 M131.7,165.2h1.1 M76.4,258.8h1.1 M80.8,210.3h1.1 M154.8,206.0h1.1 M89.3,228.5h1.1 M78.3,154.3h1.1 M122.9,199.9h1.1 M108.5,153.2h1.1 M72.7,202.4h1.1 M118.1,243.1h1.1 M95.9,168.1h1.1 M121.0,195.5h1.1 M110.8,189.8h1.1 M156.6,199.0h1.1 M105.0,207.0h1.1 M141.4,186.5h1.1 M102.9,209.5h1.1 M65.8,238.4h1.1 M92.5,199.7h1.1 M79.7,210.3h1.1 M75.7,148.4h1.1 M78.9,144.4h1.1 M64.0,176.6h1.1 M74.6,187.0h1.1 M81.3,183.7h1.1 M69.1,236.3h1.1 M110.9,151.1h1.1 M198.1,238.7h1.1 M235.7,210.9h1.1 M243.8,198.9h1.1 M228.4,215.9h1.1 M212.1,205.4h1.1 M204.0,191.2h1.1 M255.0,130.2h1.1 M185.2,210.0h1.1 M200.0,187.9h1.1 M181.6,190.0h1.1" stroke="#8a8a8a" stroke-width="1.1"/>
</g>
<rect x="718.60" y="135.80" width="261.40" height="261.00" fill="none" stroke="#555" stroke-width="1.15"/>
<line x1="711.60" y1="160.80" x2="718.60" y2="160.80" stroke="#444" stroke-width="1.1"/>
<line x1="711.60" y1="218.80" x2="718.60" y2="218.80" stroke="#444" stroke-width="1.1"/>
<line x1="711.60" y1="280.80" x2="718.60" y2="280.80" stroke="#444" stroke-width="1.1"/>
<line x1="711.60" y1="342.80" x2="718.60" y2="342.80" stroke="#444" stroke-width="1.1"/>
<line x1="711.60" y1="360.20" x2="718.60" y2="360.20" stroke="#444" stroke-width="1.1"/>
<line x1="715.10" y1="201.34" x2="718.60" y2="201.34" stroke="#777" stroke-width="0.9"/>
<line x1="715.10" y1="191.13" x2="718.60" y2="191.13" stroke="#777" stroke-width="0.9"/>
<line x1="715.10" y1="183.88" x2="718.60" y2="183.88" stroke="#777" stroke-width="0.9"/>
<line x1="715.10" y1="178.26" x2="718.60" y2="178.26" stroke="#777" stroke-width="0.9"/>
<line x1="715.10" y1="173.67" x2="718.60" y2="173.67" stroke="#777" stroke-width="0.9"/>
<line x1="715.10" y1="169.78" x2="718.60" y2="169.78" stroke="#777" stroke-width="0.9"/>
<line x1="715.10" y1="166.42" x2="718.60" y2="166.42" stroke="#777" stroke-width="0.9"/>
<line x1="715.10" y1="163.45" x2="718.60" y2="163.45" stroke="#777" stroke-width="0.9"/>
<line x1="715.10" y1="262.14" x2="718.60" y2="262.14" stroke="#777" stroke-width="0.9"/>
<line x1="715.10" y1="251.22" x2="718.60" y2="251.22" stroke="#777" stroke-width="0.9"/>
<line x1="715.10" y1="243.47" x2="718.60" y2="243.47" stroke="#777" stroke-width="0.9"/>
<line x1="715.10" y1="237.46" x2="718.60" y2="237.46" stroke="#777" stroke-width="0.9"/>
<line x1="715.10" y1="232.55" x2="718.60" y2="232.55" stroke="#777" stroke-width="0.9"/>
<line x1="715.10" y1="228.40" x2="718.60" y2="228.40" stroke="#777" stroke-width="0.9"/>
<line x1="715.10" y1="224.81" x2="718.60" y2="224.81" stroke="#777" stroke-width="0.9"/>
<line x1="715.10" y1="221.64" x2="718.60" y2="221.64" stroke="#777" stroke-width="0.9"/>
<line x1="715.10" y1="324.14" x2="718.60" y2="324.14" stroke="#777" stroke-width="0.9"/>
<line x1="715.10" y1="313.22" x2="718.60" y2="313.22" stroke="#777" stroke-width="0.9"/>
<line x1="715.10" y1="305.47" x2="718.60" y2="305.47" stroke="#777" stroke-width="0.9"/>
<line x1="715.10" y1="299.46" x2="718.60" y2="299.46" stroke="#777" stroke-width="0.9"/>
<line x1="715.10" y1="294.55" x2="718.60" y2="294.55" stroke="#777" stroke-width="0.9"/>
<line x1="715.10" y1="290.40" x2="718.60" y2="290.40" stroke="#777" stroke-width="0.9"/>
<line x1="715.10" y1="286.81" x2="718.60" y2="286.81" stroke="#777" stroke-width="0.9"/>
<line x1="715.10" y1="283.64" x2="718.60" y2="283.64" stroke="#777" stroke-width="0.9"/>
<line x1="715.10" y1="144.80" x2="718.60" y2="144.80" stroke="#777" stroke-width="0.9"/>
<line x1="715.10" y1="348.80" x2="718.60" y2="348.80" stroke="#777" stroke-width="0.9"/>
<line x1="715.10" y1="352.80" x2="718.60" y2="352.80" stroke="#777" stroke-width="0.9"/>
<line x1="715.10" y1="355.80" x2="718.60" y2="355.80" stroke="#777" stroke-width="0.9"/>
<line x1="715.10" y1="364.80" x2="718.60" y2="364.80" stroke="#777" stroke-width="0.9"/>
<line x1="715.10" y1="367.80" x2="718.60" y2="367.80" stroke="#777" stroke-width="0.9"/>
<line x1="715.10" y1="370.80" x2="718.60" y2="370.80" stroke="#777" stroke-width="0.9"/>
<line x1="715.10" y1="376.80" x2="718.60" y2="376.80" stroke="#777" stroke-width="0.9"/>
<line x1="715.10" y1="389.80" x2="718.60" y2="389.80" stroke="#777" stroke-width="0.9"/>
<line x1="760.20" y1="396.80" x2="760.20" y2="403.80" stroke="#444" stroke-width="1.1"/>
<line x1="834.10" y1="396.80" x2="834.10" y2="403.80" stroke="#444" stroke-width="1.1"/>
<line x1="896.90" y1="396.80" x2="896.90" y2="403.80" stroke="#444" stroke-width="1.1"/>
<line x1="955.80" y1="396.80" x2="955.80" y2="403.80" stroke="#444" stroke-width="1.1"/>
<line x1="853.00" y1="396.80" x2="853.00" y2="400.30" stroke="#777" stroke-width="0.9"/>
<line x1="864.06" y1="396.80" x2="864.06" y2="400.30" stroke="#777" stroke-width="0.9"/>
<line x1="871.91" y1="396.80" x2="871.91" y2="400.30" stroke="#777" stroke-width="0.9"/>
<line x1="878.00" y1="396.80" x2="878.00" y2="400.30" stroke="#777" stroke-width="0.9"/>
<line x1="882.97" y1="396.80" x2="882.97" y2="400.30" stroke="#777" stroke-width="0.9"/>
<line x1="887.17" y1="396.80" x2="887.17" y2="400.30" stroke="#777" stroke-width="0.9"/>
<line x1="890.81" y1="396.80" x2="890.81" y2="400.30" stroke="#777" stroke-width="0.9"/>
<line x1="894.03" y1="396.80" x2="894.03" y2="400.30" stroke="#777" stroke-width="0.9"/>
<line x1="914.63" y1="396.80" x2="914.63" y2="400.30" stroke="#777" stroke-width="0.9"/>
<line x1="925.00" y1="396.80" x2="925.00" y2="400.30" stroke="#777" stroke-width="0.9"/>
<line x1="932.36" y1="396.80" x2="932.36" y2="400.30" stroke="#777" stroke-width="0.9"/>
<line x1="938.07" y1="396.80" x2="938.07" y2="400.30" stroke="#777" stroke-width="0.9"/>
<line x1="942.73" y1="396.80" x2="942.73" y2="400.30" stroke="#777" stroke-width="0.9"/>
<line x1="946.68" y1="396.80" x2="946.68" y2="400.30" stroke="#777" stroke-width="0.9"/>
<line x1="950.09" y1="396.80" x2="950.09" y2="400.30" stroke="#777" stroke-width="0.9"/>
<line x1="953.10" y1="396.80" x2="953.10" y2="400.30" stroke="#777" stroke-width="0.9"/>
<line x1="798.98" y1="396.80" x2="798.98" y2="400.30" stroke="#777" stroke-width="0.9"/>
<line x1="807.82" y1="396.80" x2="807.82" y2="400.30" stroke="#777" stroke-width="0.9"/>
<line x1="814.10" y1="396.80" x2="814.10" y2="400.30" stroke="#777" stroke-width="0.9"/>
<line x1="818.97" y1="396.80" x2="818.97" y2="400.30" stroke="#777" stroke-width="0.9"/>
<line x1="822.95" y1="396.80" x2="822.95" y2="400.30" stroke="#777" stroke-width="0.9"/>
<line x1="826.32" y1="396.80" x2="826.32" y2="400.30" stroke="#777" stroke-width="0.9"/>
<line x1="829.23" y1="396.80" x2="829.23" y2="400.30" stroke="#777" stroke-width="0.9"/>
<line x1="831.80" y1="396.80" x2="831.80" y2="400.30" stroke="#777" stroke-width="0.9"/>
<line x1="723.60" y1="396.80" x2="723.60" y2="400.30" stroke="#555" stroke-width="1.0"/>
<line x1="734.60" y1="396.80" x2="734.60" y2="400.30" stroke="#555" stroke-width="1.0"/>
<line x1="970.60" y1="396.80" x2="970.60" y2="400.30" stroke="#555" stroke-width="1.0"/>
<line x1="746.00" y1="396.80" x2="746.00" y2="403.30" stroke="#222" stroke-width="1.2"/>
<line x1="749.10" y1="396.80" x2="749.10" y2="400.80" stroke="#222" stroke-width="1.6"/>
<line x1="751.60" y1="396.80" x2="751.60" y2="401.80" stroke="#222" stroke-width="1.6"/>
<line x1="754.20" y1="396.80" x2="754.20" y2="400.80" stroke="#222" stroke-width="1.4"/>
<line x1="757.00" y1="396.80" x2="757.00" y2="400.80" stroke="#222" stroke-width="1.2"/>
<line x1="767.10" y1="396.80" x2="767.10" y2="401.80" stroke="#222" stroke-width="1.4"/>
<line x1="769.60" y1="396.80" x2="769.60" y2="400.80" stroke="#222" stroke-width="1.6"/>
<line x1="772.00" y1="396.80" x2="772.00" y2="400.80" stroke="#222" stroke-width="1.2"/>
<line x1="774.60" y1="396.80" x2="774.60" y2="402.80" stroke="#222" stroke-width="1.3"/>
<rect x="88.50" y="178.70" width="113.50" height="107.10" fill="none" stroke="#000" stroke-width="4.4"/>
<rect x="205.60" y="198.40" width="130.40" height="86.60" fill="none" stroke="#000" stroke-width="4.4"/>
<path d="M208.80,398.80 V292.60 H345.80" fill="none" stroke="#000" stroke-width="4.4" stroke-linejoin="miter" stroke-linecap="butt"/>
<rect x="405.20" y="182.80" width="113.00" height="107.60" fill="none" stroke="#000" stroke-width="4.4"/>
<rect x="521.80" y="202.80" width="129.80" height="86.40" fill="none" stroke="#000" stroke-width="4.4"/>
<path d="M525.20,403.30 V296.80 H662.00" fill="none" stroke="#000" stroke-width="4.4" stroke-linejoin="miter" stroke-linecap="butt"/>
<rect x="723.20" y="178.00" width="113.00" height="108.00" fill="none" stroke="#000" stroke-width="4.4"/>
<rect x="839.80" y="198.60" width="130.00" height="86.40" fill="none" stroke="#000" stroke-width="4.4"/>
<path d="M843.20,398.80 V293.20 H980.00" fill="none" stroke="#000" stroke-width="4.4" stroke-linejoin="miter" stroke-linecap="butt"/>
<rect x="201.60" y="198.00" width="5.00" height="90.00" fill="#000" stroke="none" stroke-width="1"/>
<rect x="517.80" y="202.50" width="5.00" height="90.10" fill="#000" stroke="none" stroke-width="1"/>
<rect x="835.80" y="198.20" width="5.00" height="90.00" fill="#000" stroke="none" stroke-width="1"/>
<rect x="85.20" y="150.00" width="60.80" height="28.60" fill="#fff" stroke="none" stroke-width="1"/>
<rect x="246.00" y="166.00" width="40.00" height="30.00" fill="#fff" stroke="none" stroke-width="1"/>
<rect x="283.50" y="370.00" width="61.50" height="31.20" fill="#fff" stroke="none" stroke-width="1"/>
<rect x="401.40" y="154.00" width="60.60" height="28.60" fill="#fff" stroke="none" stroke-width="1"/>
<rect x="551.00" y="170.00" width="62.00" height="30.40" fill="#fff" stroke="none" stroke-width="1"/>
<rect x="598.50" y="374.00" width="62.70" height="31.60" fill="#fff" stroke="none" stroke-width="1"/>
<rect x="719.40" y="150.00" width="60.60" height="27.80" fill="#fff" stroke="none" stroke-width="1"/>
<rect x="869.00" y="166.00" width="62.00" height="30.20" fill="#fff" stroke="none" stroke-width="1"/>
<rect x="917.00" y="369.00" width="62.20" height="32.20" fill="#fff" stroke="none" stroke-width="1"/>
<path d="M46.6,295.4 V433.0 H184.6" fill="none" stroke="#000" stroke-width="2.8" stroke-linejoin="miter" stroke-linecap="butt"/>
<path d="M34.3,316.9 L46.6,294.4 L58.9,316.9" fill="none" stroke="#000" stroke-width="2.8" stroke-linejoin="miter" stroke-linecap="butt"/>
<path d="M163.1,420.7 L185.6,433.0 L163.1,445.3" fill="none" stroke="#000" stroke-width="2.8" stroke-linejoin="miter" stroke-linecap="butt"/>
<path d="M1184.4,57.8 H1797.2 V461.0" fill="none" stroke="#000" stroke-width="2.4" stroke-linejoin="miter" stroke-linecap="butt"/>
<line x1="1192.40" y1="56.60" x2="1192.40" y2="462.20" stroke="#000" stroke-width="2.6"/>
<line x1="1184.40" y1="461.00" x2="1798.40" y2="461.00" stroke="#000" stroke-width="2.6"/>
<line x1="1184.40" y1="57.80" x2="1192.40" y2="57.80" stroke="#000" stroke-width="2.4"/>
<line x1="1184.40" y1="192.20" x2="1192.40" y2="192.20" stroke="#000" stroke-width="2.4"/>
<line x1="1184.40" y1="326.60" x2="1192.40" y2="326.60" stroke="#000" stroke-width="2.4"/>
<line x1="1184.40" y1="461.00" x2="1192.40" y2="461.00" stroke="#000" stroke-width="2.4"/>
<line x1="1267.40" y1="461.00" x2="1267.40" y2="469.50" stroke="#000" stroke-width="2.4"/>
<line x1="1418.70" y1="461.00" x2="1418.70" y2="469.50" stroke="#000" stroke-width="2.4"/>
<line x1="1570.20" y1="461.00" x2="1570.20" y2="469.50" stroke="#000" stroke-width="2.4"/>
<line x1="1721.60" y1="461.00" x2="1721.60" y2="469.50" stroke="#000" stroke-width="2.4"/>
<circle cx="1688.0" cy="81.5" r="5.0" fill="#000" stroke="none" stroke-width="1.4"/>
<circle cx="1688.0" cy="118.0" r="5.2" fill="#b4b4b4" stroke="#000" stroke-width="1.8"/>
<circle cx="1688.0" cy="150.6" r="5.2" fill="none" stroke="#000" stroke-width="1.8"/>
<circle cx="1219.6" cy="279.4" r="5.0" fill="#000" stroke="none" stroke-width="1.4"/>
<circle cx="1233.6" cy="276.6" r="5.0" fill="#000" stroke="none" stroke-width="1.4"/>
<circle cx="1219.6" cy="322.4" r="5.0" fill="#000" stroke="none" stroke-width="1.4"/>
<circle cx="1233.6" cy="323.0" r="5.0" fill="#000" stroke="none" stroke-width="1.4"/>
<circle cx="1219.6" cy="356.6" r="5.0" fill="#000" stroke="none" stroke-width="1.4"/>
<circle cx="1233.6" cy="355.4" r="5.0" fill="#000" stroke="none" stroke-width="1.4"/>
<circle cx="1267.6" cy="181.8" r="5.2" fill="#b4b4b4" stroke="#000" stroke-width="1.8"/>
<circle cx="1267.6" cy="277.0" r="5.2" fill="#b4b4b4" stroke="#000" stroke-width="1.8"/>
<circle cx="1261.0" cy="294.4" r="5.2" fill="#b4b4b4" stroke="#000" stroke-width="1.8"/>
<circle cx="1274.6" cy="302.0" r="5.2" fill="#b4b4b4" stroke="#000" stroke-width="1.8"/>
<circle cx="1274.6" cy="317.6" r="5.2" fill="#b4b4b4" stroke="#000" stroke-width="1.8"/>
<circle cx="1261.0" cy="329.4" r="5.2" fill="#b4b4b4" stroke="#000" stroke-width="1.8"/>
<circle cx="1309.0" cy="396.0" r="5.2" fill="none" stroke="#000" stroke-width="1.8"/>
<circle cx="1303.0" cy="413.4" r="5.2" fill="none" stroke="#000" stroke-width="1.8"/>
<circle cx="1315.0" cy="416.0" r="5.2" fill="none" stroke="#000" stroke-width="1.8"/>
<circle cx="1305.0" cy="421.0" r="5.2" fill="none" stroke="#000" stroke-width="1.8"/>
<circle cx="1312.0" cy="425.0" r="5.2" fill="none" stroke="#000" stroke-width="1.8"/>
<circle cx="1309.0" cy="429.0" r="5.2" fill="none" stroke="#000" stroke-width="1.8"/>
<line x1="1227.40" y1="142.40" x2="1309.00" y2="142.40" stroke="#000" stroke-width="2.4" stroke-linecap="round"/>
<circle cx="1371.4" cy="331.4" r="5.0" fill="#000" stroke="none" stroke-width="1.4"/>
<circle cx="1385.0" cy="344.6" r="5.0" fill="#000" stroke="none" stroke-width="1.4"/>
<circle cx="1371.0" cy="375.0" r="5.0" fill="#000" stroke="none" stroke-width="1.4"/>
<circle cx="1385.6" cy="375.0" r="5.0" fill="#000" stroke="none" stroke-width="1.4"/>
<circle cx="1375.0" cy="389.0" r="5.0" fill="#000" stroke="none" stroke-width="1.4"/>
<circle cx="1381.6" cy="386.0" r="5.0" fill="#000" stroke="none" stroke-width="1.4"/>
<circle cx="1419.4" cy="283.4" r="5.2" fill="#b4b4b4" stroke="#000" stroke-width="1.8"/>
<circle cx="1419.4" cy="339.0" r="5.2" fill="#b4b4b4" stroke="#000" stroke-width="1.8"/>
<circle cx="1427.0" cy="377.6" r="5.2" fill="#b4b4b4" stroke="#000" stroke-width="1.8"/>
<circle cx="1412.0" cy="384.4" r="5.2" fill="#b4b4b4" stroke="#000" stroke-width="1.8"/>
<circle cx="1417.0" cy="386.0" r="5.2" fill="#b4b4b4" stroke="#000" stroke-width="1.8"/>
<circle cx="1423.0" cy="385.0" r="5.2" fill="#b4b4b4" stroke="#000" stroke-width="1.8"/>
<circle cx="1453.0" cy="461.0" r="5.2" fill="none" stroke="#000" stroke-width="1.8"/>
<circle cx="1457.5" cy="461.0" r="5.2" fill="none" stroke="#000" stroke-width="1.8"/>
<circle cx="1462.0" cy="461.0" r="5.2" fill="none" stroke="#000" stroke-width="1.8"/>
<circle cx="1466.0" cy="461.0" r="5.2" fill="none" stroke="#000" stroke-width="1.8"/>
<circle cx="1468.6" cy="459.6" r="5.2" fill="none" stroke="#000" stroke-width="1.8"/>
<circle cx="1460.0" cy="461.5" r="5.2" fill="none" stroke="#000" stroke-width="1.8"/>
<line x1="1380.40" y1="251.60" x2="1462.60" y2="251.60" stroke="#000" stroke-width="2.4" stroke-linecap="round"/>
<circle cx="1522.0" cy="438.0" r="5.0" fill="#000" stroke="none" stroke-width="1.4"/>
<circle cx="1537.6" cy="435.0" r="5.0" fill="#000" stroke="none" stroke-width="1.4"/>
<circle cx="1522.4" cy="445.6" r="5.0" fill="#000" stroke="none" stroke-width="1.4"/>
<circle cx="1537.4" cy="445.2" r="5.0" fill="#000" stroke="none" stroke-width="1.4"/>
<circle cx="1526.6" cy="448.0" r="5.0" fill="#000" stroke="none" stroke-width="1.4"/>
<circle cx="1532.4" cy="447.6" r="5.0" fill="#000" stroke="none" stroke-width="1.4"/>
<circle cx="1564.0" cy="424.0" r="5.2" fill="#b4b4b4" stroke="#000" stroke-width="1.8"/>
<circle cx="1578.0" cy="432.4" r="5.2" fill="#b4b4b4" stroke="#000" stroke-width="1.8"/>
<circle cx="1578.6" cy="439.0" r="5.2" fill="#b4b4b4" stroke="#000" stroke-width="1.8"/>
<circle cx="1563.4" cy="443.0" r="5.2" fill="#b4b4b4" stroke="#000" stroke-width="1.8"/>
<circle cx="1574.0" cy="445.0" r="5.2" fill="#b4b4b4" stroke="#000" stroke-width="1.8"/>
<circle cx="1567.4" cy="449.6" r="5.2" fill="#b4b4b4" stroke="#000" stroke-width="1.8"/>
<circle cx="1605.0" cy="461.0" r="5.2" fill="none" stroke="#000" stroke-width="1.8"/>
<circle cx="1609.5" cy="461.0" r="5.2" fill="none" stroke="#000" stroke-width="1.8"/>
<circle cx="1614.0" cy="461.0" r="5.2" fill="none" stroke="#000" stroke-width="1.8"/>
<circle cx="1618.0" cy="461.0" r="5.2" fill="none" stroke="#000" stroke-width="1.8"/>
<circle cx="1620.6" cy="460.4" r="5.2" fill="none" stroke="#000" stroke-width="1.8"/>
<circle cx="1612.0" cy="461.5" r="5.2" fill="none" stroke="#000" stroke-width="1.8"/>
<line x1="1532.40" y1="400.20" x2="1614.00" y2="400.20" stroke="#000" stroke-width="2.4" stroke-linecap="round"/>
<circle cx="1681.0" cy="437.0" r="5.0" fill="#000" stroke="none" stroke-width="1.4"/>
<circle cx="1675.0" cy="441.6" r="5.0" fill="#000" stroke="none" stroke-width="1.4"/>
<circle cx="1687.0" cy="445.0" r="5.0" fill="#000" stroke="none" stroke-width="1.4"/>
<circle cx="1678.0" cy="450.0" r="5.0" fill="#000" stroke="none" stroke-width="1.4"/>
<circle cx="1685.0" cy="450.0" r="5.0" fill="#000" stroke="none" stroke-width="1.4"/>
<circle cx="1681.0" cy="456.0" r="5.0" fill="#000" stroke="none" stroke-width="1.4"/>
<circle cx="1715.6" cy="416.6" r="5.2" fill="#b4b4b4" stroke="#000" stroke-width="1.8"/>
<circle cx="1729.6" cy="421.0" r="5.2" fill="#b4b4b4" stroke="#000" stroke-width="1.8"/>
<circle cx="1714.4" cy="430.0" r="5.2" fill="#b4b4b4" stroke="#000" stroke-width="1.8"/>
<circle cx="1730.0" cy="430.0" r="5.2" fill="#b4b4b4" stroke="#000" stroke-width="1.8"/>
<circle cx="1725.4" cy="438.0" r="5.2" fill="#b4b4b4" stroke="#000" stroke-width="1.8"/>
<circle cx="1719.0" cy="444.4" r="5.2" fill="#b4b4b4" stroke="#000" stroke-width="1.8"/>
<circle cx="1764.0" cy="403.6" r="5.2" fill="none" stroke="#000" stroke-width="1.8"/>
<circle cx="1757.6" cy="416.0" r="5.2" fill="none" stroke="#000" stroke-width="1.8"/>
<circle cx="1770.0" cy="421.0" r="5.2" fill="none" stroke="#000" stroke-width="1.8"/>
<circle cx="1761.0" cy="422.0" r="5.2" fill="none" stroke="#000" stroke-width="1.8"/>
<circle cx="1762.4" cy="430.0" r="5.2" fill="none" stroke="#000" stroke-width="1.8"/>
<circle cx="1768.0" cy="430.0" r="5.2" fill="none" stroke="#000" stroke-width="1.8"/>
<line x1="1683.40" y1="337.00" x2="1765.60" y2="337.00" stroke="#000" stroke-width="2.4" stroke-linecap="round"/>
<line x1="1683.40" y1="379.00" x2="1725.60" y2="379.00" stroke="#000" stroke-width="2.4" stroke-linecap="round"/>
<path d="M96.4,645.4 H483.0 V1023.8" fill="none" stroke="#000" stroke-width="2.2" stroke-linejoin="miter" stroke-linecap="butt"/>
<line x1="103.40" y1="644.30" x2="103.40" y2="1024.90" stroke="#000" stroke-width="2.4"/>
<line x1="96.40" y1="1023.80" x2="484.10" y2="1023.80" stroke="#000" stroke-width="2.4"/>
<line x1="96.40" y1="645.40" x2="103.40" y2="645.40" stroke="#000" stroke-width="2.2"/>
<line x1="96.40" y1="740.00" x2="103.40" y2="740.00" stroke="#000" stroke-width="2.2"/>
<line x1="96.40" y1="834.60" x2="103.40" y2="834.60" stroke="#000" stroke-width="2.2"/>
<line x1="96.40" y1="929.20" x2="103.40" y2="929.20" stroke="#000" stroke-width="2.2"/>
<line x1="96.40" y1="1023.80" x2="103.40" y2="1023.80" stroke="#000" stroke-width="2.2"/>
<line x1="165.20" y1="1023.80" x2="165.20" y2="1031.30" stroke="#000" stroke-width="2.2"/>
<line x1="292.60" y1="1023.80" x2="292.60" y2="1031.30" stroke="#000" stroke-width="2.2"/>
<line x1="419.20" y1="1023.80" x2="419.20" y2="1031.30" stroke="#000" stroke-width="2.2"/>
<circle cx="379.1" cy="663.8" r="4.4" fill="#000" stroke="none" stroke-width="1.4"/>
<circle cx="379.1" cy="693.8" r="4.6" fill="#b4b4b4" stroke="#000" stroke-width="1.8"/>
<circle cx="379.1" cy="724.4" r="4.6" fill="none" stroke="#000" stroke-width="1.8"/>
<circle cx="131.0" cy="906.0" r="4.4" fill="#000" stroke="none" stroke-width="1.4"/>
<circle cx="124.0" cy="911.4" r="4.4" fill="#000" stroke="none" stroke-width="1.4"/>
<circle cx="139.0" cy="911.0" r="4.4" fill="#000" stroke="none" stroke-width="1.4"/>
<circle cx="135.0" cy="916.0" r="4.4" fill="#000" stroke="none" stroke-width="1.4"/>
<circle cx="128.6" cy="921.6" r="4.4" fill="#000" stroke="none" stroke-width="1.4"/>
<circle cx="166.0" cy="891.0" r="4.6" fill="#b4b4b4" stroke="#000" stroke-width="1.8"/>
<circle cx="161.6" cy="903.0" r="4.6" fill="#b4b4b4" stroke="#000" stroke-width="1.8"/>
<circle cx="171.0" cy="902.4" r="4.6" fill="#b4b4b4" stroke="#000" stroke-width="1.8"/>
<circle cx="166.0" cy="907.0" r="4.6" fill="#b4b4b4" stroke="#000" stroke-width="1.8"/>
<circle cx="166.0" cy="921.0" r="4.6" fill="#b4b4b4" stroke="#000" stroke-width="1.8"/>
<circle cx="200.6" cy="841.4" r="4.6" fill="none" stroke="#000" stroke-width="1.8"/>
<circle cx="195.0" cy="865.4" r="4.6" fill="none" stroke="#000" stroke-width="1.8"/>
<circle cx="206.4" cy="870.4" r="4.6" fill="none" stroke="#000" stroke-width="1.8"/>
<circle cx="206.4" cy="889.4" r="4.6" fill="none" stroke="#000" stroke-width="1.8"/>
<circle cx="195.0" cy="893.0" r="4.6" fill="none" stroke="#000" stroke-width="1.8"/>
<line x1="126.00" y1="814.60" x2="203.40" y2="814.60" stroke="#000" stroke-width="2.2" stroke-linecap="round"/>
<circle cx="258.0" cy="743.6" r="4.4" fill="#000" stroke="none" stroke-width="1.4"/>
<circle cx="252.4" cy="758.6" r="4.4" fill="#000" stroke="none" stroke-width="1.4"/>
<circle cx="264.0" cy="759.0" r="4.4" fill="#000" stroke="none" stroke-width="1.4"/>
<circle cx="264.0" cy="773.0" r="4.4" fill="#000" stroke="none" stroke-width="1.4"/>
<circle cx="252.4" cy="781.4" r="4.4" fill="#000" stroke="none" stroke-width="1.4"/>
<circle cx="298.4" cy="757.0" r="4.6" fill="#b4b4b4" stroke="#000" stroke-width="1.8"/>
<circle cx="287.0" cy="762.6" r="4.6" fill="#b4b4b4" stroke="#000" stroke-width="1.8"/>
<circle cx="287.0" cy="784.0" r="4.6" fill="#b4b4b4" stroke="#000" stroke-width="1.8"/>
<circle cx="298.4" cy="797.0" r="4.6" fill="#b4b4b4" stroke="#000" stroke-width="1.8"/>
<circle cx="292.6" cy="819.6" r="4.6" fill="#b4b4b4" stroke="#000" stroke-width="1.8"/>
<circle cx="321.6" cy="915.6" r="4.6" fill="none" stroke="#000" stroke-width="1.8"/>
<circle cx="332.0" cy="915.6" r="4.6" fill="none" stroke="#000" stroke-width="1.8"/>
<circle cx="327.0" cy="921.6" r="4.6" fill="none" stroke="#000" stroke-width="1.8"/>
<circle cx="333.0" cy="931.0" r="4.6" fill="none" stroke="#000" stroke-width="1.8"/>
<circle cx="321.6" cy="940.6" r="4.6" fill="none" stroke="#000" stroke-width="1.8"/>
<line x1="253.00" y1="717.60" x2="330.20" y2="717.60" stroke="#000" stroke-width="2.2" stroke-linecap="round"/>
<circle cx="460.3" cy="894.0" r="4.6" fill="none" stroke="#000" stroke-width="1.8"/>
<circle cx="448.2" cy="902.7" r="4.6" fill="none" stroke="#000" stroke-width="1.8"/>
<circle cx="447.8" cy="925.3" r="4.6" fill="none" stroke="#000" stroke-width="1.8"/>
<circle cx="460.0" cy="934.2" r="4.6" fill="none" stroke="#000" stroke-width="1.8"/>
<circle cx="453.7" cy="947.9" r="4.6" fill="none" stroke="#000" stroke-width="1.8"/>
<clipPath id="clipD1"><rect x="0" y="0" width="261.2" height="261.0"/></clipPath>
<g clip-path="url(#clipD1)" transform="translate(586.2,685.8)" fill="none" stroke="#1c1c1c" stroke-width="0.95" stroke-linejoin="round">
<path d="M56.2,25.5 64.5,24.4 73.5,24.2 99.0,26.5 105.0,28.3 112.5,32.0 115.2,34.5 121.5,42.0 123.5,43.5 126.0,44.4 130.5,45.0 135.0,44.9 141.0,44.1 151.5,41.9 154.5,41.7 159.0,42.1 168.0,43.9 175.5,46.7 186.0,49.2 195.2,54.0 197.7,55.5 202.2,60.0 206.0,63.0 207.2,64.5 208.2,67.5 208.5,72.0 207.9,76.5 206.3,81.0 203.3,87.0 202.3,90.0 202.3,97.5 203.8,103.5 203.8,105.0 203.2,106.5 197.3,111.0 192.0,114.0 187.5,115.3 174.0,117.7 168.0,117.9 156.0,115.8 148.5,115.5 135.0,117.3 123.0,118.2 111.0,120.2 102.0,120.5 99.0,121.2 97.5,122.4 96.5,124.5 92.4,139.5 88.1,148.5 85.5,151.9 82.5,153.6 79.6,154.5 69.0,156.7 63.0,157.0 60.0,156.5 57.0,155.4 55.5,154.5 53.1,151.5 51.7,147.0 51.0,140.5 48.1,135.0 47.4,132.0 48.0,128.4 51.9,120.0 53.2,115.5 53.4,111.0 52.5,105.0 51.0,103.4 40.5,100.2 28.5,95.6 18.0,89.6 12.2,84.0 6.2,79.5 2.6,73.5 2.0,72.0 1.4,69.0 1.8,66.0 2.9,63.0 9.8,51.0 18.0,39.2 21.0,36.1 39.0,27.7 43.5,26.8Z M174.3,135.0 178.5,134.2 181.5,134.4 186.0,135.8 190.5,138.3 194.5,142.5 199.5,146.6 200.8,148.5 203.3,157.5 203.8,160.5 203.2,171.0 202.7,174.0 199.1,181.5 197.0,187.5 194.0,190.5 190.5,192.6 186.0,194.3 180.0,195.5 175.5,195.3 172.5,194.4 168.0,192.1 165.9,190.5 164.6,189.0 162.2,184.5 157.5,177.0 151.9,171.0 150.9,168.0 151.0,162.0 151.9,157.5 153.5,154.5 157.5,149.1 161.4,142.5 163.5,140.3 166.5,138.3 171.0,136.1Z M63.9,28.5 70.5,28.0 81.0,29.2 91.5,29.3 96.0,29.9 99.0,30.9 103.6,33.0 107.7,36.0 109.9,39.0 113.8,46.5 115.1,48.0 117.5,49.5 121.5,50.6 129.0,51.5 135.0,51.5 139.5,50.7 150.0,47.3 153.0,46.8 157.5,46.7 162.0,47.4 170.7,51.0 181.5,53.7 186.0,55.6 189.0,57.6 196.6,67.5 197.9,70.5 198.4,73.5 198.2,76.5 197.7,78.0 188.2,91.5 186.6,94.5 183.6,102.0 180.9,106.5 179.3,108.0 176.9,109.5 172.5,111.4 168.1,112.5 165.0,112.7 153.0,111.2 148.5,111.1 135.0,113.1 129.0,113.6 109.5,114.3 94.5,113.8 91.5,114.2 88.2,115.5 86.1,117.0 85.0,118.5 84.5,120.0 85.7,127.5 85.6,130.5 82.9,142.5 81.3,145.5 78.0,147.8 73.5,149.4 67.5,150.6 63.0,150.2 60.5,148.5 59.1,145.5 58.6,142.5 58.4,135.0 59.0,132.0 66.0,118.5 67.0,115.5 67.7,105.0 67.0,102.0 66.1,100.5 64.5,99.0 61.5,98.2 49.5,98.3 42.0,96.9 33.0,93.7 22.5,87.9 19.5,85.6 12.0,78.0 8.3,70.5 7.4,67.5 8.3,63.0 14.1,51.0 18.0,46.3 22.5,42.7 40.5,33.8 45.0,32.6 52.5,31.5Z M174.4,141.0 177.0,140.3 180.0,140.2 183.0,140.8 184.5,141.7 192.5,150.0 194.2,153.0 196.7,160.5 196.8,163.5 196.4,165.0 190.2,178.5 189.0,180.1 186.0,182.7 183.0,184.4 180.0,185.4 177.0,185.5 174.4,184.5 168.0,178.6 161.1,168.0 160.3,165.0 160.2,160.5 160.8,156.0 162.2,151.5 163.8,148.5 166.2,145.5 168.0,144.1 171.0,142.3Z M61.4,33.0 64.5,32.1 69.0,31.5 87.0,31.9 93.0,32.5 97.5,33.9 100.5,35.4 103.0,37.5 104.9,40.5 108.4,48.0 110.9,51.0 115.5,53.6 121.5,55.3 129.0,56.0 136.5,55.7 141.0,54.8 150.0,51.3 153.0,50.5 157.5,50.4 160.5,51.0 181.5,58.0 185.2,60.0 187.5,63.0 190.7,69.0 191.0,72.0 190.4,75.0 188.0,79.5 184.5,83.3 172.7,90.0 162.5,99.0 157.9,103.5 156.0,104.8 142.2,108.0 136.5,108.9 123.0,109.1 108.0,110.2 103.5,109.9 94.5,108.4 86.5,108.0 83.2,106.5 81.8,103.5 79.7,100.5 76.5,97.3 74.9,96.0 73.5,95.4 70.5,94.8 67.5,94.7 51.0,96.1 45.0,95.4 39.0,93.9 36.0,92.6 30.0,88.7 24.0,85.8 15.2,78.0 13.7,75.0 11.2,67.5 11.2,64.5 12.5,60.0 15.2,54.0 18.0,49.9 21.0,47.1 25.5,44.1 37.5,38.5 42.0,36.9 46.5,36.1 54.0,35.5Z M173.6,145.5 177.0,144.7 178.5,144.7 181.5,145.8 184.5,148.1 187.5,150.7 189.0,152.6 191.4,159.0 191.7,162.0 191.4,163.5 190.2,166.5 188.3,169.5 184.5,174.1 183.0,175.2 180.0,176.4 175.5,176.6 172.5,175.5 170.9,174.0 167.9,169.5 165.7,165.0 165.3,156.0 166.3,151.5 168.0,148.9 169.5,147.6Z M69.4,34.5 76.5,34.2 87.0,34.6 91.5,35.3 96.0,36.8 98.9,39.0 100.1,40.5 104.3,48.0 106.5,51.1 112.5,55.5 115.5,57.2 118.5,58.2 139.5,59.4 144.0,58.6 151.5,55.6 156.0,54.5 160.5,54.7 166.5,56.2 178.5,60.6 181.5,62.4 183.1,64.5 184.3,67.5 184.5,70.5 184.1,72.0 181.5,76.8 178.5,79.9 174.0,82.1 168.0,83.6 162.0,84.5 145.5,85.2 129.0,84.7 124.5,85.2 121.5,86.1 118.5,87.6 115.5,90.0 112.9,93.0 108.8,99.0 106.8,100.5 105.0,101.2 102.0,101.3 97.5,100.4 88.5,96.4 83.1,93.0 79.5,91.9 76.5,91.7 72.0,91.9 52.5,94.3 46.5,94.0 40.5,92.6 37.5,91.3 31.5,87.0 25.5,84.1 19.3,79.5 16.6,76.5 13.7,66.0 14.0,61.5 15.7,57.0 18.6,52.5 22.5,48.8 28.3,45.0 36.0,41.4 40.5,39.8 43.5,39.2 52.5,39.4 55.5,39.0 64.5,35.6Z M172.2,151.5 175.5,150.3 180.0,150.5 183.0,151.8 184.5,153.0 185.5,154.5 186.6,159.0 186.1,163.5 183.6,168.0 181.5,169.9 180.0,170.6 177.0,170.9 175.5,170.3 172.5,167.5 170.8,165.0 170.0,162.0 169.5,156.0 170.5,153.0Z M71.4,37.5 75.0,37.5 88.5,38.9 93.0,40.2 96.0,42.6 104.0,52.5 112.5,59.2 115.5,60.7 118.5,61.3 129.0,61.7 136.5,63.2 141.0,63.5 145.5,62.7 156.0,58.9 159.0,58.5 162.0,58.7 166.5,60.2 172.3,63.0 174.4,64.5 175.3,66.0 175.4,67.5 175.0,70.5 174.3,72.0 172.8,73.5 171.0,74.6 168.0,75.5 157.5,77.1 144.0,77.9 118.5,82.1 115.5,83.4 106.5,89.0 100.5,90.9 96.0,91.1 87.0,89.5 81.0,89.1 72.0,89.7 54.0,92.4 48.0,92.4 42.0,91.3 39.3,90.0 34.5,86.1 28.5,83.2 22.5,79.6 20.3,78.0 18.9,76.5 17.7,73.5 15.9,64.5 16.1,61.5 17.7,57.0 20.0,54.0 24.0,50.7 31.5,45.7 37.5,43.0 43.5,41.9 52.5,42.3 55.5,42.1 58.5,41.3 66.0,38.5Z M65.3,42.0 69.0,41.3 72.0,41.4 87.0,43.1 90.0,44.0 96.0,48.2 111.0,61.5 112.5,62.5 117.0,63.9 127.5,64.6 136.5,66.6 139.6,67.5 141.0,68.4 141.9,69.0 142.2,70.5 141.5,72.0 139.9,73.5 135.0,76.0 129.0,77.5 118.5,77.9 115.5,78.4 112.9,79.5 106.5,83.9 100.5,85.8 94.5,86.6 75.0,87.7 54.0,90.9 48.0,91.0 43.5,90.1 40.7,88.5 37.2,85.5 24.0,78.7 21.0,76.5 19.6,73.5 17.8,64.5 17.8,61.5 18.7,58.5 20.8,55.5 22.5,54.0 33.0,47.0 37.5,44.9 40.5,44.1 43.5,43.9 55.5,44.5 58.5,44.0Z M155.3,66.0 159.0,64.5 160.5,64.7 161.8,66.0 159.0,67.5 157.5,67.7 155.3,67.5Z M64.9,45.0 70.5,44.4 78.0,45.3 85.5,47.0 91.5,49.0 96.0,51.5 103.1,57.0 109.5,63.7 114.0,66.7 117.0,67.9 118.5,68.1 126.0,67.7 130.5,68.5 131.9,69.0 133.3,70.5 132.9,72.0 131.1,73.5 127.5,74.4 117.0,74.0 114.0,74.4 111.0,75.7 106.5,79.0 103.5,80.6 96.0,83.2 90.0,84.7 73.5,86.3 55.5,89.4 49.5,89.7 45.0,89.0 43.5,88.3 37.7,84.0 25.5,78.0 22.5,75.8 21.2,73.5 19.5,64.5 19.4,61.5 20.4,58.5 21.4,57.0 24.0,54.8 34.5,47.9 39.0,46.0 45.0,45.4 54.0,46.6 57.0,46.6Z M37.2,48.0 40.5,46.9 45.0,46.7 54.0,48.4 57.0,48.5 66.0,46.8 72.0,46.6 76.5,47.3 90.0,51.2 94.5,53.3 102.0,58.6 109.0,67.5 109.5,69.0 109.3,70.5 107.5,73.5 103.5,76.8 93.0,81.6 88.5,83.2 84.0,84.0 73.5,85.0 57.0,88.1 51.0,88.5 46.5,87.9 40.5,84.0 25.4,76.5 23.6,75.0 22.8,73.5 20.9,63.0 21.3,60.0 22.1,58.5 25.4,55.5Z M41.3,48.0 45.8,48.0 52.5,49.8 55.5,50.1 58.5,49.9 67.5,48.2 72.0,48.2 75.0,48.8 88.5,52.9 94.5,55.7 98.9,58.5 100.5,60.0 105.2,67.5 105.5,69.0 105.2,70.5 104.3,72.0 102.0,74.0 90.0,80.6 87.0,81.7 83.9,82.5 73.5,83.8 60.0,86.8 52.5,87.4 48.0,86.9 43.0,84.0 27.7,76.5 25.4,75.0 24.3,73.5 23.9,72.0 22.5,64.5 22.5,61.5 22.9,60.0 23.9,58.5 25.5,57.0 36.0,49.9 39.0,48.5Z M39.6,49.5 42.0,49.0 45.0,49.1 51.8,51.0 55.5,51.4 67.5,49.6 72.0,49.7 75.0,50.4 88.5,54.9 96.0,59.0 97.5,60.1 99.7,63.0 102.0,67.5 102.1,69.0 101.4,70.5 99.9,72.0 88.5,79.0 85.5,80.4 73.5,82.7 60.0,86.0 54.0,86.5 49.5,85.9 37.5,80.4 28.5,75.8 25.8,73.5 25.2,72.0 23.8,63.0 24.6,60.0 27.0,57.5 34.5,52.2Z M38.6,51.0 40.5,50.4 43.5,50.1 51.0,52.0 55.5,52.5 67.5,50.8 70.5,50.9 73.5,51.4 85.4,55.5 93.7,60.0 95.5,61.5 97.4,64.5 98.6,67.5 98.5,69.0 97.6,70.5 95.8,72.0 87.0,77.7 83.2,79.5 61.5,85.0 55.5,85.6 51.0,85.1 39.0,80.2 30.0,75.6 27.2,73.5 26.5,72.0 25.2,63.0 26.3,60.0 27.8,58.5 34.5,53.5Z M38.8,52.5 40.5,51.9 43.5,51.6 51.0,53.3 55.5,53.7 69.0,52.4 75.0,53.7 82.5,56.5 90.6,61.5 92.9,64.5 93.7,67.5 93.5,69.0 91.1,72.0 87.3,75.0 84.0,77.1 81.0,78.4 61.5,84.1 55.5,84.5 51.0,83.6 39.0,79.1 30.0,74.2 28.1,72.0 27.0,64.5 27.6,61.5 30.3,58.5 36.0,54.1Z M38.9,54.0 40.5,53.4 43.5,53.1 55.5,54.8 67.5,53.9 70.5,54.2 75.0,55.3 81.0,57.9 87.3,63.0 88.2,64.5 88.7,66.0 88.4,69.0 87.8,70.5 85.5,73.5 81.3,76.5 64.5,82.6 60.0,83.4 55.5,83.4 45.0,80.4 40.5,78.8 31.5,73.9 29.6,72.0 29.1,70.5 28.6,64.5 29.6,61.5 32.6,58.5Z M38.9,55.5 40.5,54.8 43.5,54.4 55.5,55.8 67.5,55.4 73.5,56.3 78.5,58.5 83.2,63.0 84.5,66.0 84.2,69.0 83.0,72.0 80.2,75.0 77.6,76.5 64.5,81.7 60.0,82.5 57.0,82.5 45.0,79.6 40.5,77.8 33.0,73.7 31.1,72.0 30.4,70.5 30.1,66.0 30.7,63.0 32.9,60.0 36.0,57.3Z M38.6,57.0 42.0,55.7 45.0,55.5 55.5,56.8 66.0,56.6 72.0,57.3 75.2,58.5 78.9,61.5 80.9,64.5 81.4,66.0 81.1,69.0 79.7,72.0 76.7,75.0 67.8,79.5 63.8,81.0 60.0,81.6 57.0,81.5 45.0,78.8 42.0,77.6 34.3,73.5 32.5,72.0 31.7,70.5 31.5,66.0 32.3,63.0 34.6,60.0Z M41.3,57.0 43.5,56.5 46.5,56.5 55.5,57.8 67.5,57.8 72.0,58.7 75.0,60.3 77.5,63.0 78.9,66.0 78.7,69.0 77.0,72.0 73.7,75.0 68.6,78.0 63.0,80.3 60.0,80.7 57.0,80.6 45.0,78.0 40.5,76.0 34.5,72.5 33.0,70.5 32.7,69.0 33.2,64.5 34.8,61.5 38.2,58.5Z M40.1,58.5 43.5,57.4 46.5,57.3 57.0,58.8 66.0,58.8 70.5,59.6 73.5,61.1 75.3,63.0 76.9,66.0 76.6,69.0 74.7,72.0 72.0,74.4 66.3,78.0 63.0,79.3 60.0,79.8 57.0,79.7 46.5,77.7 43.2,76.5 37.5,73.5 35.3,72.0 34.2,70.5 33.9,67.5 35.3,63.0 37.5,60.3Z M42.8,58.5 46.5,58.2 57.0,59.7 64.5,59.7 69.0,60.3 72.0,61.8 74.4,64.5 75.2,67.5 74.9,69.0 73.5,71.2 71.1,73.5 66.9,76.5 63.0,78.3 60.0,78.9 57.0,78.9 46.5,77.0 42.0,75.0 36.8,72.0 35.5,70.5 35.1,69.0 35.9,64.5 37.5,61.9 39.5,60.0Z M41.4,60.0 43.5,59.3 46.5,59.0 55.5,60.4 64.5,60.6 67.5,61.0 70.5,62.4 72.5,64.5 73.6,67.5 73.3,69.0 72.4,70.5 69.3,73.5 66.0,75.9 63.0,77.4 60.0,78.1 57.0,78.2 48.0,76.7 40.7,73.5 38.2,72.0 36.8,70.5 36.3,69.0 36.3,67.5 37.2,64.5 39.3,61.5Z M44.4,60.0 48.0,59.9 55.5,61.1 64.5,61.5 67.5,62.2 69.2,63.0 70.8,64.5 71.7,66.0 72.0,67.5 71.7,69.0 70.9,70.5 67.8,73.5 64.5,75.7 61.5,76.9 58.5,77.4 55.5,77.4 48.0,76.0 39.7,72.0 38.1,70.5 37.4,69.0 37.9,66.0 39.5,63.0 42.0,60.8Z M42.9,61.5 45.0,60.8 48.0,60.7 55.5,61.8 63.0,62.2 66.0,62.8 68.9,64.5 70.0,66.0 70.5,67.5 70.3,69.0 69.4,70.5 66.3,73.5 61.5,76.1 57.0,76.8 49.5,75.8 46.5,74.7 41.3,72.0 39.4,70.5 38.7,69.0 38.7,67.5 39.8,64.5 40.9,63.0Z M42.6,63.0 45.0,61.8 48.0,61.6 64.5,63.4 66.9,64.5 68.3,66.0 68.9,67.5 68.8,69.0 66.7,72.0 64.5,73.7 61.5,75.3 57.0,76.1 51.0,75.5 45.8,73.5 43.0,72.0 40.5,70.0 39.9,69.0 39.9,67.5 41.2,64.5Z M44.8,63.0 46.5,62.5 49.5,62.5 63.0,64.1 64.5,64.6 66.5,66.0 67.3,67.5 67.3,69.0 66.6,70.5 65.3,72.0 63.0,73.7 60.0,75.0 55.5,75.4 51.0,74.8 44.7,72.0 42.4,70.5 41.2,69.0 41.1,67.5 41.7,66.0 42.7,64.5Z M44.5,64.5 46.5,63.6 49.5,63.3 60.4,64.5 64.3,66.0 65.5,67.5 65.8,69.0 65.2,70.5 63.8,72.0 61.5,73.5 57.0,74.7 52.5,74.4 49.5,73.5 46.4,72.0 44.0,70.5 42.6,69.0 42.5,67.5 43.1,66.0Z M47.1,64.5 49.5,64.2 52.5,64.3 61.5,65.9 63.5,67.5 64.0,69.0 63.6,70.5 61.5,72.4 58.5,73.7 55.5,74.0 51.0,73.2 45.7,70.5 44.2,69.0 43.9,67.5 44.7,66.0Z M46.7,66.0 48.0,65.4 51.0,65.1 57.9,66.0 61.2,67.5 62.0,69.0 61.8,70.5 60.2,72.0 58.5,72.7 55.5,73.1 52.5,72.7 48.0,70.7 45.9,69.0 45.6,67.5Z M47.6,67.5 49.5,66.3 51.0,66.0 55.5,66.7 58.5,67.8 59.6,69.0 59.5,70.5 57.0,71.9 54.0,72.0 49.5,70.2 47.9,69.0Z M50.8,67.5 53.6,67.5 56.5,69.0 55.7,70.5 53.6,70.5 50.4,69.0Z"/>
<path d="M40.5,55.5 45.0,55.0 55.5,56.3 67.5,56.0 75.0,57.6 78.9,60.0 82.4,64.5 82.9,67.5 82.0,70.5 80.2,73.5 78.4,75.0 69.0,79.5 63.0,81.6 57.0,82.0 43.5,78.7 33.4,73.5 31.8,72.0 30.8,69.0 31.0,64.5 32.4,61.5 36.0,58.1Z M49.5,65.7 48.0,66.0 46.5,67.5 46.8,69.0 51.0,71.7 54.0,72.5 57.0,72.5 58.9,72.0 60.7,70.5 60.9,69.0 58.5,66.9 54.0,65.8Z" fill="#000" fill-opacity="0.25" fill-rule="evenodd" stroke="none"/>
<path d="M44.2,172.2 43.9,174.2 43.3,176.6 41.2,178.3 38.6,177.6 37.0,175.8 35.7,174.2 34.5,172.2 34.8,169.8 36.6,168.1 38.7,167.3 41.0,166.9 43.4,167.7 44.4,170.0Z"/>
<path d="M117.1,152.2 116.2,153.8 114.9,154.9 113.6,155.9 111.8,156.7 109.9,155.9 109.3,153.9 109.5,152.2 109.6,150.6 110.1,148.9 111.8,147.9 113.7,148.3 115.2,149.2 116.5,150.4Z"/>
<ellipse cx="52.3" cy="68.2" rx="4.2" ry="2.0" fill="#fff" stroke="none"/>
<path d="M39.8,57.2 47.8,55.2 57.8,56.2" stroke="#000" stroke-opacity="0.7" stroke-width="3" stroke-linecap="round" stroke-linejoin="round"/>
<path d="M35.8,79.2 45.8,81.2 55.8,79.2" stroke="#000" stroke-opacity="0.7" stroke-width="3" stroke-linecap="round" stroke-linejoin="round"/>
<path d="M223.7,243.0h1.1 M64.4,131.3h1.1 M71.5,135.7h1.1 M96.6,159.1h1.1 M68.7,153.8h1.1 M90.4,146.5h1.1 M40.3,123.4h1.1 M57.8,86.6h1.1 M213.1,157.5h1.1 M195.7,172.7h1.1 M162.5,175.9h1.1 M115.1,189.7h1.1 M139.9,230.4h1.1 M129.6,201.2h1.1 M118.0,96.8h1.1 M80.3,240.5h1.1 M195.5,217.4h1.1 M238.2,248.1h1.1 M119.3,145.5h1.1 M162.4,186.6h1.1 M63.8,177.7h1.1 M178.8,179.8h1.1 M87.5,215.3h1.1" stroke="#4a4a4a" stroke-width="1.1"/>
</g>
<rect x="586.20" y="685.80" width="261.20" height="261.00" fill="none" stroke="#555" stroke-width="1.15"/>
<line x1="579.20" y1="710.80" x2="586.20" y2="710.80" stroke="#444" stroke-width="1.1"/>
<line x1="579.20" y1="768.80" x2="586.20" y2="768.80" stroke="#444" stroke-width="1.1"/>
<line x1="579.20" y1="830.80" x2="586.20" y2="830.80" stroke="#444" stroke-width="1.1"/>
<line x1="579.20" y1="892.80" x2="586.20" y2="892.80" stroke="#444" stroke-width="1.1"/>
<line x1="579.20" y1="914.40" x2="586.20" y2="914.40" stroke="#444" stroke-width="1.1"/>
<line x1="582.70" y1="751.34" x2="586.20" y2="751.34" stroke="#777" stroke-width="0.9"/>
<line x1="582.70" y1="741.13" x2="586.20" y2="741.13" stroke="#777" stroke-width="0.9"/>
<line x1="582.70" y1="733.88" x2="586.20" y2="733.88" stroke="#777" stroke-width="0.9"/>
<line x1="582.70" y1="728.26" x2="586.20" y2="728.26" stroke="#777" stroke-width="0.9"/>
<line x1="582.70" y1="723.67" x2="586.20" y2="723.67" stroke="#777" stroke-width="0.9"/>
<line x1="582.70" y1="719.78" x2="586.20" y2="719.78" stroke="#777" stroke-width="0.9"/>
<line x1="582.70" y1="716.42" x2="586.20" y2="716.42" stroke="#777" stroke-width="0.9"/>
<line x1="582.70" y1="713.45" x2="586.20" y2="713.45" stroke="#777" stroke-width="0.9"/>
<line x1="582.70" y1="812.14" x2="586.20" y2="812.14" stroke="#777" stroke-width="0.9"/>
<line x1="582.70" y1="801.22" x2="586.20" y2="801.22" stroke="#777" stroke-width="0.9"/>
<line x1="582.70" y1="793.47" x2="586.20" y2="793.47" stroke="#777" stroke-width="0.9"/>
<line x1="582.70" y1="787.46" x2="586.20" y2="787.46" stroke="#777" stroke-width="0.9"/>
<line x1="582.70" y1="782.55" x2="586.20" y2="782.55" stroke="#777" stroke-width="0.9"/>
<line x1="582.70" y1="778.40" x2="586.20" y2="778.40" stroke="#777" stroke-width="0.9"/>
<line x1="582.70" y1="774.81" x2="586.20" y2="774.81" stroke="#777" stroke-width="0.9"/>
<line x1="582.70" y1="771.64" x2="586.20" y2="771.64" stroke="#777" stroke-width="0.9"/>
<line x1="582.70" y1="874.14" x2="586.20" y2="874.14" stroke="#777" stroke-width="0.9"/>
<line x1="582.70" y1="863.22" x2="586.20" y2="863.22" stroke="#777" stroke-width="0.9"/>
<line x1="582.70" y1="855.47" x2="586.20" y2="855.47" stroke="#777" stroke-width="0.9"/>
<line x1="582.70" y1="849.46" x2="586.20" y2="849.46" stroke="#777" stroke-width="0.9"/>
<line x1="582.70" y1="844.55" x2="586.20" y2="844.55" stroke="#777" stroke-width="0.9"/>
<line x1="582.70" y1="840.40" x2="586.20" y2="840.40" stroke="#777" stroke-width="0.9"/>
<line x1="582.70" y1="836.81" x2="586.20" y2="836.81" stroke="#777" stroke-width="0.9"/>
<line x1="582.70" y1="833.64" x2="586.20" y2="833.64" stroke="#777" stroke-width="0.9"/>
<line x1="582.70" y1="694.80" x2="586.20" y2="694.80" stroke="#777" stroke-width="0.9"/>
<line x1="582.70" y1="898.80" x2="586.20" y2="898.80" stroke="#777" stroke-width="0.9"/>
<line x1="582.70" y1="902.80" x2="586.20" y2="902.80" stroke="#777" stroke-width="0.9"/>
<line x1="582.70" y1="905.80" x2="586.20" y2="905.80" stroke="#777" stroke-width="0.9"/>
<line x1="582.70" y1="919.00" x2="586.20" y2="919.00" stroke="#777" stroke-width="0.9"/>
<line x1="582.70" y1="922.00" x2="586.20" y2="922.00" stroke="#777" stroke-width="0.9"/>
<line x1="582.70" y1="925.00" x2="586.20" y2="925.00" stroke="#777" stroke-width="0.9"/>
<line x1="582.70" y1="931.00" x2="586.20" y2="931.00" stroke="#777" stroke-width="0.9"/>
<line x1="582.70" y1="939.80" x2="586.20" y2="939.80" stroke="#777" stroke-width="0.9"/>
<line x1="627.80" y1="946.80" x2="627.80" y2="953.80" stroke="#444" stroke-width="1.1"/>
<line x1="701.70" y1="946.80" x2="701.70" y2="953.80" stroke="#444" stroke-width="1.1"/>
<line x1="764.50" y1="946.80" x2="764.50" y2="953.80" stroke="#444" stroke-width="1.1"/>
<line x1="823.40" y1="946.80" x2="823.40" y2="953.80" stroke="#444" stroke-width="1.1"/>
<line x1="720.60" y1="946.80" x2="720.60" y2="950.30" stroke="#777" stroke-width="0.9"/>
<line x1="731.66" y1="946.80" x2="731.66" y2="950.30" stroke="#777" stroke-width="0.9"/>
<line x1="739.51" y1="946.80" x2="739.51" y2="950.30" stroke="#777" stroke-width="0.9"/>
<line x1="745.60" y1="946.80" x2="745.60" y2="950.30" stroke="#777" stroke-width="0.9"/>
<line x1="750.57" y1="946.80" x2="750.57" y2="950.30" stroke="#777" stroke-width="0.9"/>
<line x1="754.77" y1="946.80" x2="754.77" y2="950.30" stroke="#777" stroke-width="0.9"/>
<line x1="758.41" y1="946.80" x2="758.41" y2="950.30" stroke="#777" stroke-width="0.9"/>
<line x1="761.63" y1="946.80" x2="761.63" y2="950.30" stroke="#777" stroke-width="0.9"/>
<line x1="782.23" y1="946.80" x2="782.23" y2="950.30" stroke="#777" stroke-width="0.9"/>
<line x1="792.60" y1="946.80" x2="792.60" y2="950.30" stroke="#777" stroke-width="0.9"/>
<line x1="799.96" y1="946.80" x2="799.96" y2="950.30" stroke="#777" stroke-width="0.9"/>
<line x1="805.67" y1="946.80" x2="805.67" y2="950.30" stroke="#777" stroke-width="0.9"/>
<line x1="810.33" y1="946.80" x2="810.33" y2="950.30" stroke="#777" stroke-width="0.9"/>
<line x1="814.28" y1="946.80" x2="814.28" y2="950.30" stroke="#777" stroke-width="0.9"/>
<line x1="817.69" y1="946.80" x2="817.69" y2="950.30" stroke="#777" stroke-width="0.9"/>
<line x1="820.70" y1="946.80" x2="820.70" y2="950.30" stroke="#777" stroke-width="0.9"/>
<line x1="666.58" y1="946.80" x2="666.58" y2="950.30" stroke="#777" stroke-width="0.9"/>
<line x1="675.42" y1="946.80" x2="675.42" y2="950.30" stroke="#777" stroke-width="0.9"/>
<line x1="681.70" y1="946.80" x2="681.70" y2="950.30" stroke="#777" stroke-width="0.9"/>
<line x1="686.57" y1="946.80" x2="686.57" y2="950.30" stroke="#777" stroke-width="0.9"/>
<line x1="690.55" y1="946.80" x2="690.55" y2="950.30" stroke="#777" stroke-width="0.9"/>
<line x1="693.92" y1="946.80" x2="693.92" y2="950.30" stroke="#777" stroke-width="0.9"/>
<line x1="696.83" y1="946.80" x2="696.83" y2="950.30" stroke="#777" stroke-width="0.9"/>
<line x1="699.40" y1="946.80" x2="699.40" y2="950.30" stroke="#777" stroke-width="0.9"/>
<line x1="591.20" y1="946.80" x2="591.20" y2="950.30" stroke="#555" stroke-width="1.0"/>
<line x1="602.20" y1="946.80" x2="602.20" y2="950.30" stroke="#555" stroke-width="1.0"/>
<line x1="838.20" y1="946.80" x2="838.20" y2="950.30" stroke="#555" stroke-width="1.0"/>
<line x1="613.60" y1="946.80" x2="613.60" y2="953.30" stroke="#222" stroke-width="1.2"/>
<line x1="616.70" y1="946.80" x2="616.70" y2="950.80" stroke="#222" stroke-width="1.6"/>
<line x1="619.20" y1="946.80" x2="619.20" y2="951.80" stroke="#222" stroke-width="1.6"/>
<line x1="621.80" y1="946.80" x2="621.80" y2="950.80" stroke="#222" stroke-width="1.4"/>
<line x1="624.60" y1="946.80" x2="624.60" y2="950.80" stroke="#222" stroke-width="1.2"/>
<line x1="634.70" y1="946.80" x2="634.70" y2="951.80" stroke="#222" stroke-width="1.4"/>
<line x1="637.20" y1="946.80" x2="637.20" y2="950.80" stroke="#222" stroke-width="1.6"/>
<line x1="639.60" y1="946.80" x2="639.60" y2="950.80" stroke="#222" stroke-width="1.2"/>
<line x1="642.20" y1="946.80" x2="642.20" y2="952.80" stroke="#222" stroke-width="1.3"/>
<clipPath id="clipD2"><rect x="0" y="0" width="262.2" height="261.4"/></clipPath>
<g clip-path="url(#clipD2)" transform="translate(898.8,690.8)" fill="none" stroke="#1c1c1c" stroke-width="0.95" stroke-linejoin="round">
<path d="M38.2,49.5 42.0,48.5 48.0,48.1 55.5,48.2 64.5,48.9 72.0,48.2 81.0,48.1 87.0,49.0 94.5,51.4 102.0,55.3 114.0,59.6 130.5,63.3 133.5,64.4 137.8,67.5 141.0,70.5 142.0,73.5 141.7,76.5 140.2,79.5 138.6,81.0 129.0,86.5 126.0,87.4 106.5,90.7 96.0,93.4 91.5,93.9 75.0,94.4 67.5,95.0 63.0,94.7 55.5,93.4 43.5,89.2 33.0,84.0 29.6,81.0 23.9,73.5 22.5,70.7 22.0,67.5 22.2,64.5 23.0,61.5 24.5,58.5 27.0,55.8 29.4,54.0 34.5,51.1Z M169.8,91.5 172.5,90.9 177.0,90.6 190.5,91.5 199.5,93.9 202.5,95.7 204.0,97.3 216.7,114.0 218.7,117.0 220.9,121.5 225.4,138.0 228.0,159.0 228.0,163.5 227.0,171.0 224.5,184.5 224.6,193.5 224.0,198.0 220.6,210.0 217.2,219.0 215.2,228.0 210.9,238.5 209.3,241.5 205.5,246.6 202.1,252.0 199.5,255.0 195.0,257.5 190.5,259.1 186.0,260.0 178.5,260.3 174.0,259.5 168.0,257.1 162.0,253.0 156.0,249.8 154.5,248.7 150.0,243.5 145.5,239.3 138.9,231.0 136.1,226.5 132.0,217.5 130.0,202.5 129.0,199.5 124.6,192.0 123.4,189.0 121.9,183.0 120.8,175.5 121.2,147.0 121.9,139.5 123.5,135.0 130.2,121.5 139.5,109.4 144.0,104.8 157.5,96.4Z M47.3,55.5 52.5,54.9 61.5,55.5 79.5,54.5 82.5,54.8 94.5,59.8 106.5,68.4 112.7,72.0 112.8,73.5 108.0,75.5 93.6,84.0 88.5,85.7 69.0,87.0 60.0,87.0 55.5,86.3 46.5,82.8 39.2,78.0 36.6,75.0 34.9,70.5 34.4,67.5 34.6,64.5 35.5,61.5 36.6,60.0 38.6,58.5 40.5,57.6Z M171.5,100.5 177.0,99.4 184.5,99.3 189.0,100.3 196.5,103.2 199.5,105.0 204.6,111.0 209.6,115.5 211.5,117.9 213.5,121.5 220.1,138.0 222.3,154.5 222.6,160.5 221.7,172.5 219.3,183.0 217.9,195.0 215.3,205.5 214.0,208.5 209.9,214.5 206.3,223.5 199.5,237.2 196.5,240.6 192.0,244.0 189.0,245.5 186.0,246.3 181.5,246.3 174.0,245.3 171.0,244.7 168.0,243.4 159.2,237.0 153.0,229.9 146.1,223.5 143.9,220.5 141.8,216.0 139.6,207.0 136.2,196.5 130.5,183.0 129.2,178.5 129.0,175.5 129.7,166.5 129.2,145.5 129.4,142.5 130.3,139.5 135.6,127.5 144.0,116.6 147.0,113.7 168.0,102.0Z M55.1,61.5 66.0,60.9 76.5,62.0 79.5,62.7 82.7,64.5 85.4,67.5 86.3,70.5 85.8,73.5 84.8,75.0 82.7,76.5 79.5,77.9 76.5,78.7 64.5,80.2 61.5,80.3 58.5,79.7 51.0,76.4 48.7,75.0 46.4,72.0 45.5,69.0 46.1,66.0 48.0,63.8 51.0,62.3Z M175.1,106.5 178.5,105.7 183.0,105.4 187.5,106.1 192.0,107.6 195.0,109.5 206.2,120.0 210.9,126.0 212.9,130.5 215.7,139.5 218.2,151.5 218.7,156.0 218.5,172.5 215.8,181.5 213.9,192.0 210.9,202.5 205.8,211.5 202.0,220.5 197.3,226.5 192.4,234.0 189.0,236.7 186.0,237.7 183.0,238.1 178.5,238.0 175.5,237.4 168.0,234.7 164.8,232.5 154.6,222.0 148.5,213.8 147.0,211.2 144.4,204.0 141.4,193.5 135.7,181.5 134.8,177.0 135.0,162.0 135.8,151.5 135.7,144.0 137.2,138.0 140.7,129.0 144.3,124.5 150.0,119.3 153.0,117.2 169.5,108.6Z M178.3,111.0 181.5,110.6 184.5,110.8 187.5,111.5 190.5,112.8 201.0,120.3 208.4,129.0 210.9,135.0 215.0,151.5 215.6,168.0 215.2,172.5 212.7,180.0 211.1,189.0 207.8,199.5 205.9,204.0 199.5,215.9 197.4,219.0 189.0,228.4 184.5,230.5 180.0,231.2 175.5,230.6 169.5,227.7 159.0,218.6 156.0,215.3 152.2,210.0 148.3,202.5 145.4,193.5 140.2,180.0 139.4,175.5 138.8,165.0 139.7,147.0 140.4,142.5 143.4,135.0 147.0,129.0 151.5,123.8 156.0,120.3 165.0,116.0Z M178.9,115.5 184.5,115.7 189.0,116.7 196.5,120.6 199.5,122.7 201.3,124.5 204.9,129.0 207.2,133.5 212.2,148.5 213.0,154.5 212.6,171.0 210.7,178.5 208.7,189.0 204.0,201.0 196.1,214.5 192.0,219.8 187.5,223.6 184.5,224.9 181.5,225.5 177.0,224.6 169.5,221.3 159.1,213.0 156.5,210.0 151.0,199.5 145.6,186.0 144.5,181.5 142.3,165.0 142.8,150.0 143.6,145.5 147.8,135.0 151.3,129.0 153.0,127.0 156.0,124.3 163.5,120.2 168.0,118.5Z M180.0,120.0 186.0,119.9 189.0,120.5 196.5,124.2 200.4,127.5 203.3,132.0 209.0,145.5 210.4,150.0 210.9,154.5 210.2,169.5 207.1,186.0 205.6,190.5 200.4,201.0 194.3,211.5 192.2,214.5 190.5,216.2 187.5,218.4 183.0,219.7 180.0,219.6 175.5,218.7 171.0,217.0 162.0,210.0 159.3,207.0 150.7,190.5 148.8,186.0 145.9,168.0 145.6,163.5 145.8,153.0 146.5,148.5 151.4,135.0 153.1,132.0 154.5,130.3 157.5,127.9 166.5,122.5 174.0,120.6Z M177.6,123.0 184.5,122.7 187.5,123.1 195.0,126.5 198.0,128.3 200.8,132.0 203.6,139.5 207.5,147.0 208.5,150.0 209.1,153.0 208.3,168.0 205.9,183.0 204.6,187.5 197.5,201.0 191.1,211.5 187.5,214.6 183.0,215.9 177.0,215.2 172.5,213.6 165.7,208.5 162.0,204.5 156.1,195.0 151.9,186.0 148.9,171.0 148.0,165.0 148.0,156.0 148.7,150.0 154.6,135.0 157.5,131.7 166.5,125.3 171.0,123.8Z M173.2,126.0 180.0,125.4 186.0,125.7 189.0,126.8 196.5,130.5 198.8,133.5 201.1,139.5 205.7,148.5 206.9,153.0 206.3,166.5 204.0,181.5 203.2,184.5 195.6,199.5 190.5,207.3 187.5,210.4 185.4,211.5 183.0,212.0 180.0,211.9 175.5,210.7 172.5,209.3 169.5,207.3 166.1,204.0 159.2,195.0 156.8,190.5 155.1,186.0 150.7,166.5 150.3,157.5 150.9,151.5 152.0,148.5 157.5,136.9 160.2,133.5 165.2,129.0 169.5,126.8Z M170.1,129.0 177.0,127.8 184.5,127.9 189.0,129.4 195.0,132.5 196.5,134.0 197.8,136.5 203.4,148.5 204.7,153.0 204.4,165.0 201.4,183.0 195.0,196.5 193.2,199.5 187.5,206.0 184.5,208.0 183.0,208.4 180.0,208.4 177.0,207.8 174.0,206.6 171.0,204.8 168.0,201.9 161.1,193.5 159.3,190.5 157.6,186.0 153.5,168.0 152.6,156.0 153.0,153.0 153.9,150.0 160.1,138.0 162.1,135.0 166.5,130.8Z M172.8,130.5 178.5,129.7 184.5,130.1 189.0,131.6 193.5,134.2 195.6,136.5 200.2,145.5 201.9,150.0 202.7,154.5 202.6,165.0 201.0,173.4 200.2,180.0 199.3,183.0 193.7,195.0 192.0,197.8 189.0,201.0 186.0,203.5 183.0,205.1 181.5,205.4 177.0,204.8 172.5,202.5 169.5,199.7 162.0,190.5 160.4,187.5 158.9,183.0 155.8,166.5 154.9,156.0 155.3,153.0 156.4,150.0 160.9,141.0 163.7,136.5 168.0,132.4Z M175.4,132.0 180.0,131.5 184.5,131.9 187.5,132.8 192.0,135.4 195.0,138.9 198.5,145.5 200.2,150.0 201.0,154.5 201.1,165.0 198.6,180.0 197.6,183.0 192.5,193.5 190.5,196.5 184.5,201.6 181.5,202.7 180.0,202.7 177.0,201.9 172.5,199.1 167.3,193.5 162.2,186.0 160.5,181.6 159.5,177.0 158.2,169.5 157.1,159.0 157.1,154.5 157.9,151.5 161.3,144.0 163.9,139.5 166.4,136.5 168.1,135.0 171.0,133.4Z M177.0,133.5 181.5,133.2 186.0,133.9 189.0,135.2 192.0,137.6 195.0,141.9 197.7,147.0 199.1,151.5 199.9,157.5 199.8,165.0 197.5,178.5 196.2,183.0 192.0,191.1 189.2,195.0 184.5,198.9 181.5,199.9 180.0,199.9 177.0,198.7 171.6,195.0 169.0,192.0 163.5,183.5 162.0,180.2 160.8,175.5 158.7,159.0 158.7,156.0 159.7,151.5 162.4,145.5 165.0,141.0 166.5,139.1 169.7,136.5 174.0,134.3Z M177.5,135.0 181.5,134.7 186.0,135.3 188.5,136.5 190.5,138.1 193.8,142.5 196.5,147.5 198.1,153.0 198.9,159.0 198.5,166.5 196.3,178.5 194.8,183.0 192.0,188.2 189.0,192.3 184.5,196.1 181.5,197.0 178.5,196.2 172.5,192.7 170.6,190.5 164.8,181.5 163.4,178.5 162.2,174.0 160.1,159.0 160.1,156.0 161.3,151.5 163.5,146.7 166.0,142.5 168.0,140.2 171.0,137.8 174.0,136.1Z M177.1,136.5 180.0,136.1 184.5,136.4 187.5,137.4 190.0,139.5 193.2,144.0 195.6,148.5 197.0,153.0 197.7,157.5 197.7,165.0 195.1,178.5 194.2,181.5 192.0,185.7 189.0,189.7 186.0,192.5 183.0,193.9 180.0,193.8 177.0,192.7 174.0,191.0 172.0,189.0 166.2,180.0 164.7,177.0 163.8,174.0 161.5,160.5 161.4,156.0 162.1,153.0 166.5,144.6 168.1,142.5 171.3,139.5 174.0,137.7Z M176.6,138.0 180.0,137.4 184.5,137.7 187.5,138.9 189.0,140.2 191.8,144.0 194.3,148.5 195.9,153.0 196.8,157.5 197.0,162.0 196.7,165.0 193.5,180.2 192.0,183.4 189.0,187.4 186.0,190.1 183.0,191.3 181.5,191.4 178.5,190.7 175.0,189.0 172.5,186.5 168.2,180.0 166.5,177.0 165.4,174.0 162.7,160.5 162.5,157.5 163.0,154.5 164.2,151.5 166.5,147.5 168.8,144.0 171.6,141.0 174.0,139.2Z M177.4,139.5 180.0,139.1 184.5,139.5 187.5,140.9 189.0,142.5 191.1,145.5 193.3,150.0 195.0,154.8 195.8,159.0 195.5,165.0 192.9,177.0 192.0,180.0 190.3,183.0 187.5,186.1 184.5,188.0 183.0,188.3 178.5,187.6 175.5,186.0 174.0,184.6 170.5,180.0 168.7,177.0 167.0,172.5 164.2,160.5 164.2,156.0 165.0,153.6 166.5,150.9 172.5,142.5 175.5,140.2Z M178.1,141.0 181.5,140.8 184.5,141.2 187.5,142.9 189.6,145.5 191.2,148.5 193.6,154.5 194.6,159.0 194.2,165.0 190.9,178.5 189.2,181.5 187.5,183.4 184.5,185.3 183.0,185.5 180.0,185.2 177.0,183.9 174.0,181.5 171.6,178.5 170.0,175.5 168.3,171.0 166.5,165.0 165.7,160.5 165.8,156.0 168.1,151.5 173.2,144.0 175.5,142.0Z M179.1,142.5 184.5,142.9 187.5,144.8 189.1,147.0 190.5,150.0 192.7,156.0 193.3,159.0 193.2,163.5 189.9,177.0 187.5,180.7 186.0,182.0 183.0,182.8 180.0,182.4 177.0,181.1 174.0,178.7 172.7,177.0 171.0,173.9 168.8,168.0 167.1,160.5 167.2,157.5 168.1,154.5 172.5,147.2 175.5,143.8 177.0,143.0Z M175.8,145.5 177.0,144.7 180.0,144.0 183.0,144.1 186.0,145.2 187.5,146.7 188.6,148.5 191.9,157.5 192.1,162.0 189.5,174.0 187.5,178.1 186.0,179.5 184.5,180.2 183.0,180.4 180.0,179.9 177.0,178.7 174.9,177.0 172.0,172.5 169.2,165.0 168.5,160.5 169.0,156.0 173.2,148.5Z M180.3,145.5 184.5,145.9 186.0,146.8 187.4,148.5 189.9,154.5 190.8,159.0 190.5,163.5 188.2,174.0 186.0,177.3 184.5,178.2 183.0,178.4 178.5,177.2 175.9,175.5 174.6,174.0 171.4,168.0 169.9,162.0 169.8,159.0 170.4,156.0 173.5,150.0 175.5,147.5 177.0,146.4Z M179.4,147.0 183.0,146.8 184.5,147.2 186.0,148.3 187.8,151.5 189.6,157.5 189.6,162.0 187.5,172.5 186.0,175.2 184.5,176.3 183.0,176.6 181.5,176.4 178.5,175.2 175.5,172.6 172.5,167.6 171.0,162.0 171.2,157.5 173.0,153.0 175.5,149.2 177.0,147.9Z M178.7,148.5 181.5,148.0 184.5,148.5 186.0,149.9 186.9,151.5 188.6,157.5 188.5,162.0 186.8,171.0 186.0,173.0 185.1,174.0 184.5,174.6 183.0,174.9 180.0,174.1 177.0,172.0 174.0,168.1 172.3,163.5 172.1,159.0 173.3,154.5 175.5,150.9 177.0,149.4Z M178.2,150.0 181.5,149.1 183.0,149.1 184.5,149.8 186.0,151.7 187.4,156.0 187.7,160.5 186.1,169.5 184.7,172.5 183.0,173.2 180.0,172.3 177.0,170.0 174.4,166.5 173.3,163.5 173.0,160.5 173.7,156.0 175.5,152.5Z M177.9,151.5 180.0,150.4 183.0,150.3 184.8,151.5 186.2,154.5 186.9,159.0 186.4,163.5 185.0,169.5 184.5,170.6 183.0,171.5 181.5,171.3 178.5,169.4 175.7,166.5 174.3,163.5 174.0,160.5 174.3,157.5 175.5,154.3Z M180.3,151.5 183.0,151.4 184.5,152.6 185.4,154.5 186.1,157.5 185.8,162.0 184.9,166.5 184.4,168.0 183.0,169.7 181.5,169.5 180.0,168.8 177.3,166.5 175.5,163.7 175.1,162.0 175.0,159.0 175.7,156.0 177.7,153.0Z M179.5,153.0 181.5,152.4 183.0,152.6 184.5,154.3 185.1,156.0 185.4,159.0 185.0,162.0 184.3,165.0 183.0,167.6 181.5,167.8 178.5,165.9 177.0,164.2 176.1,162.0 176.0,159.0 176.8,156.0 177.7,154.5Z M179.2,154.5 181.5,153.5 183.0,153.9 184.5,157.0 184.5,160.5 183.8,163.5 183.0,165.3 181.5,166.0 180.0,165.4 178.5,164.1 177.3,162.0 177.0,160.6 177.3,157.5 177.9,156.0Z M179.2,156.0 181.5,154.7 183.0,155.4 183.8,157.5 183.3,162.0 183.0,163.0 181.5,164.2 179.9,163.5 178.6,162.0 178.1,160.5 178.3,157.5Z M179.6,157.5 181.5,156.0 183.0,157.4 182.8,160.5 181.5,162.4 180.0,161.5 179.5,160.5 179.3,159.0Z"/>
<path d="M175.6,136.5 178.5,135.8 183.0,135.7 186.0,136.3 189.1,138.0 191.7,141.0 195.4,147.0 197.9,156.0 198.0,165.0 194.6,181.5 192.0,186.5 189.0,190.5 186.0,193.4 183.0,194.8 180.0,194.7 175.5,192.9 172.5,190.7 171.0,188.7 164.1,177.0 161.3,162.0 161.3,154.5 165.0,146.0 169.5,140.3Z M181.5,157.1 180.2,159.0 181.5,160.9 182.3,159.0Z" fill="#000" fill-opacity="0.5" fill-rule="evenodd" stroke="none"/>
<path d="M189.9,70.2 188.4,72.1 186.8,73.1 185.2,74.4 183.0,75.1 180.8,74.1 179.8,72.2 179.4,70.2 179.5,68.1 180.9,66.4 183.2,66.1 185.1,66.4 187.3,66.6 189.5,67.9Z"/>
<path d="M83.9,130.2 83.9,132.2 81.0,133.5 77.4,133.9 74.0,134.0 70.5,133.5 68.5,131.9 68.6,130.2 69.1,128.6 70.2,126.8 73.6,125.6 77.6,126.1 79.9,127.6 81.8,128.7Z"/>
<ellipse cx="183.2" cy="157.2" rx="1.8" ry="5.5" fill="#fff" stroke="none"/>
<path d="M69.5,90.1h1.1 M177.4,221.3h1.1 M68.7,124.2h1.1 M97.0,62.5h1.1 M29.7,99.5h1.1 M49.3,46.9h1.1 M125.3,132.8h1.1 M99.3,196.4h1.1 M95.0,71.1h1.1 M61.2,200.9h1.1 M83.8,57.0h1.1 M38.9,63.3h1.1 M102.5,89.3h1.1 M79.9,92.3h1.1 M108.2,73.5h1.1 M116.6,68.0h1.1 M159.2,96.8h1.1 M92.2,61.0h1.1 M50.7,91.6h1.1 M101.4,171.7h1.1 M49.4,111.4h1.1 M78.7,151.3h1.1 M94.7,83.4h1.1 M41.8,69.1h1.1 M37.1,107.6h1.1 M64.5,202.2h1.1 M63.8,80.8h1.1 M28.5,173.8h1.1 M59.0,95.3h1.1 M56.8,96.0h1.1 M84.7,126.4h1.1 M96.8,32.3h1.1 M109.6,68.1h1.1 M99.3,192.5h1.1 M54.0,117.3h1.1 M36.2,120.9h1.1 M81.0,83.8h1.1 M120.1,185.9h1.1 M121.9,72.3h1.1 M21.6,152.2h1.1 M97.0,34.2h1.1 M98.4,116.0h1.1 M106.6,187.2h1.1 M62.5,210.2h1.1 M69.4,198.7h1.1 M44.0,221.7h1.1 M73.2,86.8h1.1 M102.2,150.6h1.1 M72.2,181.1h1.1 M100.9,177.7h1.1 M61.2,150.5h1.1 M114.8,124.7h1.1 M61.0,144.0h1.1 M128.1,103.7h1.1 M116.0,161.5h1.1 M58.0,208.1h1.1 M122.3,106.6h1.1 M111.0,40.9h1.1 M153.3,153.2h1.1 M90.7,198.7h1.1 M94.7,163.6h1.1 M105.3,159.4h1.1 M88.1,69.1h1.1 M108.4,173.1h1.1 M149.0,122.5h1.1 M120.1,117.0h1.1 M84.6,117.0h1.1 M81.9,158.1h1.1 M15.5,112.5h1.1 M115.1,123.3h1.1 M136.6,77.6h1.1 M107.2,67.5h1.1 M80.1,119.3h1.1 M128.9,135.2h1.1 M50.9,106.3h1.1 M100.8,75.6h1.1 M64.8,141.6h1.1 M28.6,173.2h1.1 M102.0,92.2h1.1 M135.9,145.0h1.1 M45.2,223.1h1.1 M61.8,74.2h1.1 M75.6,118.4h1.1 M64.1,128.8h1.1 M148.8,243.5h1.1 M67.2,85.0h1.1 M112.4,69.8h1.1 M76.5,113.7h1.1 M139.4,54.7h1.1 M116.9,240.2h1.1 M60.6,143.1h1.1 M135.6,83.1h1.1 M200.8,148.5h1.1 M37.5,202.7h1.1 M95.4,126.8h1.1 M30.3,133.8h1.1 M56.2,133.1h1.1 M73.6,196.9h1.1 M70.8,78.5h1.1 M73.1,124.3h1.1 M35.7,69.9h1.1 M107.4,98.4h1.1 M105.8,91.7h1.1 M115.4,170.3h1.1 M34.7,164.9h1.1 M70.6,102.1h1.1 M52.1,126.6h1.1 M66.3,103.7h1.1 M76.9,218.4h1.1 M37.9,34.9h1.1 M67.5,100.1h1.1 M61.8,133.3h1.1 M83.5,39.6h1.1 M131.1,85.4h1.1 M109.6,120.5h1.1 M110.0,81.8h1.1 M92.8,151.5h1.1 M74.1,120.7h1.1 M61.7,85.2h1.1 M41.2,148.1h1.1 M128.9,211.5h1.1 M49.0,187.6h1.1 M49.8,122.4h1.1 M171.7,54.9h1.1 M58.7,100.9h1.1 M113.6,148.1h1.1 M47.6,123.8h1.1 M118.9,200.5h1.1 M80.0,116.3h1.1 M49.0,192.1h1.1 M88.0,89.2h1.1 M132.4,223.7h1.1 M77.9,151.7h1.1 M70.8,207.2h1.1 M97.5,118.1h1.1 M70.6,182.8h1.1 M126.8,177.9h1.1 M88.9,198.8h1.1 M53.9,75.0h1.1 M50.6,77.7h1.1 M81.9,116.8h1.1 M97.0,73.4h1.1 M82.5,123.0h1.1 M138.9,229.4h1.1 M31.0,209.7h1.1 M71.8,118.0h1.1 M123.1,102.6h1.1 M112.5,175.0h1.1 M123.2,89.9h1.1 M134.9,131.2h1.1 M100.2,148.3h1.1 M137.6,102.7h1.1 M152.0,254.1h1.1 M104.5,63.3h1.1 M34.9,116.1h1.1 M135.0,122.6h1.1 M101.2,148.4h1.1 M75.3,182.9h1.1 M127.7,172.3h1.1 M110.5,150.9h1.1 M106.4,173.2h1.1 M39.6,153.2h1.1 M35.4,136.6h1.1 M71.9,165.6h1.1 M71.8,128.8h1.1 M72.8,118.9h1.1 M114.9,128.1h1.1 M96.5,89.4h1.1 M172.6,127.9h1.1 M37.2,73.4h1.1 M41.1,97.3h1.1 M120.9,167.0h1.1 M127.7,190.3h1.1 M119.4,117.4h1.1 M29.0,171.2h1.1 M60.2,179.7h1.1 M147.0,177.9h1.1 M132.9,158.8h1.1 M106.5,135.8h1.1 M60.0,53.7h1.1 M62.7,247.8h1.1 M79.9,198.4h1.1 M171.9,112.8h1.1 M78.7,196.1h1.1 M89.4,86.5h1.1 M46.7,97.4h1.1 M136.5,73.2h1.1 M82.7,120.8h1.1 M95.7,69.7h1.1 M65.0,127.3h1.1 M47.2,38.2h1.1 M140.8,124.2h1.1 M88.1,69.2h1.1 M75.6,171.8h1.1 M41.7,218.7h1.1 M149.6,213.9h1.1 M71.4,115.2h1.1 M122.1,145.1h1.1 M82.1,169.6h1.1 M97.6,160.4h1.1 M89.4,187.8h1.1 M38.3,150.1h1.1 M78.0,132.3h1.1 M116.2,107.3h1.1 M155.2,154.0h1.1 M122.9,188.8h1.1 M133.2,148.5h1.1 M30.2,139.4h1.1 M150.7,118.0h1.1 M94.5,100.4h1.1 M62.5,202.8h1.1 M42.1,106.3h1.1 M81.6,103.3h1.1 M50.3,219.7h1.1 M108.2,204.7h1.1 M76.8,148.8h1.1 M73.1,128.1h1.1 M121.0,133.4h1.1 M48.9,193.4h1.1 M186.7,97.0h1.1 M67.4,125.9h1.1 M79.0,152.9h1.1 M98.8,125.7h1.1 M102.8,117.4h1.1 M3.4,161.4h1.1 M91.9,108.5h1.1 M109.2,55.2h1.1 M130.3,116.5h1.1 M76.7,200.6h1.1 M18.0,153.5h1.1 M138.3,140.9h1.1 M71.4,138.2h1.1 M65.6,190.1h1.1 M113.5,177.1h1.1 M97.2,126.1h1.1 M95.2,191.0h1.1 M84.4,201.0h1.1 M108.8,201.0h1.1 M103.8,119.6h1.1 M68.2,87.9h1.1 M120.1,33.6h1.1 M119.1,199.7h1.1 M105.4,96.3h1.1 M80.0,137.3h1.1 M106.5,185.8h1.1 M146.6,185.9h1.1 M101.8,206.5h1.1 M71.5,166.0h1.1 M69.7,119.4h1.1 M89.7,100.1h1.1 M66.9,159.9h1.1 M80.9,98.5h1.1 M137.2,85.4h1.1 M63.1,159.3h1.1 M73.3,82.7h1.1 M99.7,159.0h1.1 M73.7,139.2h1.1 M39.3,167.0h1.1 M75.7,196.4h1.1 M114.0,141.0h1.1 M178.7,125.4h1.1 M83.7,55.9h1.1 M64.7,158.4h1.1 M174.5,110.5h1.1 M51.9,129.7h1.1 M111.1,241.1h1.1 M209.5,168.7h1.1 M75.0,153.5h1.1 M112.5,124.3h1.1 M140.5,99.0h1.1 M87.4,50.6h1.1 M16.4,176.9h1.1 M115.9,108.6h1.1 M87.3,213.3h1.1 M58.5,129.8h1.1 M96.0,125.1h1.1 M77.3,80.9h1.1 M31.7,119.2h1.1 M96.7,188.8h1.1 M147.1,81.3h1.1 M123.0,91.9h1.1 M52.9,117.3h1.1 M84.4,184.4h1.1 M29.2,103.7h1.1 M82.6,127.0h1.1 M115.1,149.8h1.1 M49.2,109.4h1.1 M69.6,55.1h1.1 M100.1,201.6h1.1 M26.3,147.4h1.1 M69.8,67.1h1.1 M103.1,131.1h1.1 M73.5,245.8h1.1 M99.9,196.5h1.1 M62.6,146.2h1.1 M59.2,130.0h1.1 M38.4,119.9h1.1 M143.4,190.9h1.1 M71.4,109.0h1.1 M97.9,55.4h1.1 M116.4,113.3h1.1 M101.1,118.4h1.1 M97.7,192.1h1.1 M125.2,94.3h1.1 M91.2,161.5h1.1 M74.4,84.1h1.1 M135.4,78.1h1.1 M100.9,147.0h1.1 M14.9,161.0h1.1 M116.7,195.1h1.1 M30.3,183.0h1.1 M109.6,92.4h1.1 M120.3,93.4h1.1 M130.9,201.6h1.1 M31.5,111.3h1.1 M79.5,227.0h1.1 M119.7,129.7h1.1 M66.4,216.7h1.1 M109.5,140.5h1.1 M38.9,148.1h1.1 M159.7,106.4h1.1 M99.0,39.0h1.1 M144.2,153.0h1.1 M191.2,35.0h1.1 M183.4,106.1h1.1 M95.2,131.4h1.1 M141.7,77.5h1.1 M214.8,146.0h1.1 M142.2,73.0h1.1 M248.7,17.7h1.1 M243.5,60.0h1.1 M100.0,94.3h1.1 M149.4,47.2h1.1 M174.6,58.7h1.1 M203.0,94.1h1.1 M191.7,63.5h1.1 M239.6,41.5h1.1 M197.6,94.5h1.1 M200.7,104.5h1.1 M148.4,63.8h1.1 M212.5,122.2h1.1 M174.5,123.0h1.1 M201.0,90.0h1.1 M177.3,137.8h1.1 M165.2,129.7h1.1 M181.6,94.1h1.1 M177.1,70.6h1.1 M181.1,39.3h1.1 M224.0,57.6h1.1 M175.8,103.6h1.1 M165.2,95.7h1.1 M177.2,94.4h1.1 M130.9,75.2h1.1 M112.5,98.2h1.1 M170.3,78.8h1.1 M186.2,35.9h1.1 M154.3,81.6h1.1 M105.4,95.6h1.1 M127.1,51.8h1.1 M189.3,83.7h1.1 M126.7,135.8h1.1 M130.0,73.7h1.1 M136.8,24.9h1.1 M134.7,129.0h1.1 M130.4,139.9h1.1 M136.3,78.3h1.1 M178.1,5.7h1.1 M206.3,86.2h1.1 M130.5,87.6h1.1 M119.5,52.0h1.1 M209.5,131.6h1.1 M155.8,76.8h1.1 M142.3,96.7h1.1 M230.9,117.2h1.1 M156.6,69.1h1.1 M206.6,53.9h1.1 M180.1,25.6h1.1 M174.4,95.0h1.1 M136.8,23.9h1.1 M119.2,97.2h1.1 M108.1,35.2h1.1 M148.5,42.2h1.1 M157.4,102.0h1.1 M175.2,136.4h1.1 M200.0,69.2h1.1 M147.6,72.6h1.1 M80.8,27.6h1.1 M129.8,39.5h1.1 M179.7,101.6h1.1 M168.5,46.3h1.1 M218.6,29.1h1.1 M123.8,38.7h1.1 M197.7,44.8h1.1 M100.8,77.4h1.1 M165.7,89.2h1.1 M154.2,74.5h1.1 M110.7,89.2h1.1 M146.6,71.5h1.1 M98.5,49.8h1.1 M131.4,38.6h1.1 M166.4,148.5h1.1 M200.9,100.0h1.1 M149.4,88.8h1.1 M151.3,67.9h1.1 M106.7,43.5h1.1 M207.7,57.8h1.1 M250.6,17.8h1.1 M179.7,33.9h1.1 M211.4,137.5h1.1 M167.6,73.6h1.1 M206.3,68.1h1.1 M133.9,35.6h1.1 M123.1,123.4h1.1 M168.6,31.0h1.1 M245.2,30.4h1.1 M136.3,111.7h1.1 M198.5,51.1h1.1 M213.6,76.0h1.1 M217.6,149.6h1.1 M167.5,49.0h1.1 M217.7,107.5h1.1 M235.5,28.0h1.1 M173.7,108.8h1.1 M157.6,53.9h1.1 M173.1,105.9h1.1 M73.1,72.7h1.1 M178.4,48.8h1.1 M161.4,68.8h1.1 M227.9,58.9h1.1 M155.2,35.2h1.1 M178.7,94.0h1.1 M123.8,78.1h1.1 M200.5,52.4h1.1 M141.0,110.2h1.1 M152.7,27.7h1.1 M254.2,127.5h1.1 M153.8,9.6h1.1 M184.6,67.4h1.1 M166.5,90.8h1.1 M183.3,68.6h1.1 M240.5,47.2h1.1 M211.4,52.8h1.1 M161.8,144.0h1.1 M115.6,105.7h1.1 M146.8,29.6h1.1 M159.4,114.4h1.1 M196.3,102.9h1.1 M132.7,135.1h1.1 M250.6,60.0h1.1 M107.3,80.1h1.1 M202.5,69.0h1.1 M149.9,95.6h1.1 M174.2,17.2h1.1 M136.0,71.1h1.1 M160.8,129.1h1.1 M235.5,81.2h1.1 M216.7,81.4h1.1 M182.2,39.3h1.1 M162.1,16.8h1.1 M166.1,117.1h1.1 M144.1,65.7h1.1 M119.9,77.1h1.1 M95.8,46.1h1.1 M58.5,80.0h1.1 M63.3,73.7h1.1 M43.2,54.7h1.1 M57.8,27.8h1.1 M109.5,124.2h1.1 M69.7,54.0h1.1 M32.0,115.2h1.1 M67.5,66.8h1.1 M72.6,76.1h1.1 M19.1,34.3h1.1 M95.8,37.7h1.1 M95.6,86.8h1.1 M85.2,117.6h1.1 M89.8,7.9h1.1 M29.9,67.0h1.1 M14.9,63.6h1.1 M38.8,46.2h1.1 M49.0,97.5h1.1 M25.4,96.1h1.1 M98.4,93.2h1.1 M66.4,41.6h1.1 M23.2,101.7h1.1 M56.9,67.7h1.1 M51.0,59.5h1.1 M39.9,26.7h1.1 M70.9,131.1h1.1 M84.9,86.8h1.1 M60.4,69.9h1.1 M97.2,54.0h1.1 M158.7,56.3h1.1 M117.9,107.7h1.1 M70.5,82.3h1.1 M63.0,66.8h1.1 M79.7,59.5h1.1 M94.7,70.4h1.1 M76.9,75.8h1.1 M124.9,60.0h1.1 M90.7,44.7h1.1 M24.3,68.7h1.1 M82.6,7.2h1.1 M93.6,52.3h1.1 M48.8,57.9h1.1 M42.5,34.7h1.1 M68.7,56.0h1.1 M43.5,8.6h1.1 M142.4,68.4h1.1 M47.2,30.6h1.1 M59.3,38.5h1.1 M65.1,34.9h1.1 M62.7,58.3h1.1 M86.7,25.8h1.1 M76.2,92.2h1.1 M37.4,104.4h1.1 M23.6,50.5h1.1 M59.7,77.0h1.1 M67.6,65.3h1.1 M56.7,87.3h1.1 M48.8,11.5h1.1 M52.0,60.2h1.1 M78.4,101.3h1.1 M84.4,56.6h1.1 M20.4,42.2h1.1 M37.4,61.0h1.1 M57.6,100.3h1.1 M46.2,41.2h1.1 M16.0,9.4h1.1 M88.4,52.2h1.1 M55.0,75.8h1.1 M136.4,91.0h1.1 M32.1,56.1h1.1 M74.0,87.6h1.1 M65.8,30.6h1.1 M70.3,60.0h1.1 M97.2,83.1h1.1 M95.5,86.2h1.1 M110.5,66.6h1.1 M50.3,55.8h1.1 M27.1,100.8h1.1 M39.2,52.0h1.1 M63.0,49.3h1.1 M81.4,59.1h1.1 M119.5,255.5h1.1 M182.7,188.6h1.1 M221.5,214.3h1.1 M103.5,201.7h1.1 M108.0,198.6h1.1 M141.1,199.7h1.1 M154.3,225.1h1.1 M154.0,235.9h1.1 M146.6,200.8h1.1 M143.4,185.9h1.1 M163.1,157.4h1.1 M219.7,210.3h1.1 M144.0,229.8h1.1 M179.2,251.6h1.1 M111.1,202.7h1.1 M116.1,206.1h1.1 M116.0,196.3h1.1 M96.6,194.0h1.1 M100.0,208.1h1.1 M74.0,165.4h1.1 M110.0,216.0h1.1 M120.5,236.4h1.1 M139.3,248.5h1.1 M129.2,207.9h1.1 M198.9,213.8h1.1 M102.6,236.7h1.1 M108.4,150.2h1.1 M206.2,185.5h1.1 M147.9,225.7h1.1 M201.6,224.4h1.1 M122.4,193.1h1.1 M181.7,192.1h1.1 M205.8,236.5h1.1 M109.8,204.3h1.1 M184.1,174.7h1.1 M94.0,234.0h1.1 M230.5,195.0h1.1 M113.3,201.5h1.1" stroke="#4a4a4a" stroke-width="1.1"/>
</g>
<rect x="898.80" y="690.80" width="262.20" height="261.40" fill="none" stroke="#555" stroke-width="1.15"/>
<line x1="891.80" y1="715.80" x2="898.80" y2="715.80" stroke="#444" stroke-width="1.1"/>
<line x1="891.80" y1="773.80" x2="898.80" y2="773.80" stroke="#444" stroke-width="1.1"/>
<line x1="891.80" y1="835.80" x2="898.80" y2="835.80" stroke="#444" stroke-width="1.1"/>
<line x1="891.80" y1="897.80" x2="898.80" y2="897.80" stroke="#444" stroke-width="1.1"/>
<line x1="891.80" y1="919.60" x2="898.80" y2="919.60" stroke="#444" stroke-width="1.1"/>
<line x1="895.30" y1="756.34" x2="898.80" y2="756.34" stroke="#777" stroke-width="0.9"/>
<line x1="895.30" y1="746.13" x2="898.80" y2="746.13" stroke="#777" stroke-width="0.9"/>
<line x1="895.30" y1="738.88" x2="898.80" y2="738.88" stroke="#777" stroke-width="0.9"/>
<line x1="895.30" y1="733.26" x2="898.80" y2="733.26" stroke="#777" stroke-width="0.9"/>
<line x1="895.30" y1="728.67" x2="898.80" y2="728.67" stroke="#777" stroke-width="0.9"/>
<line x1="895.30" y1="724.78" x2="898.80" y2="724.78" stroke="#777" stroke-width="0.9"/>
<line x1="895.30" y1="721.42" x2="898.80" y2="721.42" stroke="#777" stroke-width="0.9"/>
<line x1="895.30" y1="718.45" x2="898.80" y2="718.45" stroke="#777" stroke-width="0.9"/>
<line x1="895.30" y1="817.14" x2="898.80" y2="817.14" stroke="#777" stroke-width="0.9"/>
<line x1="895.30" y1="806.22" x2="898.80" y2="806.22" stroke="#777" stroke-width="0.9"/>
<line x1="895.30" y1="798.47" x2="898.80" y2="798.47" stroke="#777" stroke-width="0.9"/>
<line x1="895.30" y1="792.46" x2="898.80" y2="792.46" stroke="#777" stroke-width="0.9"/>
<line x1="895.30" y1="787.55" x2="898.80" y2="787.55" stroke="#777" stroke-width="0.9"/>
<line x1="895.30" y1="783.40" x2="898.80" y2="783.40" stroke="#777" stroke-width="0.9"/>
<line x1="895.30" y1="779.81" x2="898.80" y2="779.81" stroke="#777" stroke-width="0.9"/>
<line x1="895.30" y1="776.64" x2="898.80" y2="776.64" stroke="#777" stroke-width="0.9"/>
<line x1="895.30" y1="879.14" x2="898.80" y2="879.14" stroke="#777" stroke-width="0.9"/>
<line x1="895.30" y1="868.22" x2="898.80" y2="868.22" stroke="#777" stroke-width="0.9"/>
<line x1="895.30" y1="860.47" x2="898.80" y2="860.47" stroke="#777" stroke-width="0.9"/>
<line x1="895.30" y1="854.46" x2="898.80" y2="854.46" stroke="#777" stroke-width="0.9"/>
<line x1="895.30" y1="849.55" x2="898.80" y2="849.55" stroke="#777" stroke-width="0.9"/>
<line x1="895.30" y1="845.40" x2="898.80" y2="845.40" stroke="#777" stroke-width="0.9"/>
<line x1="895.30" y1="841.81" x2="898.80" y2="841.81" stroke="#777" stroke-width="0.9"/>
<line x1="895.30" y1="838.64" x2="898.80" y2="838.64" stroke="#777" stroke-width="0.9"/>
<line x1="895.30" y1="699.80" x2="898.80" y2="699.80" stroke="#777" stroke-width="0.9"/>
<line x1="895.30" y1="903.80" x2="898.80" y2="903.80" stroke="#777" stroke-width="0.9"/>
<line x1="895.30" y1="907.80" x2="898.80" y2="907.80" stroke="#777" stroke-width="0.9"/>
<line x1="895.30" y1="910.80" x2="898.80" y2="910.80" stroke="#777" stroke-width="0.9"/>
<line x1="895.30" y1="924.20" x2="898.80" y2="924.20" stroke="#777" stroke-width="0.9"/>
<line x1="895.30" y1="927.20" x2="898.80" y2="927.20" stroke="#777" stroke-width="0.9"/>
<line x1="895.30" y1="930.20" x2="898.80" y2="930.20" stroke="#777" stroke-width="0.9"/>
<line x1="895.30" y1="936.20" x2="898.80" y2="936.20" stroke="#777" stroke-width="0.9"/>
<line x1="895.30" y1="944.80" x2="898.80" y2="944.80" stroke="#777" stroke-width="0.9"/>
<line x1="940.40" y1="952.20" x2="940.40" y2="959.20" stroke="#444" stroke-width="1.1"/>
<line x1="1014.30" y1="952.20" x2="1014.30" y2="959.20" stroke="#444" stroke-width="1.1"/>
<line x1="1077.10" y1="952.20" x2="1077.10" y2="959.20" stroke="#444" stroke-width="1.1"/>
<line x1="1136.00" y1="952.20" x2="1136.00" y2="959.20" stroke="#444" stroke-width="1.1"/>
<line x1="1033.20" y1="952.20" x2="1033.20" y2="955.70" stroke="#777" stroke-width="0.9"/>
<line x1="1044.26" y1="952.20" x2="1044.26" y2="955.70" stroke="#777" stroke-width="0.9"/>
<line x1="1052.11" y1="952.20" x2="1052.11" y2="955.70" stroke="#777" stroke-width="0.9"/>
<line x1="1058.20" y1="952.20" x2="1058.20" y2="955.70" stroke="#777" stroke-width="0.9"/>
<line x1="1063.17" y1="952.20" x2="1063.17" y2="955.70" stroke="#777" stroke-width="0.9"/>
<line x1="1067.37" y1="952.20" x2="1067.37" y2="955.70" stroke="#777" stroke-width="0.9"/>
<line x1="1071.01" y1="952.20" x2="1071.01" y2="955.70" stroke="#777" stroke-width="0.9"/>
<line x1="1074.23" y1="952.20" x2="1074.23" y2="955.70" stroke="#777" stroke-width="0.9"/>
<line x1="1094.83" y1="952.20" x2="1094.83" y2="955.70" stroke="#777" stroke-width="0.9"/>
<line x1="1105.20" y1="952.20" x2="1105.20" y2="955.70" stroke="#777" stroke-width="0.9"/>
<line x1="1112.56" y1="952.20" x2="1112.56" y2="955.70" stroke="#777" stroke-width="0.9"/>
<line x1="1118.27" y1="952.20" x2="1118.27" y2="955.70" stroke="#777" stroke-width="0.9"/>
<line x1="1122.93" y1="952.20" x2="1122.93" y2="955.70" stroke="#777" stroke-width="0.9"/>
<line x1="1126.88" y1="952.20" x2="1126.88" y2="955.70" stroke="#777" stroke-width="0.9"/>
<line x1="1130.29" y1="952.20" x2="1130.29" y2="955.70" stroke="#777" stroke-width="0.9"/>
<line x1="1133.30" y1="952.20" x2="1133.30" y2="955.70" stroke="#777" stroke-width="0.9"/>
<line x1="979.18" y1="952.20" x2="979.18" y2="955.70" stroke="#777" stroke-width="0.9"/>
<line x1="988.02" y1="952.20" x2="988.02" y2="955.70" stroke="#777" stroke-width="0.9"/>
<line x1="994.30" y1="952.20" x2="994.30" y2="955.70" stroke="#777" stroke-width="0.9"/>
<line x1="999.17" y1="952.20" x2="999.17" y2="955.70" stroke="#777" stroke-width="0.9"/>
<line x1="1003.15" y1="952.20" x2="1003.15" y2="955.70" stroke="#777" stroke-width="0.9"/>
<line x1="1006.52" y1="952.20" x2="1006.52" y2="955.70" stroke="#777" stroke-width="0.9"/>
<line x1="1009.43" y1="952.20" x2="1009.43" y2="955.70" stroke="#777" stroke-width="0.9"/>
<line x1="1012.00" y1="952.20" x2="1012.00" y2="955.70" stroke="#777" stroke-width="0.9"/>
<line x1="903.80" y1="952.20" x2="903.80" y2="955.70" stroke="#555" stroke-width="1.0"/>
<line x1="914.80" y1="952.20" x2="914.80" y2="955.70" stroke="#555" stroke-width="1.0"/>
<line x1="1150.80" y1="952.20" x2="1150.80" y2="955.70" stroke="#555" stroke-width="1.0"/>
<line x1="926.20" y1="952.20" x2="926.20" y2="958.70" stroke="#222" stroke-width="1.2"/>
<line x1="929.30" y1="952.20" x2="929.30" y2="956.20" stroke="#222" stroke-width="1.6"/>
<line x1="931.80" y1="952.20" x2="931.80" y2="957.20" stroke="#222" stroke-width="1.6"/>
<line x1="934.40" y1="952.20" x2="934.40" y2="956.20" stroke="#222" stroke-width="1.4"/>
<line x1="937.20" y1="952.20" x2="937.20" y2="956.20" stroke="#222" stroke-width="1.2"/>
<line x1="947.30" y1="952.20" x2="947.30" y2="957.20" stroke="#222" stroke-width="1.4"/>
<line x1="949.80" y1="952.20" x2="949.80" y2="956.20" stroke="#222" stroke-width="1.6"/>
<line x1="952.20" y1="952.20" x2="952.20" y2="956.20" stroke="#222" stroke-width="1.2"/>
<line x1="954.80" y1="952.20" x2="954.80" y2="958.20" stroke="#222" stroke-width="1.3"/>
<rect x="590.20" y="704.40" width="102.00" height="103.80" fill="none" stroke="#000" stroke-width="4.4"/>
<rect x="700.80" y="719.80" width="141.00" height="91.00" fill="none" stroke="#000" stroke-width="4.4"/>
<path d="M708.60,949.0 V814.80 H844.80 V949.0" fill="none" stroke="#000" stroke-width="4.4" stroke-linejoin="miter" stroke-linecap="butt"/>
<rect x="706.40" y="809.00" width="140.60" height="8.60" fill="#000" stroke="none" stroke-width="1"/>
<rect x="903.20" y="710.20" width="102.20" height="103.60" fill="none" stroke="#000" stroke-width="4.4"/>
<rect x="1013.80" y="725.20" width="141.00" height="91.60" fill="none" stroke="#000" stroke-width="4.4"/>
<path d="M1021.60,954.4 V820.50 H1157.80 V954.4" fill="none" stroke="#000" stroke-width="4.4" stroke-linejoin="miter" stroke-linecap="butt"/>
<rect x="1019.40" y="815.00" width="140.60" height="8.20" fill="#000" stroke="none" stroke-width="1"/>
<rect x="587.00" y="690.00" width="61.00" height="31.60" fill="#fff" stroke="none" stroke-width="1"/>
<rect x="744.40" y="692.00" width="59.00" height="32.00" fill="#fff" stroke="none" stroke-width="1"/>
<rect x="800.00" y="919.00" width="47.80" height="32.00" fill="#fff" stroke="none" stroke-width="1"/>
<rect x="843.40" y="919.00" width="3.60" height="30.00" fill="#000" stroke="none" stroke-width="1"/>
<rect x="899.60" y="695.00" width="45.80" height="32.00" fill="#fff" stroke="none" stroke-width="1"/>
<rect x="1065.00" y="697.00" width="43.00" height="33.00" fill="#fff" stroke="none" stroke-width="1"/>
<rect x="1097.00" y="925.00" width="59.00" height="31.00" fill="#fff" stroke="none" stroke-width="1"/>
<path d="M547.6,845.8 V982.0 H685.2" fill="none" stroke="#000" stroke-width="2.8" stroke-linejoin="miter" stroke-linecap="butt"/>
<path d="M535.3,867.3 L547.6,844.8 L559.9,867.3" fill="none" stroke="#000" stroke-width="2.8" stroke-linejoin="miter" stroke-linecap="butt"/>
<path d="M663.7,969.7 L686.2,982.0 L663.7,994.3" fill="none" stroke="#000" stroke-width="2.8" stroke-linejoin="miter" stroke-linecap="butt"/>
<path d="M1289.0,647.0 H1795.6 V980.6" fill="none" stroke="#000" stroke-width="2.2" stroke-linejoin="miter" stroke-linecap="butt"/>
<line x1="1296.00" y1="645.90" x2="1296.00" y2="981.70" stroke="#000" stroke-width="2.4"/>
<line x1="1289.00" y1="980.60" x2="1796.70" y2="980.60" stroke="#000" stroke-width="2.4"/>
<line x1="1289.00" y1="980.60" x2="1296.00" y2="980.60" stroke="#000" stroke-width="2.2"/>
<line x1="1289.00" y1="913.88" x2="1296.00" y2="913.88" stroke="#000" stroke-width="2.2"/>
<line x1="1289.00" y1="847.16" x2="1296.00" y2="847.16" stroke="#000" stroke-width="2.2"/>
<line x1="1289.00" y1="780.44" x2="1296.00" y2="780.44" stroke="#000" stroke-width="2.2"/>
<line x1="1289.00" y1="713.72" x2="1296.00" y2="713.72" stroke="#000" stroke-width="2.2"/>
<line x1="1289.00" y1="647.00" x2="1296.00" y2="647.00" stroke="#000" stroke-width="2.2"/>
<line x1="1357.60" y1="980.60" x2="1357.60" y2="986.10" stroke="#000" stroke-width="2.2"/>
<line x1="1482.60" y1="980.60" x2="1482.60" y2="986.10" stroke="#000" stroke-width="2.2"/>
<line x1="1607.60" y1="980.60" x2="1607.60" y2="986.10" stroke="#000" stroke-width="2.2"/>
<line x1="1733.00" y1="980.60" x2="1733.00" y2="986.10" stroke="#000" stroke-width="2.2"/>
<rect x="1666.00" y="672.00" width="8.00" height="8.00" fill="#000" stroke="none" stroke-width="1"/>
<rect x="1666.15" y="725.15" width="7.70" height="7.70" fill="#fff" stroke="#000" stroke-width="1.3"/>
<rect x="1324.40" y="689.00" width="8.00" height="8.00" fill="#000" stroke="none" stroke-width="1"/>
<rect x="1337.00" y="689.00" width="8.00" height="8.00" fill="#000" stroke="none" stroke-width="1"/>
<rect x="1337.00" y="753.60" width="8.00" height="8.00" fill="#000" stroke="none" stroke-width="1"/>
<rect x="1324.40" y="763.40" width="8.00" height="8.00" fill="#000" stroke="none" stroke-width="1"/>
<rect x="1377.75" y="867.75" width="7.30" height="7.30" fill="#fff" stroke="#000" stroke-width="1.3"/>
<rect x="1377.75" y="893.95" width="7.30" height="7.30" fill="#fff" stroke="#000" stroke-width="1.3"/>
<rect x="1384.35" y="917.95" width="7.30" height="7.30" fill="#fff" stroke="#000" stroke-width="1.3"/>
<rect x="1371.35" y="922.75" width="7.30" height="7.30" fill="#fff" stroke="#000" stroke-width="1.3"/>
<line x1="1333.60" y1="673.60" x2="1383.40" y2="673.60" stroke="#000" stroke-width="1.9" stroke-linecap="round"/>
<rect x="1455.40" y="744.00" width="8.00" height="8.00" fill="#000" stroke="none" stroke-width="1"/>
<rect x="1455.40" y="767.60" width="8.00" height="8.00" fill="#000" stroke="none" stroke-width="1"/>
<rect x="1462.00" y="812.60" width="8.00" height="8.00" fill="#000" stroke="none" stroke-width="1"/>
<rect x="1449.40" y="815.60" width="8.00" height="8.00" fill="#000" stroke="none" stroke-width="1"/>
<line x1="1457.60" y1="719.00" x2="1507.20" y2="719.00" stroke="#000" stroke-width="1.9" stroke-linecap="round"/>
<rect x="1496.75" y="971.95" width="7.30" height="7.30" fill="#fff" stroke="#000" stroke-width="1.3"/>
<rect x="1508.75" y="970.35" width="7.30" height="7.30" fill="#fff" stroke="#000" stroke-width="1.3"/>
<rect x="1498.75" y="975.95" width="7.30" height="7.30" fill="#fff" stroke="#000" stroke-width="1.3"/>
<rect x="1507.35" y="973.35" width="7.30" height="7.30" fill="#fff" stroke="#000" stroke-width="1.3"/>
<rect x="1574.60" y="943.40" width="8.00" height="8.00" fill="#000" stroke="none" stroke-width="1"/>
<rect x="1587.00" y="941.60" width="8.00" height="8.00" fill="#000" stroke="none" stroke-width="1"/>
<rect x="1577.00" y="947.00" width="8.00" height="8.00" fill="#000" stroke="none" stroke-width="1"/>
<rect x="1584.40" y="946.60" width="8.00" height="8.00" fill="#000" stroke="none" stroke-width="1"/>
<line x1="1585.60" y1="928.00" x2="1635.20" y2="928.00" stroke="#000" stroke-width="1.9" stroke-linecap="round"/>
<rect x="1621.95" y="971.75" width="7.30" height="7.30" fill="#fff" stroke="#000" stroke-width="1.3"/>
<rect x="1633.95" y="970.35" width="7.30" height="7.30" fill="#fff" stroke="#000" stroke-width="1.3"/>
<rect x="1623.95" y="974.95" width="7.30" height="7.30" fill="#fff" stroke="#000" stroke-width="1.3"/>
<rect x="1632.35" y="972.35" width="7.30" height="7.30" fill="#fff" stroke="#000" stroke-width="1.3"/>
<rect x="1705.40" y="946.00" width="8.00" height="8.00" fill="#000" stroke="none" stroke-width="1"/>
<rect x="1696.00" y="959.40" width="8.00" height="8.00" fill="#000" stroke="none" stroke-width="1"/>
<rect x="1705.40" y="964.60" width="8.00" height="8.00" fill="#000" stroke="none" stroke-width="1"/>
<rect x="1715.00" y="964.00" width="8.00" height="8.00" fill="#000" stroke="none" stroke-width="1"/>
<rect x="1752.35" y="881.95" width="7.30" height="7.30" fill="#fff" stroke="#000" stroke-width="1.3"/>
<rect x="1752.35" y="906.35" width="7.30" height="7.30" fill="#fff" stroke="#000" stroke-width="1.3"/>
<rect x="1758.95" y="928.35" width="7.30" height="7.30" fill="#fff" stroke="#000" stroke-width="1.3"/>
<rect x="1746.35" y="931.35" width="7.30" height="7.30" fill="#fff" stroke="#000" stroke-width="1.3"/>
<line x1="1710.20" y1="863.60" x2="1759.80" y2="863.60" stroke="#000" stroke-width="1.9" stroke-linecap="round"/>
<line x1="1213.40" y1="318.00" x2="1240.20" y2="318.00" stroke="#000" stroke-width="1.8"/>
<line x1="1254.00" y1="283.40" x2="1281.40" y2="283.40" stroke="#000" stroke-width="1.8"/>
<line x1="1295.60" y1="416.60" x2="1322.40" y2="416.60" stroke="#000" stroke-width="1.8"/>
<line x1="1365.00" y1="367.00" x2="1391.60" y2="367.00" stroke="#000" stroke-width="1.8"/>
<line x1="1406.00" y1="359.00" x2="1433.00" y2="359.00" stroke="#000" stroke-width="1.8"/>
<line x1="1447.00" y1="461.00" x2="1474.00" y2="461.00" stroke="#000" stroke-width="1.8"/>
<line x1="1516.00" y1="444.00" x2="1543.00" y2="444.00" stroke="#000" stroke-width="1.8"/>
<line x1="1558.00" y1="438.40" x2="1584.00" y2="438.40" stroke="#000" stroke-width="1.8"/>
<line x1="1599.00" y1="461.00" x2="1626.00" y2="461.00" stroke="#000" stroke-width="1.8"/>
<line x1="1667.00" y1="447.00" x2="1694.00" y2="447.00" stroke="#000" stroke-width="1.8"/>
<line x1="1709.00" y1="430.00" x2="1736.00" y2="430.00" stroke="#000" stroke-width="1.8"/>
<line x1="1750.00" y1="420.60" x2="1777.00" y2="420.60" stroke="#000" stroke-width="1.8"/>
<line x1="155.00" y1="905.00" x2="177.00" y2="905.00" stroke="#000" stroke-width="1.5"/>
<line x1="189.00" y1="871.60" x2="211.00" y2="871.60" stroke="#000" stroke-width="1.5"/>
<line x1="247.00" y1="763.00" x2="269.60" y2="763.00" stroke="#000" stroke-width="1.5"/>
<line x1="282.00" y1="784.00" x2="304.00" y2="784.00" stroke="#000" stroke-width="1.5"/>
<line x1="316.00" y1="924.60" x2="338.40" y2="924.60" stroke="#000" stroke-width="1.5"/>
<line x1="442.60" y1="921.60" x2="465.00" y2="921.60" stroke="#000" stroke-width="1.5"/>
<line x1="1319.60" y1="727.60" x2="1350.00" y2="727.60" stroke="#333" stroke-width="1.3"/>
<line x1="1366.00" y1="903.60" x2="1396.60" y2="903.60" stroke="#333" stroke-width="1.3"/>
<line x1="1444.00" y1="789.00" x2="1475.00" y2="789.00" stroke="#333" stroke-width="1.3"/>
<line x1="1491.00" y1="977.00" x2="1521.60" y2="977.00" stroke="#333" stroke-width="1.3"/>
<line x1="1569.60" y1="949.00" x2="1600.00" y2="949.00" stroke="#000" stroke-width="1.3"/>
<line x1="1616.00" y1="976.40" x2="1646.60" y2="976.40" stroke="#333" stroke-width="1.3"/>
<line x1="1694.00" y1="962.00" x2="1724.60" y2="962.00" stroke="#000" stroke-width="1.3"/>
<line x1="1741.00" y1="915.40" x2="1771.60" y2="915.40" stroke="#000" stroke-width="1.3"/>
<text transform="translate(54.56,164.90) scale(1.0,1.045)" font-family="'Liberation Sans', sans-serif" font-size="11.00" fill="#5a5a5a">10</text>
<text transform="translate(67.28,160.60) scale(1.0,1.045)" font-family="'Liberation Sans', sans-serif" font-size="8.00" fill="#5a5a5a">5</text>
<text transform="translate(54.56,222.90) scale(1.0,1.045)" font-family="'Liberation Sans', sans-serif" font-size="11.00" fill="#5a5a5a">10</text>
<text transform="translate(67.44,218.60) scale(1.0,1.045)" font-family="'Liberation Sans', sans-serif" font-size="8.00" fill="#5a5a5a">4</text>
<text transform="translate(54.56,284.90) scale(1.0,1.045)" font-family="'Liberation Sans', sans-serif" font-size="11.00" fill="#5a5a5a">10</text>
<text transform="translate(67.32,280.60) scale(1.0,1.045)" font-family="'Liberation Sans', sans-serif" font-size="8.00" fill="#5a5a5a">3</text>
<text transform="translate(54.56,346.90) scale(1.0,1.045)" font-family="'Liberation Sans', sans-serif" font-size="11.00" fill="#5a5a5a">10</text>
<text transform="translate(67.20,342.60) scale(1.0,1.045)" font-family="'Liberation Sans', sans-serif" font-size="8.00" fill="#5a5a5a">2</text>
<text transform="translate(61.18,364.30) scale(1.0,1.045)" font-family="'Liberation Sans', sans-serif" font-size="11.00" fill="#5a5a5a">0</text>
<text transform="translate(122.35,421.40) scale(1.0,1.045)" font-family="'Liberation Sans', sans-serif" font-size="11.00" fill="#5a5a5a">0</text>
<text transform="translate(190.08,421.40) scale(1.0,1.045)" font-family="'Liberation Sans', sans-serif" font-size="11.00" fill="#5a5a5a">10</text>
<text transform="translate(203.52,416.80) scale(1.0,1.045)" font-family="'Liberation Sans', sans-serif" font-size="8.00" fill="#5a5a5a">3</text>
<text transform="translate(252.88,421.40) scale(1.0,1.045)" font-family="'Liberation Sans', sans-serif" font-size="11.00" fill="#5a5a5a">10</text>
<text transform="translate(266.44,416.80) scale(1.0,1.045)" font-family="'Liberation Sans', sans-serif" font-size="8.00" fill="#5a5a5a">4</text>
<text transform="translate(311.78,421.40) scale(1.0,1.045)" font-family="'Liberation Sans', sans-serif" font-size="11.00" fill="#5a5a5a">10</text>
<text transform="translate(325.18,416.80) scale(1.0,1.045)" font-family="'Liberation Sans', sans-serif" font-size="8.00" fill="#5a5a5a">5</text>
<text transform="translate(370.76,169.80) scale(1.0,1.045)" font-family="'Liberation Sans', sans-serif" font-size="11.00" fill="#5a5a5a">10</text>
<text transform="translate(383.48,165.50) scale(1.0,1.045)" font-family="'Liberation Sans', sans-serif" font-size="8.00" fill="#5a5a5a">5</text>
<text transform="translate(370.76,227.80) scale(1.0,1.045)" font-family="'Liberation Sans', sans-serif" font-size="11.00" fill="#5a5a5a">10</text>
<text transform="translate(383.64,223.50) scale(1.0,1.045)" font-family="'Liberation Sans', sans-serif" font-size="8.00" fill="#5a5a5a">4</text>
<text transform="translate(370.76,289.80) scale(1.0,1.045)" font-family="'Liberation Sans', sans-serif" font-size="11.00" fill="#5a5a5a">10</text>
<text transform="translate(383.52,285.50) scale(1.0,1.045)" font-family="'Liberation Sans', sans-serif" font-size="8.00" fill="#5a5a5a">3</text>
<text transform="translate(370.76,351.80) scale(1.0,1.045)" font-family="'Liberation Sans', sans-serif" font-size="11.00" fill="#5a5a5a">10</text>
<text transform="translate(383.40,347.50) scale(1.0,1.045)" font-family="'Liberation Sans', sans-serif" font-size="8.00" fill="#5a5a5a">2</text>
<text transform="translate(377.38,369.20) scale(1.0,1.045)" font-family="'Liberation Sans', sans-serif" font-size="11.00" fill="#5a5a5a">0</text>
<text transform="translate(438.55,425.90) scale(1.0,1.045)" font-family="'Liberation Sans', sans-serif" font-size="11.00" fill="#5a5a5a">0</text>
<text transform="translate(506.28,425.90) scale(1.0,1.045)" font-family="'Liberation Sans', sans-serif" font-size="11.00" fill="#5a5a5a">10</text>
<text transform="translate(519.72,421.30) scale(1.0,1.045)" font-family="'Liberation Sans', sans-serif" font-size="8.00" fill="#5a5a5a">3</text>
<text transform="translate(569.08,425.90) scale(1.0,1.045)" font-family="'Liberation Sans', sans-serif" font-size="11.00" fill="#5a5a5a">10</text>
<text transform="translate(582.64,421.30) scale(1.0,1.045)" font-family="'Liberation Sans', sans-serif" font-size="8.00" fill="#5a5a5a">4</text>
<text transform="translate(627.97,425.90) scale(1.0,1.045)" font-family="'Liberation Sans', sans-serif" font-size="11.00" fill="#5a5a5a">10</text>
<text transform="translate(641.38,421.30) scale(1.0,1.045)" font-family="'Liberation Sans', sans-serif" font-size="8.00" fill="#5a5a5a">5</text>
<text transform="translate(688.76,165.40) scale(1.0,1.045)" font-family="'Liberation Sans', sans-serif" font-size="11.00" fill="#5a5a5a">10</text>
<text transform="translate(701.48,161.10) scale(1.0,1.045)" font-family="'Liberation Sans', sans-serif" font-size="8.00" fill="#5a5a5a">5</text>
<text transform="translate(688.76,223.40) scale(1.0,1.045)" font-family="'Liberation Sans', sans-serif" font-size="11.00" fill="#5a5a5a">10</text>
<text transform="translate(701.64,219.10) scale(1.0,1.045)" font-family="'Liberation Sans', sans-serif" font-size="8.00" fill="#5a5a5a">4</text>
<text transform="translate(688.76,285.40) scale(1.0,1.045)" font-family="'Liberation Sans', sans-serif" font-size="11.00" fill="#5a5a5a">10</text>
<text transform="translate(701.52,281.10) scale(1.0,1.045)" font-family="'Liberation Sans', sans-serif" font-size="8.00" fill="#5a5a5a">3</text>
<text transform="translate(688.76,347.40) scale(1.0,1.045)" font-family="'Liberation Sans', sans-serif" font-size="11.00" fill="#5a5a5a">10</text>
<text transform="translate(701.40,343.10) scale(1.0,1.045)" font-family="'Liberation Sans', sans-serif" font-size="8.00" fill="#5a5a5a">2</text>
<text transform="translate(695.38,364.80) scale(1.0,1.045)" font-family="'Liberation Sans', sans-serif" font-size="11.00" fill="#5a5a5a">0</text>
<text transform="translate(756.55,421.40) scale(1.0,1.045)" font-family="'Liberation Sans', sans-serif" font-size="11.00" fill="#5a5a5a">0</text>
<text transform="translate(824.27,421.40) scale(1.0,1.045)" font-family="'Liberation Sans', sans-serif" font-size="11.00" fill="#5a5a5a">10</text>
<text transform="translate(837.72,416.80) scale(1.0,1.045)" font-family="'Liberation Sans', sans-serif" font-size="8.00" fill="#5a5a5a">3</text>
<text transform="translate(887.08,421.40) scale(1.0,1.045)" font-family="'Liberation Sans', sans-serif" font-size="11.00" fill="#5a5a5a">10</text>
<text transform="translate(900.64,416.80) scale(1.0,1.045)" font-family="'Liberation Sans', sans-serif" font-size="8.00" fill="#5a5a5a">4</text>
<text transform="translate(945.97,421.40) scale(1.0,1.045)" font-family="'Liberation Sans', sans-serif" font-size="11.00" fill="#5a5a5a">10</text>
<text transform="translate(959.38,416.80) scale(1.0,1.045)" font-family="'Liberation Sans', sans-serif" font-size="8.00" fill="#5a5a5a">5</text>
<text transform="translate(87.16,171.60) scale(1.1,1.045)" font-family="'Liberation Sans', sans-serif" font-size="26.20" fill="#1a1a1a" letter-spacing="-0.58">71.1</text>
<text transform="translate(248.44,188.20) scale(1.1,1.045)" font-family="'Liberation Sans', sans-serif" font-size="26.20" fill="#1a1a1a" letter-spacing="1.54">13</text>
<text transform="translate(285.44,393.20) scale(1.1,1.045)" font-family="'Liberation Sans', sans-serif" font-size="26.20" fill="#1a1a1a" letter-spacing="-0.61">10.1</text>
<text transform="translate(403.05,175.60) scale(1.1,1.045)" font-family="'Liberation Sans', sans-serif" font-size="26.20" fill="#1a1a1a" letter-spacing="0.32">56.5</text>
<text transform="translate(553.24,192.60) scale(1.1,1.045)" font-family="'Liberation Sans', sans-serif" font-size="26.20" fill="#1a1a1a" letter-spacing="0.26">19.3</text>
<text transform="translate(601.16,397.20) scale(1.1,1.045)" font-family="'Liberation Sans', sans-serif" font-size="26.20" fill="#1a1a1a" letter-spacing="0.33">21.4</text>
<text transform="translate(721.64,171.20) scale(1.1,1.045)" font-family="'Liberation Sans', sans-serif" font-size="26.20" fill="#1a1a1a" letter-spacing="0.14">1.48</text>
<text transform="translate(871.96,188.60) scale(1.1,1.045)" font-family="'Liberation Sans', sans-serif" font-size="26.20" fill="#1a1a1a" letter-spacing="0.04">2.16</text>
<text transform="translate(919.10,391.80) scale(1.1,1.045)" font-family="'Liberation Sans', sans-serif" font-size="26.20" fill="#1a1a1a" letter-spacing="0.30">94.6</text>
<text transform="translate(177.60,118.40) scale(1.0,1.045)" font-family="'Liberation Sans', sans-serif" font-size="40.00" font-weight="bold" font-style="italic">Tcf7</text>
<text transform="translate(257.08,104.90) scale(1.0,1.045)" font-family="'Liberation Sans', sans-serif" font-size="27.00" font-weight="bold" font-style="italic">+/+</text>
<text transform="translate(496.60,118.60) scale(1.0,1.045)" font-family="'Liberation Sans', sans-serif" font-size="40.00" font-weight="bold" font-style="italic">Tcf7</text>
<text transform="translate(577.50,105.10) scale(1.0,1.045)" font-family="'Liberation Sans', sans-serif" font-size="27.00" font-weight="bold" font-style="italic">+/-</text>
<text transform="translate(813.60,118.60) scale(1.0,1.045)" font-family="'Liberation Sans', sans-serif" font-size="40.00" font-weight="bold" font-style="italic">Tcf7</text>
<text transform="translate(894.27,105.10) scale(1.0,1.045)" font-family="'Liberation Sans', sans-serif" font-size="27.00" font-weight="bold" font-style="italic">-/-</text>
<text transform="translate(31.20,417.54) rotate(-90) scale(1,1.045)" font-family="'Liberation Sans', sans-serif" font-size="33.47" font-weight="bold">CD24</text>
<text transform="translate(51.04,479.00) scale(1.0,1.045)" font-family="'Liberation Sans', sans-serif" font-size="34.11" font-weight="bold">CD73</text>
<text transform="translate(25.74,57.80) scale(1.0,1.045)" font-family="'Liberation Sans', sans-serif" font-size="38.24" font-weight="bold">A</text>
<text transform="translate(1098.07,49.00) scale(1.0,1.045)" font-family="'Liberation Sans', sans-serif" font-size="37.40" font-weight="bold">B</text>
<text transform="translate(1377.64,34.40) scale(1.0,1.0)" font-family="'Liberation Serif', serif" font-size="44.45" font-weight="bold">γδ</text>
<text transform="translate(1433.49,34.40) scale(1.0,1.045)" font-family="'Liberation Sans', sans-serif" font-size="40.00" font-weight="bold">T Cells</text>
<text transform="translate(1155.92,65.00) scale(1.0,1.045)" font-family="'Liberation Sans', sans-serif" font-size="20.00" font-weight="bold">1.5</text>
<text transform="translate(1156.12,199.40) scale(1.0,1.045)" font-family="'Liberation Sans', sans-serif" font-size="20.00" font-weight="bold">1.0</text>
<text transform="translate(1155.92,333.80) scale(1.0,1.045)" font-family="'Liberation Sans', sans-serif" font-size="20.00" font-weight="bold">0.5</text>
<text transform="translate(1156.12,468.20) scale(1.0,1.045)" font-family="'Liberation Sans', sans-serif" font-size="20.00" font-weight="bold">0.0</text>
<text transform="translate(1712.98,90.00) scale(1.0,1.045)" font-family="'Liberation Sans', sans-serif" font-size="23.18" font-weight="bold" font-style="italic">Tcf7</text>
<text transform="translate(1763.02,81.00) scale(1.0,1.045)" font-family="'Liberation Sans', sans-serif" font-size="18.00" font-weight="bold" font-style="italic">+/+</text>
<text transform="translate(1712.98,126.60) scale(1.0,1.045)" font-family="'Liberation Sans', sans-serif" font-size="23.18" font-weight="bold" font-style="italic">Tcf7</text>
<text transform="translate(1763.10,117.60) scale(1.0,1.045)" font-family="'Liberation Sans', sans-serif" font-size="18.00" font-weight="bold" font-style="italic">+/-</text>
<text transform="translate(1712.98,159.20) scale(1.0,1.045)" font-family="'Liberation Sans', sans-serif" font-size="23.18" font-weight="bold" font-style="italic">Tcf7</text>
<text transform="translate(1761.51,150.20) scale(1.0,1.045)" font-family="'Liberation Sans', sans-serif" font-size="18.00" font-weight="bold" font-style="italic">-/-</text>
<text transform="translate(1251.03,144.25) scale(1.0,1.045)" font-family="'Liberation Sans', sans-serif" font-size="27.00" fill="#111" letter-spacing="2.60">***</text>
<text transform="translate(1403.13,253.44) scale(1.0,1.045)" font-family="'Liberation Sans', sans-serif" font-size="27.00" fill="#111" letter-spacing="2.60">***</text>
<text transform="translate(1556.03,402.05) scale(1.0,1.045)" font-family="'Liberation Sans', sans-serif" font-size="27.00" fill="#111" letter-spacing="2.60">***</text>
<text transform="translate(1714.18,338.85) scale(1.0,1.045)" font-family="'Liberation Sans', sans-serif" font-size="27.00" fill="#111" letter-spacing="2.60">**</text>
<text transform="translate(1701.74,380.85) scale(1.0,1.045)" font-family="'Liberation Sans', sans-serif" font-size="27.00" fill="#111" letter-spacing="2.60">*</text>
<text transform="translate(1357.97,515.00) scale(1.0,1.045)" font-family="'Liberation Sans', sans-serif" font-size="33.91" font-weight="bold">Uncom.</text>
<text transform="translate(1528.65,515.00) scale(1.0,1.045)" font-family="'Liberation Sans', sans-serif" font-size="33.86" font-weight="bold">Com.</text>
<text transform="translate(1667.79,515.00) scale(1.0,1.045)" font-family="'Liberation Sans', sans-serif" font-size="33.94" font-weight="bold">Mature</text>
<text transform="translate(19.41,605.60) scale(1.0,1.045)" font-family="'Liberation Sans', sans-serif" font-size="39.69" font-weight="bold">C</text>
<text transform="translate(181.64,626.00) scale(1.0,1.0)" font-family="'Liberation Serif', serif" font-size="44.45" font-weight="bold">γδ</text>
<text transform="translate(238.69,626.00) scale(1.0,1.045)" font-family="'Liberation Sans', sans-serif" font-size="40.00" font-weight="bold">T Cells</text>
<text transform="translate(75.11,651.60) scale(1.0,1.045)" font-family="'Liberation Sans', sans-serif" font-size="17.00" font-weight="bold">80</text>
<text transform="translate(75.11,746.20) scale(1.0,1.045)" font-family="'Liberation Sans', sans-serif" font-size="17.00" font-weight="bold">60</text>
<text transform="translate(75.11,840.80) scale(1.0,1.045)" font-family="'Liberation Sans', sans-serif" font-size="17.00" font-weight="bold">40</text>
<text transform="translate(75.11,935.40) scale(1.0,1.045)" font-family="'Liberation Sans', sans-serif" font-size="17.00" font-weight="bold">20</text>
<text transform="translate(84.56,1030.00) scale(1.0,1.045)" font-family="'Liberation Sans', sans-serif" font-size="17.00" font-weight="bold">0</text>
<text transform="translate(402.05,671.90) scale(1.0,1.045)" font-family="'Liberation Sans', sans-serif" font-size="22.13" font-weight="bold" font-style="italic">Tcf7</text>
<text transform="translate(449.41,664.90) scale(1.0,1.045)" font-family="'Liberation Sans', sans-serif" font-size="16.60" font-weight="bold" font-style="italic">+/+</text>
<text transform="translate(402.05,702.10) scale(1.0,1.045)" font-family="'Liberation Sans', sans-serif" font-size="22.13" font-weight="bold" font-style="italic">Tcf7</text>
<text transform="translate(449.13,695.10) scale(1.0,1.045)" font-family="'Liberation Sans', sans-serif" font-size="16.60" font-weight="bold" font-style="italic">+/-</text>
<text transform="translate(402.05,733.30) scale(1.0,1.045)" font-family="'Liberation Sans', sans-serif" font-size="22.13" font-weight="bold" font-style="italic">Tcf7</text>
<text transform="translate(448.20,726.30) scale(1.0,1.045)" font-family="'Liberation Sans', sans-serif" font-size="16.60" font-weight="bold" font-style="italic">-/-</text>
<text transform="translate(161.72,816.48) scale(1.0,1.045)" font-family="'Liberation Sans', sans-serif" font-size="25.00" fill="#111" letter-spacing="2.60">*</text>
<text transform="translate(276.60,719.48) scale(1.0,1.045)" font-family="'Liberation Sans', sans-serif" font-size="25.00" fill="#111" letter-spacing="2.20">***</text>
<text transform="translate(370.02,1012.30) scale(1.0,1.045)" font-family="'Liberation Sans', sans-serif" font-size="31.00" fill="#111">N.D.</text>
<text transform="translate(556.36,715.40) scale(1.0,1.045)" font-family="'Liberation Sans', sans-serif" font-size="11.00" fill="#5a5a5a">10</text>
<text transform="translate(569.08,711.10) scale(1.0,1.045)" font-family="'Liberation Sans', sans-serif" font-size="8.00" fill="#5a5a5a">5</text>
<text transform="translate(556.36,773.40) scale(1.0,1.045)" font-family="'Liberation Sans', sans-serif" font-size="11.00" fill="#5a5a5a">10</text>
<text transform="translate(569.24,769.10) scale(1.0,1.045)" font-family="'Liberation Sans', sans-serif" font-size="8.00" fill="#5a5a5a">4</text>
<text transform="translate(556.36,835.40) scale(1.0,1.045)" font-family="'Liberation Sans', sans-serif" font-size="11.00" fill="#5a5a5a">10</text>
<text transform="translate(569.12,831.10) scale(1.0,1.045)" font-family="'Liberation Sans', sans-serif" font-size="8.00" fill="#5a5a5a">3</text>
<text transform="translate(556.36,897.40) scale(1.0,1.045)" font-family="'Liberation Sans', sans-serif" font-size="11.00" fill="#5a5a5a">10</text>
<text transform="translate(569.00,893.10) scale(1.0,1.045)" font-family="'Liberation Sans', sans-serif" font-size="8.00" fill="#5a5a5a">2</text>
<text transform="translate(562.98,919.00) scale(1.0,1.045)" font-family="'Liberation Sans', sans-serif" font-size="11.00" fill="#5a5a5a">0</text>
<text transform="translate(624.15,971.40) scale(1.0,1.045)" font-family="'Liberation Sans', sans-serif" font-size="11.00" fill="#5a5a5a">0</text>
<text transform="translate(691.88,971.40) scale(1.0,1.045)" font-family="'Liberation Sans', sans-serif" font-size="11.00" fill="#5a5a5a">10</text>
<text transform="translate(705.32,966.80) scale(1.0,1.045)" font-family="'Liberation Sans', sans-serif" font-size="8.00" fill="#5a5a5a">3</text>
<text transform="translate(754.67,971.40) scale(1.0,1.045)" font-family="'Liberation Sans', sans-serif" font-size="11.00" fill="#5a5a5a">10</text>
<text transform="translate(768.24,966.80) scale(1.0,1.045)" font-family="'Liberation Sans', sans-serif" font-size="8.00" fill="#5a5a5a">4</text>
<text transform="translate(813.58,971.40) scale(1.0,1.045)" font-family="'Liberation Sans', sans-serif" font-size="11.00" fill="#5a5a5a">10</text>
<text transform="translate(826.98,966.80) scale(1.0,1.045)" font-family="'Liberation Sans', sans-serif" font-size="8.00" fill="#5a5a5a">5</text>
<text transform="translate(868.96,720.40) scale(1.0,1.045)" font-family="'Liberation Sans', sans-serif" font-size="11.00" fill="#5a5a5a">10</text>
<text transform="translate(881.68,716.10) scale(1.0,1.045)" font-family="'Liberation Sans', sans-serif" font-size="8.00" fill="#5a5a5a">5</text>
<text transform="translate(868.96,778.40) scale(1.0,1.045)" font-family="'Liberation Sans', sans-serif" font-size="11.00" fill="#5a5a5a">10</text>
<text transform="translate(881.84,774.10) scale(1.0,1.045)" font-family="'Liberation Sans', sans-serif" font-size="8.00" fill="#5a5a5a">4</text>
<text transform="translate(868.96,840.40) scale(1.0,1.045)" font-family="'Liberation Sans', sans-serif" font-size="11.00" fill="#5a5a5a">10</text>
<text transform="translate(881.72,836.10) scale(1.0,1.045)" font-family="'Liberation Sans', sans-serif" font-size="8.00" fill="#5a5a5a">3</text>
<text transform="translate(868.96,902.40) scale(1.0,1.045)" font-family="'Liberation Sans', sans-serif" font-size="11.00" fill="#5a5a5a">10</text>
<text transform="translate(881.60,898.10) scale(1.0,1.045)" font-family="'Liberation Sans', sans-serif" font-size="8.00" fill="#5a5a5a">2</text>
<text transform="translate(875.58,924.20) scale(1.0,1.045)" font-family="'Liberation Sans', sans-serif" font-size="11.00" fill="#5a5a5a">0</text>
<text transform="translate(936.75,976.80) scale(1.0,1.045)" font-family="'Liberation Sans', sans-serif" font-size="11.00" fill="#5a5a5a">0</text>
<text transform="translate(1004.47,976.80) scale(1.0,1.045)" font-family="'Liberation Sans', sans-serif" font-size="11.00" fill="#5a5a5a">10</text>
<text transform="translate(1017.92,972.20) scale(1.0,1.045)" font-family="'Liberation Sans', sans-serif" font-size="8.00" fill="#5a5a5a">3</text>
<text transform="translate(1067.27,976.80) scale(1.0,1.045)" font-family="'Liberation Sans', sans-serif" font-size="11.00" fill="#5a5a5a">10</text>
<text transform="translate(1080.84,972.20) scale(1.0,1.045)" font-family="'Liberation Sans', sans-serif" font-size="8.00" fill="#5a5a5a">4</text>
<text transform="translate(1126.17,976.80) scale(1.0,1.045)" font-family="'Liberation Sans', sans-serif" font-size="11.00" fill="#5a5a5a">10</text>
<text transform="translate(1139.58,972.20) scale(1.0,1.045)" font-family="'Liberation Sans', sans-serif" font-size="8.00" fill="#5a5a5a">5</text>
<text transform="translate(589.56,714.40) scale(1.1,1.045)" font-family="'Liberation Sans', sans-serif" font-size="26.20" fill="#1a1a1a" letter-spacing="0.21">75.2</text>
<text transform="translate(745.84,715.00) scale(1.1,1.045)" font-family="'Liberation Sans', sans-serif" font-size="26.20" fill="#1a1a1a" letter-spacing="-0.04">13.5</text>
<text transform="translate(802.85,943.00) scale(1.1,1.045)" font-family="'Liberation Sans', sans-serif" font-size="26.20" fill="#1a1a1a" letter-spacing="-0.26">5.7</text>
<text transform="translate(901.85,720.00) scale(1.1,1.045)" font-family="'Liberation Sans', sans-serif" font-size="26.20" fill="#1a1a1a" letter-spacing="0.38">5.4</text>
<text transform="translate(1065.85,720.00) scale(1.1,1.045)" font-family="'Liberation Sans', sans-serif" font-size="26.20" fill="#1a1a1a" letter-spacing="0.58">5.5</text>
<text transform="translate(1099.85,948.00) scale(1.1,1.045)" font-family="'Liberation Sans', sans-serif" font-size="26.20" fill="#1a1a1a" letter-spacing="-0.18">84.7</text>
<text transform="translate(657.56,657.00) scale(1.0,1.045)" font-family="'Liberation Sans', sans-serif" font-size="40.60" font-weight="bold">LMC</text>
<text transform="translate(961.60,622.00) scale(1.0,1.045)" font-family="'Liberation Sans', sans-serif" font-size="40.00" font-weight="bold" font-style="italic">Tcf7</text>
<text transform="translate(1039.05,608.50) scale(1.0,1.045)" font-family="'Liberation Sans', sans-serif" font-size="27.00" font-weight="bold" font-style="italic">fl/fl</text>
<text transform="translate(949.80,672.00) scale(1.0,1.045)" font-family="'Liberation Sans', sans-serif" font-size="40.05" font-weight="bold" font-style="italic">Vav-cre</text>
<text transform="translate(538.00,965.73) rotate(-90) scale(1,1.045)" font-family="'Liberation Sans', sans-serif" font-size="33.15" font-weight="bold">CD24</text>
<text transform="translate(567.66,1019.40) scale(1.0,1.045)" font-family="'Liberation Sans', sans-serif" font-size="33.46" font-weight="bold">CD73</text>
<text transform="translate(532.48,612.00) scale(1.0,1.045)" font-family="'Liberation Sans', sans-serif" font-size="38.71" font-weight="bold">D</text>
<text transform="translate(1214.47,603.00) scale(1.0,1.045)" font-family="'Liberation Sans', sans-serif" font-size="38.94" font-weight="bold">E</text>
<text transform="translate(1473.44,617.00) scale(1.0,1.0)" font-family="'Liberation Serif', serif" font-size="44.45" font-weight="bold">γδ</text>
<text transform="translate(1529.29,617.00) scale(1.0,1.045)" font-family="'Liberation Sans', sans-serif" font-size="40.00" font-weight="bold">T Cells</text>
<text transform="translate(1257.92,987.60) scale(1.0,1.045)" font-family="'Liberation Sans', sans-serif" font-size="20.00" font-weight="bold">0.0</text>
<text transform="translate(1257.92,920.88) scale(1.0,1.045)" font-family="'Liberation Sans', sans-serif" font-size="20.00" font-weight="bold">0.2</text>
<text transform="translate(1257.22,854.16) scale(1.0,1.045)" font-family="'Liberation Sans', sans-serif" font-size="20.00" font-weight="bold">0.4</text>
<text transform="translate(1257.92,787.44) scale(1.0,1.045)" font-family="'Liberation Sans', sans-serif" font-size="20.00" font-weight="bold">0.6</text>
<text transform="translate(1257.72,720.72) scale(1.0,1.045)" font-family="'Liberation Sans', sans-serif" font-size="20.00" font-weight="bold">0.8</text>
<text transform="translate(1257.92,654.00) scale(1.0,1.045)" font-family="'Liberation Sans', sans-serif" font-size="20.00" font-weight="bold">1.0</text>
<text transform="translate(1684.83,682.40) scale(1.0,1.045)" font-family="'Liberation Sans', sans-serif" font-size="27.20" font-weight="bold">LMC</text>
<text transform="translate(1682.23,726.00) scale(1.0,1.045)" font-family="'Liberation Sans', sans-serif" font-size="27.12" font-weight="bold" font-style="italic">Vav-Cre-</text>
<text transform="translate(1682.53,764.00) scale(1.0,1.045)" font-family="'Liberation Sans', sans-serif" font-size="26.71" font-weight="bold" font-style="italic">Tcf7f/f</text>
<text transform="translate(1349.03,675.47) scale(1.0,1.045)" font-family="'Liberation Sans', sans-serif" font-size="22.00" fill="#111" letter-spacing="1.60">**</text>
<text transform="translate(1467.55,720.87) scale(1.0,1.045)" font-family="'Liberation Sans', sans-serif" font-size="22.00" fill="#111" letter-spacing="1.60">***</text>
<text transform="translate(1595.15,929.87) scale(1.0,1.045)" font-family="'Liberation Sans', sans-serif" font-size="22.00" fill="#111" letter-spacing="1.60">***</text>
<text transform="translate(1730.31,865.47) scale(1.0,1.045)" font-family="'Liberation Sans', sans-serif" font-size="22.00" fill="#111" letter-spacing="2.60">*</text>
<text transform="translate(1434.95,1029.00) scale(1.0,1.045)" font-family="'Liberation Sans', sans-serif" font-size="34.19" font-weight="bold">Uncom.</text>
<text transform="translate(1577.65,1029.00) scale(1.0,1.045)" font-family="'Liberation Sans', sans-serif" font-size="33.86" font-weight="bold">Com.</text>
<text transform="translate(1688.79,1029.00) scale(1.0,1.045)" font-family="'Liberation Sans', sans-serif" font-size="33.94" font-weight="bold">Mature</text>
<text transform="translate(1128.70,378.24) rotate(-90) scale(1,1.045)"><tspan font-family="'Liberation Sans', sans-serif" font-size="33.75" font-weight="bold">Total cells (x10</tspan><tspan font-family="'Liberation Sans', sans-serif" font-size="22.50" font-weight="bold" dy="-10.74">6</tspan><tspan font-family="'Liberation Sans', sans-serif" font-size="33.75" font-weight="bold" dy="10.74">)</tspan></text>
<text transform="translate(1211.06,515.00) scale(1,1.045)"><tspan font-family="'Liberation Sans', sans-serif" font-size="34.20" font-weight="bold">Tot. </tspan><tspan font-family="'Liberation Serif', serif" font-size="35.24">γδ</tspan></text>
<text transform="translate(38.00,986.66) rotate(-90) scale(1,1.045)"><tspan font-family="'Liberation Sans', sans-serif" font-size="33.00" font-weight="bold">% of </tspan><tspan font-family="'Liberation Serif', serif" font-size="34.00">γδ</tspan><tspan font-family="'Liberation Sans', sans-serif" font-size="33.00" font-weight="bold">TCR+ cells</tspan></text>
<text transform="translate(147.06,1077.00) scale(1,1.045)"><tspan font-family="'Liberation Sans', sans-serif" font-size="28.77" font-weight="bold">V</tspan><tspan font-family="'Liberation Serif', serif" font-size="29.65">γ</tspan><tspan font-family="'Liberation Sans', sans-serif" font-size="28.77" font-weight="bold">1</tspan></text>
<text transform="translate(276.04,1077.00) scale(1,1.045)"><tspan font-family="'Liberation Sans', sans-serif" font-size="31.64" font-weight="bold">V</tspan><tspan font-family="'Liberation Serif', serif" font-size="32.60">γ</tspan><tspan font-family="'Liberation Sans', sans-serif" font-size="31.64" font-weight="bold">2</tspan></text>
<text transform="translate(403.04,1077.00) scale(1,1.045)"><tspan font-family="'Liberation Sans', sans-serif" font-size="31.64" font-weight="bold">V</tspan><tspan font-family="'Liberation Serif', serif" font-size="32.60">γ</tspan><tspan font-family="'Liberation Sans', sans-serif" font-size="31.64" font-weight="bold">3</tspan></text>
<text transform="translate(1238.50,946.84) rotate(-90) scale(1,1.045)"><tspan font-family="'Liberation Sans', sans-serif" font-size="34.11" font-weight="bold">Total cells (x10</tspan><tspan font-family="'Liberation Sans', sans-serif" font-size="22.74" font-weight="bold" dy="-10.85">6</tspan><tspan font-family="'Liberation Sans', sans-serif" font-size="34.11" font-weight="bold" dy="10.85">)</tspan></text>
<text transform="translate(1316.06,1029.00) scale(1,1.045)"><tspan font-family="'Liberation Sans', sans-serif" font-size="34.20" font-weight="bold">Tot. </tspan><tspan font-family="'Liberation Serif', serif" font-size="35.24">γδ</tspan></text>
</svg>
</body></html>
